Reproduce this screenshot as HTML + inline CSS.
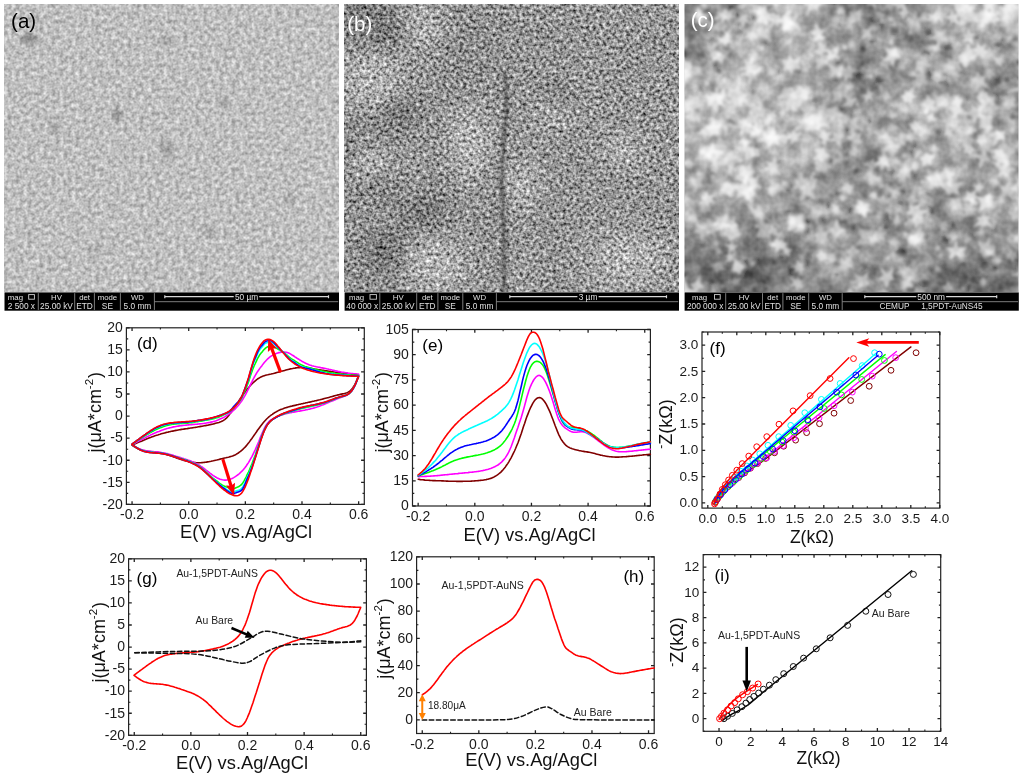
<!DOCTYPE html><html><head><meta charset="utf-8"><style>html,body{margin:0;padding:0;background:#fff;}svg{display:block;will-change:transform;font-family:"Liberation Sans", sans-serif;}</style></head><body>
<svg width="1024" height="776" viewBox="0 0 1024 776">
<rect width="1024" height="776" fill="#fff"/>
<defs>
<clipPath id="cpa"><rect x="4" y="4" width="335" height="288"/></clipPath>
<clipPath id="cpb"><rect x="344" y="4" width="335" height="288"/></clipPath>
<clipPath id="cpc"><rect x="684.5" y="4" width="334" height="288"/></clipPath>
<filter id="fa" x="-1" y="-1" width="345" height="298" filterUnits="userSpaceOnUse" color-interpolation-filters="sRGB"><feGaussianBlur in="SourceGraphic" stdDeviation="12" result="m"/><feTurbulence type="fractalNoise" baseFrequency="0.25" numOctaves="2" seed="4" result="n"/><feColorMatrix in="n" type="matrix" values="1 0 0 0 0 1 0 0 0 0 1 0 0 0 0 0 0 0 0 1" result="g"/><feComposite in="m" in2="g" operator="arithmetic" k1="0" k2="1" k3="0.5" k4="-0.25"/></filter>
<filter id="fb" x="339" y="-1" width="345" height="298" filterUnits="userSpaceOnUse" color-interpolation-filters="sRGB"><feGaussianBlur in="SourceGraphic" stdDeviation="10" result="m"/><feTurbulence type="fractalNoise" baseFrequency="0.3" numOctaves="2" seed="7" result="n"/><feColorMatrix in="n" type="matrix" values="1 0 0 0 0 1 0 0 0 0 1 0 0 0 0 0 0 0 0 1" result="g"/><feComponentTransfer in="g" result="g2"><feFuncR type="gamma" exponent="0.6"/><feFuncG type="gamma" exponent="0.6"/><feFuncB type="gamma" exponent="0.6"/></feComponentTransfer><feComposite in="m" in2="g2" operator="arithmetic" k1="0" k2="1" k3="1.4" k4="-0.8959999999999999"/></filter>
<filter id="fc" x="679.5" y="-1" width="344" height="298" filterUnits="userSpaceOnUse" color-interpolation-filters="sRGB"><feGaussianBlur in="SourceGraphic" stdDeviation="11" result="m"/><feTurbulence type="fractalNoise" baseFrequency="0.06" numOctaves="3" seed="23" result="n"/><feColorMatrix in="n" type="matrix" values="1 0 0 0 0 1 0 0 0 0 1 0 0 0 0 0 0 0 0 1" result="g"/><feComposite in="m" in2="g" operator="arithmetic" k1="0" k2="1" k3="0.5" k4="-0.25"/></filter>
<filter id="fcf" x="670" y="-10" width="360" height="310" filterUnits="userSpaceOnUse"><feGaussianBlur stdDeviation="1.7"/></filter>
<filter id="fas" x="0" y="0" width="345" height="300" filterUnits="userSpaceOnUse"><feGaussianBlur stdDeviation="2.5"/></filter>
<filter id="cb" x="480" y="50" width="50" height="260" filterUnits="userSpaceOnUse"><feGaussianBlur stdDeviation="1.5"/></filter>
</defs>
<g clip-path="url(#cpa)"><g filter="url(#fa)"><rect x="-36" y="-36" width="68.42" height="69.3" fill="#bfbfbf"/><rect x="31.92" y="-36" width="28.42" height="69.3" fill="#bfbfbf"/><rect x="59.83" y="-36" width="28.42" height="69.3" fill="#bfbfbf"/><rect x="87.75" y="-36" width="28.42" height="69.3" fill="#bfbfbf"/><rect x="115.67" y="-36" width="28.42" height="69.3" fill="#bfbfbf"/><rect x="143.58" y="-36" width="28.42" height="69.3" fill="#bfbfbf"/><rect x="171.5" y="-36" width="28.42" height="69.3" fill="#bfbfbf"/><rect x="199.42" y="-36" width="28.42" height="69.3" fill="#bfbfbf"/><rect x="227.33" y="-36" width="28.42" height="69.3" fill="#bfbfbf"/><rect x="255.25" y="-36" width="28.42" height="69.3" fill="#bfbfbf"/><rect x="283.17" y="-36" width="28.42" height="69.3" fill="#bfbfbf"/><rect x="311.08" y="-36" width="68.42" height="69.3" fill="#bfbfbf"/><rect x="-36" y="32.8" width="68.42" height="29.3" fill="#bfbfbf"/><rect x="31.92" y="32.8" width="28.42" height="29.3" fill="#bfbfbf"/><rect x="59.83" y="32.8" width="28.42" height="29.3" fill="#bfbfbf"/><rect x="87.75" y="32.8" width="28.42" height="29.3" fill="#bfbfbf"/><rect x="115.67" y="32.8" width="28.42" height="29.3" fill="#bfbfbf"/><rect x="143.58" y="32.8" width="28.42" height="29.3" fill="#bfbfbf"/><rect x="171.5" y="32.8" width="28.42" height="29.3" fill="#bfbfbf"/><rect x="199.42" y="32.8" width="28.42" height="29.3" fill="#bfbfbf"/><rect x="227.33" y="32.8" width="28.42" height="29.3" fill="#bfbfbf"/><rect x="255.25" y="32.8" width="28.42" height="29.3" fill="#bfbfbf"/><rect x="283.17" y="32.8" width="28.42" height="29.3" fill="#bfbfbf"/><rect x="311.08" y="32.8" width="68.42" height="29.3" fill="#bfbfbf"/><rect x="-36" y="61.6" width="68.42" height="29.3" fill="#bfbfbf"/><rect x="31.92" y="61.6" width="28.42" height="29.3" fill="#bfbfbf"/><rect x="59.83" y="61.6" width="28.42" height="29.3" fill="#bfbfbf"/><rect x="87.75" y="61.6" width="28.42" height="29.3" fill="#bfbfbf"/><rect x="115.67" y="61.6" width="28.42" height="29.3" fill="#bfbfbf"/><rect x="143.58" y="61.6" width="28.42" height="29.3" fill="#bfbfbf"/><rect x="171.5" y="61.6" width="28.42" height="29.3" fill="#bfbfbf"/><rect x="199.42" y="61.6" width="28.42" height="29.3" fill="#bfbfbf"/><rect x="227.33" y="61.6" width="28.42" height="29.3" fill="#bfbfbf"/><rect x="255.25" y="61.6" width="28.42" height="29.3" fill="#bfbfbf"/><rect x="283.17" y="61.6" width="28.42" height="29.3" fill="#bfbfbf"/><rect x="311.08" y="61.6" width="68.42" height="29.3" fill="#bfbfbf"/><rect x="-36" y="90.4" width="68.42" height="29.3" fill="#bfbfbf"/><rect x="31.92" y="90.4" width="28.42" height="29.3" fill="#bfbfbf"/><rect x="59.83" y="90.4" width="28.42" height="29.3" fill="#bfbfbf"/><rect x="87.75" y="90.4" width="28.42" height="29.3" fill="#bfbfbf"/><rect x="115.67" y="90.4" width="28.42" height="29.3" fill="#bfbfbf"/><rect x="143.58" y="90.4" width="28.42" height="29.3" fill="#bfbfbf"/><rect x="171.5" y="90.4" width="28.42" height="29.3" fill="#bfbfbf"/><rect x="199.42" y="90.4" width="28.42" height="29.3" fill="#bfbfbf"/><rect x="227.33" y="90.4" width="28.42" height="29.3" fill="#bfbfbf"/><rect x="255.25" y="90.4" width="28.42" height="29.3" fill="#bfbfbf"/><rect x="283.17" y="90.4" width="28.42" height="29.3" fill="#bfbfbf"/><rect x="311.08" y="90.4" width="68.42" height="29.3" fill="#bfbfbf"/><rect x="-36" y="119.2" width="68.42" height="29.3" fill="#bfbfbf"/><rect x="31.92" y="119.2" width="28.42" height="29.3" fill="#bfbfbf"/><rect x="59.83" y="119.2" width="28.42" height="29.3" fill="#bfbfbf"/><rect x="87.75" y="119.2" width="28.42" height="29.3" fill="#bfbfbf"/><rect x="115.67" y="119.2" width="28.42" height="29.3" fill="#bfbfbf"/><rect x="143.58" y="119.2" width="28.42" height="29.3" fill="#bfbfbf"/><rect x="171.5" y="119.2" width="28.42" height="29.3" fill="#bfbfbf"/><rect x="199.42" y="119.2" width="28.42" height="29.3" fill="#bfbfbf"/><rect x="227.33" y="119.2" width="28.42" height="29.3" fill="#bfbfbf"/><rect x="255.25" y="119.2" width="28.42" height="29.3" fill="#bfbfbf"/><rect x="283.17" y="119.2" width="28.42" height="29.3" fill="#bfbfbf"/><rect x="311.08" y="119.2" width="68.42" height="29.3" fill="#bfbfbf"/><rect x="-36" y="148" width="68.42" height="29.3" fill="#bfbfbf"/><rect x="31.92" y="148" width="28.42" height="29.3" fill="#bfbfbf"/><rect x="59.83" y="148" width="28.42" height="29.3" fill="#bfbfbf"/><rect x="87.75" y="148" width="28.42" height="29.3" fill="#bfbfbf"/><rect x="115.67" y="148" width="28.42" height="29.3" fill="#bfbfbf"/><rect x="143.58" y="148" width="28.42" height="29.3" fill="#bfbfbf"/><rect x="171.5" y="148" width="28.42" height="29.3" fill="#bfbfbf"/><rect x="199.42" y="148" width="28.42" height="29.3" fill="#bfbfbf"/><rect x="227.33" y="148" width="28.42" height="29.3" fill="#bfbfbf"/><rect x="255.25" y="148" width="28.42" height="29.3" fill="#bfbfbf"/><rect x="283.17" y="148" width="28.42" height="29.3" fill="#bfbfbf"/><rect x="311.08" y="148" width="68.42" height="29.3" fill="#bfbfbf"/><rect x="-36" y="176.8" width="68.42" height="29.3" fill="#bfbfbf"/><rect x="31.92" y="176.8" width="28.42" height="29.3" fill="#bfbfbf"/><rect x="59.83" y="176.8" width="28.42" height="29.3" fill="#bfbfbf"/><rect x="87.75" y="176.8" width="28.42" height="29.3" fill="#bfbfbf"/><rect x="115.67" y="176.8" width="28.42" height="29.3" fill="#bfbfbf"/><rect x="143.58" y="176.8" width="28.42" height="29.3" fill="#bfbfbf"/><rect x="171.5" y="176.8" width="28.42" height="29.3" fill="#bfbfbf"/><rect x="199.42" y="176.8" width="28.42" height="29.3" fill="#bfbfbf"/><rect x="227.33" y="176.8" width="28.42" height="29.3" fill="#bfbfbf"/><rect x="255.25" y="176.8" width="28.42" height="29.3" fill="#bfbfbf"/><rect x="283.17" y="176.8" width="28.42" height="29.3" fill="#bfbfbf"/><rect x="311.08" y="176.8" width="68.42" height="29.3" fill="#bfbfbf"/><rect x="-36" y="205.6" width="68.42" height="29.3" fill="#bfbfbf"/><rect x="31.92" y="205.6" width="28.42" height="29.3" fill="#bfbfbf"/><rect x="59.83" y="205.6" width="28.42" height="29.3" fill="#bfbfbf"/><rect x="87.75" y="205.6" width="28.42" height="29.3" fill="#bfbfbf"/><rect x="115.67" y="205.6" width="28.42" height="29.3" fill="#bfbfbf"/><rect x="143.58" y="205.6" width="28.42" height="29.3" fill="#bfbfbf"/><rect x="171.5" y="205.6" width="28.42" height="29.3" fill="#bfbfbf"/><rect x="199.42" y="205.6" width="28.42" height="29.3" fill="#bfbfbf"/><rect x="227.33" y="205.6" width="28.42" height="29.3" fill="#bfbfbf"/><rect x="255.25" y="205.6" width="28.42" height="29.3" fill="#bfbfbf"/><rect x="283.17" y="205.6" width="28.42" height="29.3" fill="#bfbfbf"/><rect x="311.08" y="205.6" width="68.42" height="29.3" fill="#bfbfbf"/><rect x="-36" y="234.4" width="68.42" height="29.3" fill="#bfbfbf"/><rect x="31.92" y="234.4" width="28.42" height="29.3" fill="#bfbfbf"/><rect x="59.83" y="234.4" width="28.42" height="29.3" fill="#bfbfbf"/><rect x="87.75" y="234.4" width="28.42" height="29.3" fill="#bfbfbf"/><rect x="115.67" y="234.4" width="28.42" height="29.3" fill="#bfbfbf"/><rect x="143.58" y="234.4" width="28.42" height="29.3" fill="#bfbfbf"/><rect x="171.5" y="234.4" width="28.42" height="29.3" fill="#bfbfbf"/><rect x="199.42" y="234.4" width="28.42" height="29.3" fill="#bfbfbf"/><rect x="227.33" y="234.4" width="28.42" height="29.3" fill="#bfbfbf"/><rect x="255.25" y="234.4" width="28.42" height="29.3" fill="#bfbfbf"/><rect x="283.17" y="234.4" width="28.42" height="29.3" fill="#bfbfbf"/><rect x="311.08" y="234.4" width="68.42" height="29.3" fill="#bfbfbf"/><rect x="-36" y="263.2" width="68.42" height="69.3" fill="#bfbfbf"/><rect x="31.92" y="263.2" width="28.42" height="69.3" fill="#bfbfbf"/><rect x="59.83" y="263.2" width="28.42" height="69.3" fill="#bfbfbf"/><rect x="87.75" y="263.2" width="28.42" height="69.3" fill="#bfbfbf"/><rect x="115.67" y="263.2" width="28.42" height="69.3" fill="#bfbfbf"/><rect x="143.58" y="263.2" width="28.42" height="69.3" fill="#bfbfbf"/><rect x="171.5" y="263.2" width="28.42" height="69.3" fill="#bfbfbf"/><rect x="199.42" y="263.2" width="28.42" height="69.3" fill="#bfbfbf"/><rect x="227.33" y="263.2" width="28.42" height="69.3" fill="#bfbfbf"/><rect x="255.25" y="263.2" width="28.42" height="69.3" fill="#bfbfbf"/><rect x="283.17" y="263.2" width="28.42" height="69.3" fill="#bfbfbf"/><rect x="311.08" y="263.2" width="68.42" height="69.3" fill="#bfbfbf"/></g><g filter="url(#fas)"><ellipse cx="30" cy="39" rx="8" ry="5" fill="#000" fill-opacity="0.3"/><ellipse cx="165" cy="42" rx="7" ry="3" fill="#000" fill-opacity="0.2"/><ellipse cx="224" cy="103" rx="6" ry="3" fill="#000" fill-opacity="0.2"/><ellipse cx="117" cy="115" rx="5" ry="7" fill="#000" fill-opacity="0.2"/><ellipse cx="167" cy="150" rx="6" ry="9" fill="#000" fill-opacity="0.18"/><ellipse cx="55" cy="128" rx="5" ry="6" fill="#000" fill-opacity="0.18"/><ellipse cx="210" cy="232" rx="6" ry="4" fill="#000" fill-opacity="0.18"/><ellipse cx="95" cy="250" rx="5" ry="4" fill="#000" fill-opacity="0.15"/><ellipse cx="290" cy="200" rx="4" ry="6" fill="#000" fill-opacity="0.15"/></g></g>
<g clip-path="url(#cpb)"><g filter="url(#fb)"><rect x="304" y="-36" width="68.42" height="69.3" fill="#787878"/><rect x="371.92" y="-36" width="28.42" height="69.3" fill="#818181"/><rect x="399.83" y="-36" width="28.42" height="69.3" fill="#9d9d9d"/><rect x="427.75" y="-36" width="28.42" height="69.3" fill="#919191"/><rect x="455.67" y="-36" width="28.42" height="69.3" fill="#8b8b8b"/><rect x="483.58" y="-36" width="28.42" height="69.3" fill="#8c8c8c"/><rect x="511.5" y="-36" width="28.42" height="69.3" fill="#8f8f8f"/><rect x="539.42" y="-36" width="28.42" height="69.3" fill="#8f8f8f"/><rect x="567.33" y="-36" width="28.42" height="69.3" fill="#909090"/><rect x="595.25" y="-36" width="28.42" height="69.3" fill="#939393"/><rect x="623.17" y="-36" width="28.42" height="69.3" fill="#909090"/><rect x="651.08" y="-36" width="68.42" height="69.3" fill="#909090"/><rect x="304" y="32.8" width="68.42" height="29.3" fill="#898989"/><rect x="371.92" y="32.8" width="28.42" height="29.3" fill="#929292"/><rect x="399.83" y="32.8" width="28.42" height="29.3" fill="#979797"/><rect x="427.75" y="32.8" width="28.42" height="29.3" fill="#8a8a8a"/><rect x="455.67" y="32.8" width="28.42" height="29.3" fill="#868686"/><rect x="483.58" y="32.8" width="28.42" height="29.3" fill="#8c8c8c"/><rect x="511.5" y="32.8" width="28.42" height="29.3" fill="#8f8f8f"/><rect x="539.42" y="32.8" width="28.42" height="29.3" fill="#8d8d8d"/><rect x="567.33" y="32.8" width="28.42" height="29.3" fill="#909090"/><rect x="595.25" y="32.8" width="28.42" height="29.3" fill="#909090"/><rect x="623.17" y="32.8" width="28.42" height="29.3" fill="#8d8d8d"/><rect x="651.08" y="32.8" width="68.42" height="29.3" fill="#8f8f8f"/><rect x="304" y="61.6" width="68.42" height="29.3" fill="#9d9d9d"/><rect x="371.92" y="61.6" width="28.42" height="29.3" fill="#9c9c9c"/><rect x="399.83" y="61.6" width="28.42" height="29.3" fill="#919191"/><rect x="427.75" y="61.6" width="28.42" height="29.3" fill="#8c8c8c"/><rect x="455.67" y="61.6" width="28.42" height="29.3" fill="#898989"/><rect x="483.58" y="61.6" width="28.42" height="29.3" fill="#8f8f8f"/><rect x="511.5" y="61.6" width="28.42" height="29.3" fill="#8d8d8d"/><rect x="539.42" y="61.6" width="28.42" height="29.3" fill="#8f8f8f"/><rect x="567.33" y="61.6" width="28.42" height="29.3" fill="#939393"/><rect x="595.25" y="61.6" width="28.42" height="29.3" fill="#909090"/><rect x="623.17" y="61.6" width="28.42" height="29.3" fill="#8f8f8f"/><rect x="651.08" y="61.6" width="68.42" height="29.3" fill="#909090"/><rect x="304" y="90.4" width="68.42" height="29.3" fill="#949494"/><rect x="371.92" y="90.4" width="28.42" height="29.3" fill="#888888"/><rect x="399.83" y="90.4" width="28.42" height="29.3" fill="#8c8c8c"/><rect x="427.75" y="90.4" width="28.42" height="29.3" fill="#8f8f8f"/><rect x="455.67" y="90.4" width="28.42" height="29.3" fill="#8f8f8f"/><rect x="483.58" y="90.4" width="28.42" height="29.3" fill="#909090"/><rect x="511.5" y="90.4" width="28.42" height="29.3" fill="#919191"/><rect x="539.42" y="90.4" width="28.42" height="29.3" fill="#888888"/><rect x="567.33" y="90.4" width="28.42" height="29.3" fill="#929292"/><rect x="595.25" y="90.4" width="28.42" height="29.3" fill="#909090"/><rect x="623.17" y="90.4" width="28.42" height="29.3" fill="#909090"/><rect x="651.08" y="90.4" width="68.42" height="29.3" fill="#909090"/><rect x="304" y="119.2" width="68.42" height="29.3" fill="#838383"/><rect x="371.92" y="119.2" width="28.42" height="29.3" fill="#858585"/><rect x="399.83" y="119.2" width="28.42" height="29.3" fill="#8f8f8f"/><rect x="427.75" y="119.2" width="28.42" height="29.3" fill="#909090"/><rect x="455.67" y="119.2" width="28.42" height="29.3" fill="#929292"/><rect x="483.58" y="119.2" width="28.42" height="29.3" fill="#8d8d8d"/><rect x="511.5" y="119.2" width="28.42" height="29.3" fill="#909090"/><rect x="539.42" y="119.2" width="28.42" height="29.3" fill="#8f8f8f"/><rect x="567.33" y="119.2" width="28.42" height="29.3" fill="#909090"/><rect x="595.25" y="119.2" width="28.42" height="29.3" fill="#909090"/><rect x="623.17" y="119.2" width="28.42" height="29.3" fill="#909090"/><rect x="651.08" y="119.2" width="68.42" height="29.3" fill="#909090"/><rect x="304" y="148" width="68.42" height="29.3" fill="#828282"/><rect x="371.92" y="148" width="28.42" height="29.3" fill="#8d8d8d"/><rect x="399.83" y="148" width="28.42" height="29.3" fill="#939393"/><rect x="427.75" y="148" width="28.42" height="29.3" fill="#8c8c8c"/><rect x="455.67" y="148" width="28.42" height="29.3" fill="#909090"/><rect x="483.58" y="148" width="28.42" height="29.3" fill="#8a8a8a"/><rect x="511.5" y="148" width="28.42" height="29.3" fill="#959595"/><rect x="539.42" y="148" width="28.42" height="29.3" fill="#909090"/><rect x="567.33" y="148" width="28.42" height="29.3" fill="#8d8d8d"/><rect x="595.25" y="148" width="28.42" height="29.3" fill="#909090"/><rect x="623.17" y="148" width="28.42" height="29.3" fill="#959595"/><rect x="651.08" y="148" width="68.42" height="29.3" fill="#919191"/><rect x="304" y="176.8" width="68.42" height="29.3" fill="#878787"/><rect x="371.92" y="176.8" width="28.42" height="29.3" fill="#858585"/><rect x="399.83" y="176.8" width="28.42" height="29.3" fill="#909090"/><rect x="427.75" y="176.8" width="28.42" height="29.3" fill="#878787"/><rect x="455.67" y="176.8" width="28.42" height="29.3" fill="#949494"/><rect x="483.58" y="176.8" width="28.42" height="29.3" fill="#8a8a8a"/><rect x="511.5" y="176.8" width="28.42" height="29.3" fill="#959595"/><rect x="539.42" y="176.8" width="28.42" height="29.3" fill="#8d8d8d"/><rect x="567.33" y="176.8" width="28.42" height="29.3" fill="#8f8f8f"/><rect x="595.25" y="176.8" width="28.42" height="29.3" fill="#8f8f8f"/><rect x="623.17" y="176.8" width="28.42" height="29.3" fill="#8d8d8d"/><rect x="651.08" y="176.8" width="68.42" height="29.3" fill="#8f8f8f"/><rect x="304" y="205.6" width="68.42" height="29.3" fill="#8f8f8f"/><rect x="371.92" y="205.6" width="28.42" height="29.3" fill="#929292"/><rect x="399.83" y="205.6" width="28.42" height="29.3" fill="#8e8e8e"/><rect x="427.75" y="205.6" width="28.42" height="29.3" fill="#898989"/><rect x="455.67" y="205.6" width="28.42" height="29.3" fill="#8f8f8f"/><rect x="483.58" y="205.6" width="28.42" height="29.3" fill="#898989"/><rect x="511.5" y="205.6" width="28.42" height="29.3" fill="#909090"/><rect x="539.42" y="205.6" width="28.42" height="29.3" fill="#8c8c8c"/><rect x="567.33" y="205.6" width="28.42" height="29.3" fill="#909090"/><rect x="595.25" y="205.6" width="28.42" height="29.3" fill="#919191"/><rect x="623.17" y="205.6" width="28.42" height="29.3" fill="#8e8e8e"/><rect x="651.08" y="205.6" width="68.42" height="29.3" fill="#8d8d8d"/><rect x="304" y="234.4" width="68.42" height="29.3" fill="#8b8b8b"/><rect x="371.92" y="234.4" width="28.42" height="29.3" fill="#818181"/><rect x="399.83" y="234.4" width="28.42" height="29.3" fill="#919191"/><rect x="427.75" y="234.4" width="28.42" height="29.3" fill="#8e8e8e"/><rect x="455.67" y="234.4" width="28.42" height="29.3" fill="#939393"/><rect x="483.58" y="234.4" width="28.42" height="29.3" fill="#8d8d8d"/><rect x="511.5" y="234.4" width="28.42" height="29.3" fill="#959595"/><rect x="539.42" y="234.4" width="28.42" height="29.3" fill="#8b8b8b"/><rect x="567.33" y="234.4" width="28.42" height="29.3" fill="#969696"/><rect x="595.25" y="234.4" width="28.42" height="29.3" fill="#9e9e9e"/><rect x="623.17" y="234.4" width="28.42" height="29.3" fill="#9d9d9d"/><rect x="651.08" y="234.4" width="68.42" height="29.3" fill="#949494"/><rect x="304" y="263.2" width="68.42" height="69.3" fill="#8d8d8d"/><rect x="371.92" y="263.2" width="28.42" height="69.3" fill="#868686"/><rect x="399.83" y="263.2" width="28.42" height="69.3" fill="#959595"/><rect x="427.75" y="263.2" width="28.42" height="69.3" fill="#979797"/><rect x="455.67" y="263.2" width="28.42" height="69.3" fill="#969696"/><rect x="483.58" y="263.2" width="28.42" height="69.3" fill="#8c8c8c"/><rect x="511.5" y="263.2" width="28.42" height="69.3" fill="#989898"/><rect x="539.42" y="263.2" width="28.42" height="69.3" fill="#8e8e8e"/><rect x="567.33" y="263.2" width="28.42" height="69.3" fill="#959595"/><rect x="595.25" y="263.2" width="28.42" height="69.3" fill="#9e9e9e"/><rect x="623.17" y="263.2" width="28.42" height="69.3" fill="#999999"/><rect x="651.08" y="263.2" width="68.42" height="69.3" fill="#929292"/><ellipse cx="425" cy="28" rx="18" ry="17" fill="#acacac"/><ellipse cx="374" cy="78" rx="26" ry="30" fill="#acacac"/><ellipse cx="470" cy="143" rx="22" ry="35" fill="#acacac"/><ellipse cx="522" cy="186" rx="15" ry="26" fill="#acacac"/><ellipse cx="632" cy="257" rx="32" ry="22" fill="#acacac"/><ellipse cx="622" cy="149" rx="18" ry="15" fill="#acacac"/><ellipse cx="371" cy="168" rx="18" ry="24" fill="#acacac"/><ellipse cx="435" cy="263" rx="28" ry="26" fill="#acacac"/><ellipse cx="555" cy="112" rx="18" ry="15" fill="#acacac"/><ellipse cx="384" cy="33" rx="20" ry="17" fill="#6c6c6c"/><ellipse cx="400" cy="113" rx="18" ry="13" fill="#6c6c6c"/><ellipse cx="377" cy="186" rx="12" ry="9" fill="#6c6c6c"/><ellipse cx="422" cy="212" rx="22" ry="14" fill="#6c6c6c"/><ellipse cx="385" cy="249" rx="18" ry="22" fill="#6c6c6c"/><ellipse cx="559" cy="97" rx="14" ry="8" fill="#6c6c6c"/></g><path d="M505,72 C510,110 500,150 502,190 C503,230 506,260 503,300" stroke="#202020" stroke-width="3" fill="none" opacity="0.6" filter="url(#cb)"/></g>
<g clip-path="url(#cpc)"><g filter="url(#fc)"><rect x="644.5" y="-36" width="68.33" height="69.3" fill="#868686"/><rect x="712.33" y="-36" width="28.33" height="69.3" fill="#8b8b8b"/><rect x="740.17" y="-36" width="28.33" height="69.3" fill="#afafaf"/><rect x="768" y="-36" width="28.33" height="69.3" fill="#b8b8b8"/><rect x="795.83" y="-36" width="28.33" height="69.3" fill="#a1a1a1"/><rect x="823.67" y="-36" width="28.33" height="69.3" fill="#919191"/><rect x="851.5" y="-36" width="28.33" height="69.3" fill="#838383"/><rect x="879.33" y="-36" width="28.33" height="69.3" fill="#8e8e8e"/><rect x="907.17" y="-36" width="28.33" height="69.3" fill="#949494"/><rect x="935" y="-36" width="28.33" height="69.3" fill="#a3a3a3"/><rect x="962.83" y="-36" width="28.33" height="69.3" fill="#bbbbbb"/><rect x="990.67" y="-36" width="68.33" height="69.3" fill="#b1b1b1"/><rect x="644.5" y="32.8" width="68.33" height="29.3" fill="#808080"/><rect x="712.33" y="32.8" width="28.33" height="29.3" fill="#aeaeae"/><rect x="740.17" y="32.8" width="28.33" height="29.3" fill="#b2b2b2"/><rect x="768" y="32.8" width="28.33" height="29.3" fill="#a3a3a3"/><rect x="795.83" y="32.8" width="28.33" height="29.3" fill="#b2b2b2"/><rect x="823.67" y="32.8" width="28.33" height="29.3" fill="#ababab"/><rect x="851.5" y="32.8" width="28.33" height="29.3" fill="#939393"/><rect x="879.33" y="32.8" width="28.33" height="29.3" fill="#9c9c9c"/><rect x="907.17" y="32.8" width="28.33" height="29.3" fill="#8d8d8d"/><rect x="935" y="32.8" width="28.33" height="29.3" fill="#979797"/><rect x="962.83" y="32.8" width="28.33" height="29.3" fill="#a9a9a9"/><rect x="990.67" y="32.8" width="68.33" height="29.3" fill="#9c9c9c"/><rect x="644.5" y="61.6" width="68.33" height="29.3" fill="#acacac"/><rect x="712.33" y="61.6" width="28.33" height="29.3" fill="#adadad"/><rect x="740.17" y="61.6" width="28.33" height="29.3" fill="#bbbbbb"/><rect x="768" y="61.6" width="28.33" height="29.3" fill="#a6a6a6"/><rect x="795.83" y="61.6" width="28.33" height="29.3" fill="#9a9a9a"/><rect x="823.67" y="61.6" width="28.33" height="29.3" fill="#898989"/><rect x="851.5" y="61.6" width="28.33" height="29.3" fill="#777777"/><rect x="879.33" y="61.6" width="28.33" height="29.3" fill="#8d8d8d"/><rect x="907.17" y="61.6" width="28.33" height="29.3" fill="#a9a9a9"/><rect x="935" y="61.6" width="28.33" height="29.3" fill="#9e9e9e"/><rect x="962.83" y="61.6" width="28.33" height="29.3" fill="#9b9b9b"/><rect x="990.67" y="61.6" width="68.33" height="29.3" fill="#828282"/><rect x="644.5" y="90.4" width="68.33" height="29.3" fill="#b5b5b5"/><rect x="712.33" y="90.4" width="28.33" height="29.3" fill="#a2a2a2"/><rect x="740.17" y="90.4" width="28.33" height="29.3" fill="#adadad"/><rect x="768" y="90.4" width="28.33" height="29.3" fill="#b7b7b7"/><rect x="795.83" y="90.4" width="28.33" height="29.3" fill="#afafaf"/><rect x="823.67" y="90.4" width="28.33" height="29.3" fill="#919191"/><rect x="851.5" y="90.4" width="28.33" height="29.3" fill="#909090"/><rect x="879.33" y="90.4" width="28.33" height="29.3" fill="#a9a9a9"/><rect x="907.17" y="90.4" width="28.33" height="29.3" fill="#a9a9a9"/><rect x="935" y="90.4" width="28.33" height="29.3" fill="#a9a9a9"/><rect x="962.83" y="90.4" width="28.33" height="29.3" fill="#a8a8a8"/><rect x="990.67" y="90.4" width="68.33" height="29.3" fill="#9a9a9a"/><rect x="644.5" y="119.2" width="68.33" height="29.3" fill="#ababab"/><rect x="712.33" y="119.2" width="28.33" height="29.3" fill="#aaaaaa"/><rect x="740.17" y="119.2" width="28.33" height="29.3" fill="#adadad"/><rect x="768" y="119.2" width="28.33" height="29.3" fill="#b9b9b9"/><rect x="795.83" y="119.2" width="28.33" height="29.3" fill="#b7b7b7"/><rect x="823.67" y="119.2" width="28.33" height="29.3" fill="#a6a6a6"/><rect x="851.5" y="119.2" width="28.33" height="29.3" fill="#a3a3a3"/><rect x="879.33" y="119.2" width="28.33" height="29.3" fill="#a2a2a2"/><rect x="907.17" y="119.2" width="28.33" height="29.3" fill="#b8b8b8"/><rect x="935" y="119.2" width="28.33" height="29.3" fill="#ababab"/><rect x="962.83" y="119.2" width="28.33" height="29.3" fill="#9e9e9e"/><rect x="990.67" y="119.2" width="68.33" height="29.3" fill="#9c9c9c"/><rect x="644.5" y="148" width="68.33" height="29.3" fill="#9f9f9f"/><rect x="712.33" y="148" width="28.33" height="29.3" fill="#acacac"/><rect x="740.17" y="148" width="28.33" height="29.3" fill="#b6b6b6"/><rect x="768" y="148" width="28.33" height="29.3" fill="#b7b7b7"/><rect x="795.83" y="148" width="28.33" height="29.3" fill="#a3a3a3"/><rect x="823.67" y="148" width="28.33" height="29.3" fill="#858585"/><rect x="851.5" y="148" width="28.33" height="29.3" fill="#7b7b7b"/><rect x="879.33" y="148" width="28.33" height="29.3" fill="#999999"/><rect x="907.17" y="148" width="28.33" height="29.3" fill="#a0a0a0"/><rect x="935" y="148" width="28.33" height="29.3" fill="#a1a1a1"/><rect x="962.83" y="148" width="28.33" height="29.3" fill="#979797"/><rect x="990.67" y="148" width="68.33" height="29.3" fill="#9d9d9d"/><rect x="644.5" y="176.8" width="68.33" height="29.3" fill="#9d9d9d"/><rect x="712.33" y="176.8" width="28.33" height="29.3" fill="#adadad"/><rect x="740.17" y="176.8" width="28.33" height="29.3" fill="#a5a5a5"/><rect x="768" y="176.8" width="28.33" height="29.3" fill="#a3a3a3"/><rect x="795.83" y="176.8" width="28.33" height="29.3" fill="#979797"/><rect x="823.67" y="176.8" width="28.33" height="29.3" fill="#999999"/><rect x="851.5" y="176.8" width="28.33" height="29.3" fill="#939393"/><rect x="879.33" y="176.8" width="28.33" height="29.3" fill="#9b9b9b"/><rect x="907.17" y="176.8" width="28.33" height="29.3" fill="#a0a0a0"/><rect x="935" y="176.8" width="28.33" height="29.3" fill="#989898"/><rect x="962.83" y="176.8" width="28.33" height="29.3" fill="#969696"/><rect x="990.67" y="176.8" width="68.33" height="29.3" fill="#ababab"/><rect x="644.5" y="205.6" width="68.33" height="29.3" fill="#8e8e8e"/><rect x="712.33" y="205.6" width="28.33" height="29.3" fill="#9a9a9a"/><rect x="740.17" y="205.6" width="28.33" height="29.3" fill="#939393"/><rect x="768" y="205.6" width="28.33" height="29.3" fill="#9a9a9a"/><rect x="795.83" y="205.6" width="28.33" height="29.3" fill="#959595"/><rect x="823.67" y="205.6" width="28.33" height="29.3" fill="#9b9b9b"/><rect x="851.5" y="205.6" width="28.33" height="29.3" fill="#9a9a9a"/><rect x="879.33" y="205.6" width="28.33" height="29.3" fill="#919191"/><rect x="907.17" y="205.6" width="28.33" height="29.3" fill="#969696"/><rect x="935" y="205.6" width="28.33" height="29.3" fill="#9e9e9e"/><rect x="962.83" y="205.6" width="28.33" height="29.3" fill="#919191"/><rect x="990.67" y="205.6" width="68.33" height="29.3" fill="#9c9c9c"/><rect x="644.5" y="234.4" width="68.33" height="29.3" fill="#808080"/><rect x="712.33" y="234.4" width="28.33" height="29.3" fill="#7d7d7d"/><rect x="740.17" y="234.4" width="28.33" height="29.3" fill="#6f6f6f"/><rect x="768" y="234.4" width="28.33" height="29.3" fill="#8a8a8a"/><rect x="795.83" y="234.4" width="28.33" height="29.3" fill="#8f8f8f"/><rect x="823.67" y="234.4" width="28.33" height="29.3" fill="#9a9a9a"/><rect x="851.5" y="234.4" width="28.33" height="29.3" fill="#969696"/><rect x="879.33" y="234.4" width="28.33" height="29.3" fill="#989898"/><rect x="907.17" y="234.4" width="28.33" height="29.3" fill="#8f8f8f"/><rect x="935" y="234.4" width="28.33" height="29.3" fill="#8d8d8d"/><rect x="962.83" y="234.4" width="28.33" height="29.3" fill="#8f8f8f"/><rect x="990.67" y="234.4" width="68.33" height="29.3" fill="#919191"/><rect x="644.5" y="263.2" width="68.33" height="69.3" fill="#818181"/><rect x="712.33" y="263.2" width="28.33" height="69.3" fill="#717171"/><rect x="740.17" y="263.2" width="28.33" height="69.3" fill="#646464"/><rect x="768" y="263.2" width="28.33" height="69.3" fill="#797979"/><rect x="795.83" y="263.2" width="28.33" height="69.3" fill="#919191"/><rect x="823.67" y="263.2" width="28.33" height="69.3" fill="#9a9a9a"/><rect x="851.5" y="263.2" width="28.33" height="69.3" fill="#8f8f8f"/><rect x="879.33" y="263.2" width="28.33" height="69.3" fill="#8e8e8e"/><rect x="907.17" y="263.2" width="28.33" height="69.3" fill="#8a8a8a"/><rect x="935" y="263.2" width="28.33" height="69.3" fill="#737373"/><rect x="962.83" y="263.2" width="28.33" height="69.3" fill="#676767"/><rect x="990.67" y="263.2" width="68.33" height="69.3" fill="#6d6d6d"/></g><g filter="url(#fcf)"><g fill="#000"><polygon points="832.8,110.8 836.6,108.9 833.9,104.5 838.0,107.1 840.4,103.5 839.9,108.2 845.2,107.9 841.2,110.3 842.2,113.4 839.0,111.3 837.3,113.6 837.2,110.7" fill-opacity="0.42"/><polygon points="819.8,101.5 816.4,101.6 815.2,103.8 814.1,101.4 809.4,101.6 813.7,99.3 812.3,95.4 815.3,98.2 818.6,95.7 817.7,99.2" fill-opacity="0.25"/><polygon points="676.9,20.8 678.7,20.6 679.2,18.8 680.1,20.2 682.5,20.1 680.4,21.6 681.8,24.2 679.5,22.8 678.2,23.4 678.3,21.8" fill-opacity="0.37"/><polygon points="812.7,270.8 815.2,269.8 815.3,266.5 817.6,269.5 820.6,267.2 819.5,270.6 821.2,272.0 819.0,272.8 819.4,276.6 816.9,274.2 814.7,274.8 814.9,272.4" fill-opacity="0.20"/><polygon points="720.6,67.1 716.2,65.2 713.6,69.3 713.2,65.1 710.2,63.3 713.4,61.7 714.2,58.8 716.5,60.7 719.9,60.4 717.8,63.4" fill-opacity="0.44"/><polygon points="811.7,196.6 807.8,199.8 807.5,203.2 805.0,200.8 801.5,200.6 804.0,198.2 803.8,193.9 806.9,196.3" fill-opacity="0.27"/><polygon points="681.6,234.8 682.8,237.6 685.9,238.7 682.9,240.0 681.7,243.4 680.1,240.5 677.0,238.9 680.0,237.2" fill-opacity="0.37"/><polygon points="800.6,280.0 798.1,278.8 796.1,278.2 796.8,276.2 796.7,273.6 799.1,274.8 800.9,275.2 800.5,277.1" fill-opacity="0.35"/><polygon points="882.4,172.3 882.0,173.8 883.4,175.8 880.8,175.4 880.1,178.3 878.8,175.9 877.2,175.6 877.7,174.0 876.5,172.2 878.8,172.3 879.7,169.7 880.6,172.6" fill-opacity="0.35"/><polygon points="802.3,263.3 804.3,261.6 804.8,259.4 807.0,260.8 809.6,258.5 809.8,261.5 811.4,263.0 809.1,264.2 810.3,268.4 807.2,265.5 805.1,266.8 804.4,264.8" fill-opacity="0.34"/><polygon points="845.9,208.9 844.4,210.5 844.9,213.2 842.6,211.6 841.0,212.0 841.3,210.3 840.0,208.9 841.6,208.5 842.7,207.1 843.4,208.8" fill-opacity="0.23"/><polygon points="809.8,223.0 808.1,223.4 806.9,226.3 806.0,222.7 803.4,223.3 804.6,221.3 801.9,218.5 805.7,219.4 806.8,216.9 808.1,219.0 810.7,219.0 808.8,221.3" fill-opacity="0.42"/><polygon points="901.0,199.4 901.4,202.0 903.8,202.8 901.5,203.9 901.6,206.6 899.9,204.1 898.0,204.9 898.9,203.2 897.3,201.4 899.6,201.8" fill-opacity="0.29"/><polygon points="972.8,115.6 971.3,117.4 972.4,119.2 970.2,118.6 969.3,120.4 968.6,118.8 966.9,118.7 967.9,117.2 966.5,115.4 968.5,115.3 969.7,112.7 970.3,116.1" fill-opacity="0.44"/><polygon points="944.9,242.6 943.4,241.1 941.1,241.8 942.5,239.3 940.0,238.0 942.5,237.6 942.7,234.7 944.4,237.0 946.8,235.9 945.9,238.4 947.9,239.9 945.2,240.2" fill-opacity="0.42"/><polygon points="743.5,272.4 746.1,271.1 749.0,270.5 750.0,273.2 753.0,276.9 748.3,277.2 744.4,280.0 744.0,275.3" fill-opacity="0.27"/><polygon points="996.9,5.4 998.8,2.5 1000.3,-0.2 1002.9,1.6 1006.8,2.4 1004.5,5.5 1003.2,9.3 1000.6,5.9" fill-opacity="0.34"/><polygon points="696.8,228.6 695.9,231.0 696.8,233.0 694.4,232.6 693.0,234.5 692.2,232.5 688.9,231.6 692.3,230.3 692.4,227.8 694.2,229.3" fill-opacity="0.33"/><polygon points="704.9,249.1 702.9,248.3 700.6,248.5 700.7,246.3 699.3,243.9 702.1,243.7 704.0,240.8 705.1,243.9 708.5,245.0 705.0,246.7" fill-opacity="0.29"/><polygon points="1010.3,114.0 1012.2,114.3 1014.1,112.4 1013.9,115.5 1017.2,115.7 1014.9,117.4 1015.3,119.7 1012.9,118.1 1011.4,120.2 1011.5,117.6 1008.2,117.5 1011.0,116.1" fill-opacity="0.41"/><polygon points="717.1,93.1 718.0,90.7 715.8,88.6 718.8,88.7 720.0,87.7 721.1,88.8 722.6,89.8 721.0,91.0 721.0,92.7 719.4,92.5" fill-opacity="0.38"/><polygon points="853.5,248.3 855.6,250.8 858.0,251.3 857.3,253.7 857.5,256.3 854.8,255.8 852.2,257.6 851.2,254.9 849.6,252.5 852.0,250.9" fill-opacity="0.21"/><polygon points="1025.9,235.9 1026.1,240.3 1028.0,242.4 1025.2,243.1 1022.8,245.9 1021.9,242.5 1018.1,239.3 1023.1,238.9" fill-opacity="0.45"/><polygon points="738.5,5.1 736.5,5.6 737.0,7.7 735.6,6.4 733.7,8.1 734.2,5.8 733.2,4.9 734.5,4.3 734.3,2.6 735.7,3.5 737.2,2.6 736.6,4.5" fill-opacity="0.28"/><polygon points="858.2,260.2 854.5,260.5 851.6,261.3 851.0,258.4 850.4,255.8 852.9,254.7 856.1,253.4 856.7,256.8" fill-opacity="0.32"/><polygon points="820.0,143.7 822.0,144.2 825.1,144.2 823.8,147.1 824.1,149.3 821.6,148.8 819.3,152.2 819.0,148.5 816.6,147.0 819.1,145.6" fill-opacity="0.39"/><polygon points="804.6,235.0 803.6,232.5 799.8,229.5 804.9,228.8 806.3,226.2 808.5,228.0 811.7,228.7 809.3,231.4 810.7,235.0 807.3,234.1" fill-opacity="0.28"/><polygon points="860.2,298.9 855.9,298.5 853.0,300.1 853.2,296.7 851.2,293.9 854.7,294.5 857.9,291.1 856.9,295.6" fill-opacity="0.22"/><polygon points="961.6,68.6 962.7,70.4 964.7,70.4 964.0,72.2 964.6,73.8 962.7,73.7 961.9,76.3 961.0,73.8 957.9,74.7 959.6,72.3 959.0,70.8 961.0,71.0" fill-opacity="0.35"/><polygon points="965.3,39.1 962.8,39.0 961.6,42.3 960.4,39.0 957.5,39.3 959.1,36.9 956.0,33.7 960.0,34.2 961.6,31.2 962.7,35.0 966.5,34.1 963.7,36.9" fill-opacity="0.22"/><polygon points="949.0,74.6 954.1,75.5 957.1,71.7 957.0,76.3 960.1,79.5 955.5,79.2 952.6,82.0 952.3,78.1" fill-opacity="0.27"/><polygon points="902.2,19.0 903.9,17.6 904.5,14.6 906.1,17.2 908.6,18.0 906.5,19.6 905.5,21.0 904.0,20.1" fill-opacity="0.42"/><polygon points="1008.9,77.4 1008.8,79.8 1010.5,82.7 1007.2,81.9 1005.2,82.6 1005.1,80.5 1003.4,77.6 1006.7,78.3" fill-opacity="0.41"/><polygon points="779.9,253.8 781.8,255.4 783.7,255.5 782.9,257.1 782.9,259.4 780.9,258.4 778.3,258.3 779.8,256.1" fill-opacity="0.35"/><polygon points="945.6,69.7 946.8,72.9 950.1,74.7 946.3,75.6 944.9,77.6 943.8,75.3 941.3,73.8 944.0,72.8" fill-opacity="0.29"/><polygon points="695.6,56.3 699.1,54.0 698.2,50.9 701.3,52.5 703.4,49.9 703.7,53.1 705.9,53.9 704.7,55.6 704.8,57.9 702.5,57.1 700.7,58.8 700.0,56.6" fill-opacity="0.25"/><polygon points="836.4,24.7 838.1,23.9 838.5,21.9 839.7,23.7 842.3,23.0 840.6,25.0 841.4,26.8 839.5,26.3 837.7,28.6 837.6,25.8" fill-opacity="0.29"/><polygon points="747.1,259.1 748.4,261.5 750.2,263.9 747.4,265.1 745.1,266.9 744.6,263.8 742.6,262.0 744.8,260.6" fill-opacity="0.43"/><polygon points="769.7,289.8 766.7,289.8 765.7,293.2 764.9,289.6 761.4,289.9 763.7,287.8 763.5,285.3 765.7,286.9 768.6,284.6 767.7,287.9" fill-opacity="0.30"/><polygon points="775.7,169.3 776.9,164.9 774.9,162.9 777.5,162.2 778.8,159.2 780.6,161.7 783.6,162.3 782.2,164.9 782.1,167.7 779.2,167.0" fill-opacity="0.37"/><polygon points="1003.1,284.7 1002.9,286.7 1004.2,288.9 1001.7,289.0 1000.0,291.0 998.5,289.1 996.8,287.6 998.5,285.8 999.0,283.6 1001.1,284.4" fill-opacity="0.34"/><polygon points="969.2,101.2 967.5,100.3 966.0,102.4 965.6,100.2 964.2,99.4 965.9,98.4 965.3,96.6 966.9,97.2 968.5,95.1 968.2,98.0 971.2,98.1 968.6,99.4" fill-opacity="0.26"/><polygon points="811.5,219.4 810.2,217.5 807.0,218.0 809.6,215.8 808.6,213.6 810.7,214.0 812.8,212.5 812.2,215.4 813.9,216.5 812.0,217.1" fill-opacity="0.25"/><polygon points="839.6,199.8 838.1,196.2 833.8,196.2 837.2,193.6 835.8,189.4 839.4,192.5 842.7,189.6 841.7,193.5 845.1,196.0 840.6,195.8" fill-opacity="0.38"/><polygon points="699.7,8.5 703.1,8.0 703.7,4.1 705.8,8.0 710.5,5.2 708.1,9.5 712.1,12.4 707.0,12.3 706.2,15.2 704.4,12.2 701.4,13.6 703.1,10.6" fill-opacity="0.34"/><polygon points="998.7,267.6 996.6,268.7 994.8,270.9 993.9,268.2 991.7,266.4 994.3,265.4 996.3,262.0 996.5,266.3" fill-opacity="0.35"/><polygon points="998.5,231.7 995.6,232.9 991.8,235.8 992.3,230.7 990.0,228.0 993.5,227.6 996.9,224.0 997.6,228.6" fill-opacity="0.25"/><polygon points="820.5,224.1 820.9,220.5 817.7,217.1 822.2,217.6 825.3,215.7 825.1,219.3 827.3,222.5 823.5,222.4" fill-opacity="0.24"/><polygon points="928.9,70.1 930.0,73.8 933.3,74.7 930.2,76.6 931.8,81.8 928.0,78.5 923.8,80.7 925.9,76.2 924.2,73.9 926.9,73.3" fill-opacity="0.44"/><polygon points="781.4,186.4 785.4,184.0 787.5,180.2 789.7,184.0 794.8,185.9 790.3,188.6 787.9,192.1 785.7,188.3" fill-opacity="0.28"/><polygon points="934.6,214.1 931.4,213.5 929.0,212.5 928.8,210.0 928.5,206.0 932.1,208.3 936.0,207.2 933.7,210.7" fill-opacity="0.42"/><polygon points="842.9,63.7 840.3,65.4 842.4,69.8 838.5,67.1 835.9,70.3 835.5,66.6 833.0,65.4 835.8,63.7 833.9,59.5 837.4,61.0 840.4,58.1 839.9,63.0" fill-opacity="0.28"/><polygon points="962.3,293.5 963.6,290.9 961.7,288.5 964.7,288.3 965.8,284.6 967.6,288.0 970.2,287.9 969.4,290.3 970.6,292.6 967.7,292.5 967.0,296.9 965.3,292.9" fill-opacity="0.31"/><polygon points="754.6,287.0 755.6,288.2 757.0,288.5 756.5,289.9 757.1,291.3 755.7,291.6 754.7,294.0 753.9,291.2 751.6,291.7 753.0,289.9 751.4,288.1 753.9,288.6" fill-opacity="0.25"/><polygon points="854.5,116.5 853.8,118.1 855.0,120.7 852.1,119.6 850.9,121.0 850.1,119.4 848.1,119.1 849.6,117.5 848.0,115.2 850.6,115.7 852.1,112.7 852.7,116.1" fill-opacity="0.39"/><polygon points="867.7,1.0 868.9,2.1 871.1,2.8 869.5,4.5 869.1,6.0 867.5,5.8 865.2,6.7 865.6,4.3 864.6,2.6 866.7,2.3" fill-opacity="0.34"/><polygon points="900.2,193.0 900.4,191.0 899.3,188.1 902.1,189.1 904.7,188.4 904.5,190.9 904.7,193.5 902.2,193.2" fill-opacity="0.37"/><polygon points="727.0,115.6 728.6,118.3 731.6,118.5 730.3,121.0 729.8,123.2 727.5,122.9 724.4,124.9 724.9,121.2 722.6,119.0 726.0,118.6" fill-opacity="0.36"/><polygon points="853.7,215.0 851.5,213.2 848.7,214.5 848.6,211.8 847.7,209.9 849.2,208.4 850.1,206.1 852.2,207.9 855.2,206.3 854.5,209.4 857.4,211.3 853.6,211.8" fill-opacity="0.35"/><polygon points="686.2,47.6 689.0,44.5 689.3,41.0 692.0,43.6 694.5,44.0 693.8,46.4 692.8,49.1 690.4,47.5" fill-opacity="0.21"/><polygon points="680.9,84.4 681.2,87.3 685.8,87.6 681.3,89.6 683.9,93.9 680.1,92.0 677.5,94.9 677.9,90.4 673.6,90.3 677.4,88.3 674.8,83.9 678.9,86.8" fill-opacity="0.21"/><polygon points="734.9,35.4 737.2,32.5 735.1,30.6 737.4,30.2 738.4,27.3 739.9,30.2 741.8,30.3 741.7,32.0 742.7,33.9 740.4,34.2 739.4,35.8 738.3,34.0" fill-opacity="0.30"/><polygon points="956.3,228.6 953.5,227.5 951.5,229.1 951.4,226.6 949.7,225.2 951.5,224.1 952.4,221.5 954.1,223.7 957.2,223.4 955.3,225.9" fill-opacity="0.34"/><polygon points="763.0,224.8 761.9,222.6 759.3,222.8 761.5,221.1 760.7,219.1 762.6,220.4 764.5,218.2 763.9,220.8 765.1,221.9 763.4,222.2" fill-opacity="0.30"/><polygon points="839.0,90.8 840.5,88.4 839.9,86.0 842.3,85.9 845.2,83.6 845.2,87.4 847.1,89.3 844.9,90.7 843.6,92.9 841.6,91.2" fill-opacity="0.20"/><polygon points="839.7,79.4 836.4,80.3 834.0,82.0 832.9,79.3 829.8,76.3 833.9,75.4 836.8,73.1 838.4,76.4" fill-opacity="0.26"/><polygon points="998.8,48.5 996.7,46.4 993.2,44.8 996.8,43.0 998.1,40.8 999.9,42.6 1003.2,44.0 1000.5,46.2" fill-opacity="0.34"/><polygon points="834.2,165.6 830.1,163.5 827.1,163.4 828.0,160.6 826.4,156.0 830.6,158.7 833.8,158.0 833.1,161.1" fill-opacity="0.26"/><polygon points="868.0,21.9 868.7,19.2 868.4,16.0 871.3,18.0 874.9,16.5 873.2,19.7 873.5,22.5 870.9,21.5" fill-opacity="0.28"/><polygon points="1007.8,279.1 1009.9,281.8 1013.9,283.6 1010.1,285.7 1008.4,288.9 1006.7,285.5 1002.9,284.2 1006.5,282.6" fill-opacity="0.28"/><polygon points="931.0,195.2 927.9,194.7 926.0,196.5 926.1,194.0 924.3,192.0 927.1,192.5 928.9,190.5 928.9,193.0" fill-opacity="0.27"/><polygon points="846.6,126.1 848.2,127.0 849.9,127.9 848.5,129.5 849.5,132.2 847.1,131.3 844.5,133.0 845.3,129.8 843.9,128.4 845.5,127.5" fill-opacity="0.31"/><polygon points="972.5,40.2 972.7,37.4 970.7,35.6 973.2,34.7 974.5,33.0 976.0,34.7 978.8,35.0 977.5,37.3 977.6,40.0 974.9,38.8" fill-opacity="0.45"/><polygon points="966.7,263.2 965.1,264.7 965.7,266.3 964.2,266.5 962.8,268.6 962.5,265.6 960.0,265.8 961.3,264.1 960.8,262.3 962.9,263.0 963.9,261.1 964.7,262.9" fill-opacity="0.32"/><polygon points="897.8,-7.6 898.4,-4.8 900.1,-3.4 898.9,-1.7 897.8,0.6 895.7,-0.9 893.4,-1.2 893.9,-3.4 892.3,-6.5 895.6,-6.1" fill-opacity="0.38"/><polygon points="965.5,42.4 964.3,37.7 962.9,34.0 966.7,33.1 969.9,31.3 970.6,35.0 972.5,37.9 969.2,38.9" fill-opacity="0.25"/><polygon points="890.0,224.7 887.9,227.3 889.6,230.1 886.6,229.0 884.7,230.6 884.8,228.0 882.1,226.8 884.9,226.0 885.1,222.6 886.8,225.7" fill-opacity="0.32"/><polygon points="993.6,80.1 995.2,78.7 995.7,75.2 998.3,77.9 1001.1,76.9 999.9,80.1 1001.6,81.5 999.8,82.6 999.3,85.2 997.2,83.9 993.9,85.5 995.2,81.8" fill-opacity="0.38"/><polygon points="1020.8,65.1 1019.1,64.4 1017.4,66.1 1017.5,63.6 1015.7,63.1 1017.0,61.9 1016.3,59.4 1018.6,60.9 1020.2,59.2 1020.1,61.7 1021.9,62.2 1020.4,63.3" fill-opacity="0.29"/><polygon points="679.0,55.9 680.6,52.1 681.2,48.0 684.9,50.0 687.9,51.0 686.6,53.8 686.8,58.1 683.0,56.6" fill-opacity="0.36"/><polygon points="973.0,287.5 970.8,287.8 970.1,289.3 968.8,288.3 966.5,289.1 967.3,286.9 966.4,285.4 967.9,284.7 968.5,282.3 970.0,284.6 971.7,284.3 971.7,285.9" fill-opacity="0.36"/><polygon points="1020.3,294.9 1022.8,292.2 1020.4,288.4 1024.4,290.6 1026.8,288.1 1027.2,291.1 1028.9,293.0 1026.3,294.0 1025.7,297.6 1023.9,294.2" fill-opacity="0.33"/><polygon points="993.3,300.8 993.8,298.7 993.0,296.6 995.1,296.2 997.3,294.1 997.6,297.4 1000.7,298.4 998.3,300.1 997.6,302.7 995.5,300.6" fill-opacity="0.37"/><polygon points="847.1,139.0 851.5,139.9 855.2,138.1 854.4,142.2 855.1,145.0 852.1,145.0 849.1,146.2 849.9,142.8" fill-opacity="0.30"/><polygon points="783.7,210.5 786.4,210.7 787.6,209.2 788.9,210.5 791.5,210.5 789.4,212.8 791.0,214.8 788.6,214.7 787.5,218.0 786.1,215.2 784.2,214.7 785.3,212.7" fill-opacity="0.29"/><polygon points="720.7,69.0 720.4,71.0 720.6,74.1 717.9,72.5 716.0,71.9 716.5,70.0 716.2,67.0 718.8,68.4" fill-opacity="0.38"/><polygon points="908.9,155.8 909.2,153.6 905.8,151.0 910.5,151.4 911.1,148.8 913.0,150.1 916.5,149.0 915.2,152.4 917.2,154.7 914.3,155.6 913.3,159.4 911.2,155.4" fill-opacity="0.29"/><polygon points="989.8,81.3 990.6,83.9 993.1,84.1 991.6,85.9 992.0,88.5 989.6,87.5 987.6,87.8 988.0,85.6 987.2,84.3 988.6,83.6" fill-opacity="0.21"/><polygon points="881.6,172.9 880.9,170.3 878.4,168.9 881.1,167.6 881.2,163.7 884.0,165.7 887.1,165.9 886.1,168.9 887.9,172.6 884.0,172.2" fill-opacity="0.33"/><polygon points="960.8,247.6 959.1,249.2 960.4,253.8 956.6,251.1 953.9,252.9 954.5,249.1 950.0,248.2 953.9,246.6 953.6,243.5 956.2,244.4 959.0,242.6 958.6,246.4" fill-opacity="0.31"/><polygon points="992.9,25.6 989.7,27.1 989.5,31.0 986.9,28.2 983.2,29.0 985.8,25.7 982.3,21.9 986.9,23.5 989.2,20.6 989.5,24.3" fill-opacity="0.41"/><polygon points="686.4,246.0 685.6,248.0 685.4,249.8 683.6,249.3 681.3,249.6 682.2,247.4 682.3,245.4 684.2,246.4" fill-opacity="0.32"/><polygon points="793.8,180.0 794.3,177.3 792.6,174.8 795.6,175.5 798.8,172.9 797.4,176.8 799.7,179.7 796.3,179.1" fill-opacity="0.41"/><polygon points="898.6,29.5 895.9,32.9 896.2,37.6 892.2,35.7 889.4,34.1 890.5,31.1 890.5,26.2 894.3,29.4" fill-opacity="0.27"/><polygon points="772.0,258.3 774.2,260.8 776.1,260.0 775.9,261.8 777.8,264.1 774.7,263.8 773.4,265.4 772.8,263.2 770.2,262.7 772.4,261.4" fill-opacity="0.42"/><polygon points="896.2,123.5 893.8,125.3 894.7,127.5 892.5,127.1 890.8,129.5 890.7,126.1 887.4,126.3 890.1,124.5 888.4,121.8 891.3,123.3 892.7,120.8 893.5,123.1" fill-opacity="0.24"/><polygon points="864.8,44.5 864.1,47.3 865.3,49.2 863.2,49.2 861.1,50.1 861.4,47.8 859.7,45.5 862.5,46.0" fill-opacity="0.28"/><polygon points="838.6,76.8 835.7,76.7 835.9,79.4 834.4,77.5 832.5,78.3 833.5,76.3 831.8,75.2 833.7,74.8 834.0,73.1 835.2,74.2 836.7,73.9 836.1,75.5" fill-opacity="0.36"/><polygon points="716.0,281.5 714.2,282.7 714.2,284.2 712.7,284.2 710.9,285.6 710.6,283.3 709.2,282.3 711.1,281.4 710.2,279.0 712.2,280.1 713.7,279.0 713.7,281.0" fill-opacity="0.34"/><polygon points="844.6,151.3 845.5,153.8 848.7,152.9 846.1,155.2 847.8,157.1 845.5,156.7 844.7,159.3 844.0,156.4 841.5,157.1 843.1,155.2 840.5,152.9 843.6,153.5" fill-opacity="0.41"/><polygon points="972.3,274.0 974.4,277.3 976.7,277.1 975.1,279.2 976.7,281.6 974.1,280.8 972.3,282.8 971.7,280.4 970.1,278.9 971.9,277.7" fill-opacity="0.28"/><polygon points="924.6,232.7 926.8,235.2 928.8,236.4 927.0,238.0 926.2,240.1 924.2,239.2 921.5,238.0 923.5,235.8" fill-opacity="0.21"/><polygon points="885.9,26.0 883.8,26.9 884.6,31.0 881.8,28.7 879.4,29.7 880.3,26.6 876.6,25.3 879.6,24.0 879.5,20.5 882.3,22.7 884.6,22.1 883.9,24.9" fill-opacity="0.26"/><polygon points="950.8,179.7 947.2,181.8 947.9,185.4 945.0,183.3 942.6,183.8 942.7,181.4 940.7,178.9 944.4,179.5 945.8,176.1 946.5,179.5" fill-opacity="0.36"/><polygon points="740.8,142.2 742.0,143.4 744.3,142.3 743.1,144.6 745.8,146.1 743.1,146.5 742.5,148.3 741.2,146.8 738.6,148.2 739.7,145.6 737.6,144.0 740.5,144.0" fill-opacity="0.45"/><polygon points="775.5,6.2 772.6,7.4 771.9,9.7 770.9,7.4 768.9,6.7 770.6,5.6 771.5,4.2 772.7,5.3" fill-opacity="0.23"/><polygon points="864.7,53.1 862.8,51.0 859.8,50.8 861.6,48.7 862.2,45.7 864.4,47.8 866.6,48.5 865.3,50.5" fill-opacity="0.41"/><polygon points="734.0,14.4 736.5,14.0 737.5,12.2 738.7,13.7 741.0,14.0 740.1,15.9 739.9,17.9 737.9,17.4 736.2,17.8 735.4,16.3" fill-opacity="0.34"/><polygon points="926.8,48.1 928.6,50.4 930.8,51.4 929.6,53.5 928.3,56.6 926.3,53.7 922.4,52.8 925.8,50.8" fill-opacity="0.44"/><polygon points="932.7,31.9 930.9,33.5 931.5,37.0 928.5,34.2 926.2,36.6 926.3,33.6 923.9,32.6 926.5,31.4 924.8,27.0 928.2,30.3 931.0,26.7 930.7,30.7" fill-opacity="0.43"/><polygon points="830.6,2.9 832.3,1.6 831.9,-0.8 834.1,0.7 836.0,-1.2 835.8,1.4 837.6,2.2 836.2,3.3 836.3,5.3 834.6,4.7 833.0,5.4 832.9,3.6" fill-opacity="0.38"/><polygon points="873.1,76.1 877.8,77.6 880.2,75.6 881.2,78.5 884.6,80.4 880.7,81.8 880.4,86.2 877.8,82.7 874.3,83.3 875.8,80.2" fill-opacity="0.42"/><polygon points="680.0,24.2 678.9,25.8 680.3,27.5 678.5,27.7 677.4,29.0 676.6,27.2 674.7,27.5 676.0,25.9 674.6,24.4 676.5,24.5 677.2,21.8 678.3,24.1" fill-opacity="0.22"/><polygon points="857.9,233.6 859.6,235.7 862.1,235.1 861.0,237.3 862.3,239.7 859.7,239.2 858.1,240.3 858.0,238.1 856.4,237.3 857.5,236.1" fill-opacity="0.28"/><polygon points="764.2,37.2 766.2,39.9 770.1,38.4 768.0,41.6 770.7,45.4 766.4,44.0 764.2,45.8 764.1,42.7 760.2,41.6 763.5,40.0" fill-opacity="0.31"/><polygon points="938.1,136.4 936.8,134.5 935.1,133.8 936.0,132.0 935.2,129.9 937.2,129.4 939.0,127.4 940.0,130.1 942.3,130.5 941.2,132.5 941.7,134.6 939.8,135.2" fill-opacity="0.31"/><polygon points="698.2,84.5 700.9,86.3 704.3,85.0 702.5,88.0 703.7,91.7 700.4,90.0 698.1,89.7 699.2,87.6" fill-opacity="0.32"/><polygon points="725.1,297.5 723.2,294.2 720.4,294.2 721.0,291.8 719.7,288.0 723.5,288.9 726.5,287.3 726.6,290.9 730.7,293.1 725.9,293.9" fill-opacity="0.45"/><polygon points="680.2,279.5 681.6,275.4 680.9,272.1 684.3,272.1 687.0,272.8 686.4,275.4 687.0,278.1 684.3,277.5" fill-opacity="0.42"/><polygon points="926.7,285.0 923.8,285.0 923.5,289.9 921.5,285.8 917.1,287.7 919.6,283.8 916.9,281.2 921.0,281.5 921.5,277.5 923.5,280.7 926.5,280.1 925.0,283.0" fill-opacity="0.30"/><polygon points="833.3,158.7 834.7,156.5 833.3,153.9 835.9,153.8 838.6,151.7 838.9,155.2 840.0,156.9 838.7,158.4 837.4,160.0 835.7,158.9" fill-opacity="0.37"/><polygon points="892.1,198.5 889.2,197.4 886.9,196.4 887.7,194.1 887.9,191.0 890.8,191.7 893.7,192.6 892.4,195.4" fill-opacity="0.41"/><polygon points="726.8,173.9 726.4,175.9 727.0,178.2 724.8,178.1 722.6,178.0 722.8,175.9 722.1,173.3 724.8,174.1" fill-opacity="0.35"/><polygon points="942.8,265.3 941.9,267.3 942.3,270.1 939.9,268.5 937.9,268.5 938.7,266.7 938.0,263.6 940.7,265.2" fill-opacity="0.30"/><polygon points="818.3,204.8 817.7,202.6 815.1,201.3 817.7,199.7 817.9,197.6 820.0,198.7 822.1,197.1 822.8,199.2 825.7,200.5 823.1,202.3 823.1,205.2 820.4,203.3" fill-opacity="0.21"/><polygon points="851.7,149.8 847.6,152.7 846.8,155.6 844.1,154.3 839.5,153.4 842.8,150.1 843.9,146.0 846.7,149.5" fill-opacity="0.26"/><polygon points="695.0,111.8 694.7,110.1 694.7,108.1 696.7,107.9 699.4,107.5 698.2,110.1 699.3,112.8 696.7,112.2" fill-opacity="0.35"/><polygon points="1024.2,256.3 1022.2,257.9 1023.2,260.5 1020.8,259.6 1018.6,262.7 1018.8,258.6 1016.0,258.3 1018.6,256.8 1017.5,254.4 1019.7,255.2 1021.9,251.4 1021.5,256.1" fill-opacity="0.33"/><polygon points="677.0,236.5 677.7,233.9 673.9,233.0 677.9,232.4 676.7,228.6 679.2,231.6 681.3,229.5 680.3,232.5 682.5,233.2 680.4,233.9 681.0,236.6 679.0,235.3" fill-opacity="0.26"/><polygon points="890.9,31.2 893.5,28.6 893.2,26.1 895.6,27.0 898.3,25.0 898.0,28.2 899.3,30.0 897.6,31.2 896.3,34.4 894.3,31.6" fill-opacity="0.24"/><polygon points="826.8,153.9 828.9,157.6 831.8,157.2 830.1,159.6 832.6,163.3 828.9,162.7 826.4,163.5 825.7,160.9 821.8,158.9 825.8,157.5" fill-opacity="0.35"/><polygon points="812.1,258.3 808.6,257.6 805.9,261.7 806.4,256.4 803.2,255.4 806.2,254.2 806.2,250.4 808.5,253.2 812.4,251.9 810.4,255.3" fill-opacity="0.31"/><polygon points="898.2,246.8 901.0,249.0 906.1,248.9 902.2,252.3 902.3,257.4 898.9,253.6 895.2,253.1 897.3,250.1" fill-opacity="0.40"/><polygon points="976.9,238.8 971.5,238.1 969.9,241.8 968.3,238.5 964.3,237.7 968.0,235.2 967.8,232.2 970.4,233.7 973.3,232.6 973.0,235.4" fill-opacity="0.25"/><polygon points="718.5,287.0 720.2,282.1 716.0,279.4 721.3,279.9 722.4,276.1 723.7,279.5 728.9,279.1 724.4,282.0 725.5,285.4 722.5,283.5" fill-opacity="0.43"/><polygon points="990.4,287.7 987.4,287.2 986.4,290.4 985.6,286.7 982.8,287.6 985.0,285.5 982.2,283.2 985.4,283.9 986.2,281.4 987.2,284.0 989.9,283.4 987.7,285.5" fill-opacity="0.27"/><polygon points="945.2,79.3 946.5,82.6 949.2,85.6 945.2,86.6 942.1,89.6 940.9,85.6 938.2,82.3 942.5,81.5" fill-opacity="0.38"/><polygon points="894.4,107.3 895.8,108.4 898.3,108.9 897.0,111.1 896.8,112.9 895.0,113.2 893.5,114.0 892.0,113.1 889.6,112.4 892.0,110.4 890.1,107.6 892.8,107.9" fill-opacity="0.44"/><polygon points="859.1,79.9 857.9,76.4 852.7,77.2 856.3,74.2 854.5,69.5 858.7,72.7 861.6,70.5 861.5,73.8 864.1,76.3 860.3,76.7" fill-opacity="0.42"/><polygon points="729.2,5.5 730.7,5.3 732.2,5.2 732.5,6.7 733.6,7.8 732.4,8.7 731.6,10.1 730.2,9.4 728.6,8.7 729.7,7.2" fill-opacity="0.43"/><polygon points="868.2,297.8 864.7,296.3 863.1,298.3 862.2,296.0 860.4,295.2 862.2,293.6 861.1,291.5 863.3,292.0 864.8,290.0 865.2,292.6 867.7,292.8 865.8,294.4" fill-opacity="0.42"/><polygon points="711.6,46.2 710.3,42.4 705.1,40.6 710.5,39.4 712.2,35.2 714.0,39.0 719.2,41.4 714.0,43.4" fill-opacity="0.26"/><polygon points="900.2,251.0 902.3,250.0 901.9,247.2 904.0,249.2 906.4,247.0 905.7,250.1 908.4,251.0 906.1,252.2 905.9,254.3 904.0,253.5 901.5,255.3 902.3,252.0" fill-opacity="0.36"/><polygon points="754.5,257.7 757.2,259.3 759.5,257.2 758.8,260.2 761.0,261.7 758.4,262.1 757.8,266.0 756.4,262.4 754.4,262.1 755.6,260.5" fill-opacity="0.34"/><polygon points="835.1,51.3 834.6,53.7 836.8,56.6 832.5,55.9 831.7,59.3 829.8,57.1 826.9,57.0 829.0,54.2 826.4,51.7 829.3,51.2 830.9,49.6 832.6,51.0" fill-opacity="0.27"/><polygon points="923.5,288.7 923.6,284.3 921.5,280.1 926.3,281.1 929.3,280.0 929.3,283.2 931.1,286.6 927.4,286.4" fill-opacity="0.36"/><polygon points="853.5,175.2 854.6,171.6 851.0,170.7 854.9,170.1 854.3,167.5 856.1,169.3 858.1,167.5 857.4,170.1 861.3,171.0 857.8,171.9 857.7,173.7 856.0,173.0" fill-opacity="0.45"/><polygon points="1019.3,258.1 1016.2,258.8 1015.4,262.6 1013.5,259.4 1011.2,258.8 1012.5,256.8 1011.2,253.5 1014.4,254.8 1016.7,253.6 1016.9,256.2" fill-opacity="0.23"/><polygon points="775.5,73.1 777.1,71.3 776.3,68.9 778.6,70.0 780.2,69.1 780.6,70.8 781.6,72.2 779.9,72.8 779.3,75.4 777.8,73.5" fill-opacity="0.21"/><polygon points="832.2,208.2 829.7,207.5 826.5,209.6 826.9,205.9 825.2,203.6 828.2,203.0 829.6,201.1 831.5,202.2 833.6,203.5 831.9,205.6" fill-opacity="0.35"/><polygon points="838.1,276.1 836.9,275.6 835.5,276.6 836.1,274.6 834.2,274.1 835.7,273.4 835.6,271.8 836.9,272.8 838.0,272.1 838.1,273.4 839.8,274.1 837.9,274.6" fill-opacity="0.36"/><polygon points="869.9,271.6 865.1,269.7 861.2,271.5 862.5,267.4 860.9,263.6 864.8,264.5 868.4,263.3 867.3,267.1" fill-opacity="0.27"/><polygon points="826.0,297.2 822.4,296.8 819.9,297.2 819.6,294.7 818.9,292.2 821.7,292.7 824.7,290.5 824.0,294.0" fill-opacity="0.44"/><polygon points="909.4,221.3 910.7,224.9 914.2,225.2 911.6,227.4 912.1,230.2 909.5,228.6 906.1,231.5 907.7,227.4 905.5,225.5 907.8,224.5" fill-opacity="0.22"/><polygon points="883.4,223.2 882.4,219.7 880.2,218.1 882.2,215.9 880.9,211.8 885.0,214.5 887.0,212.7 888.1,214.8 889.8,216.1 888.1,217.9 890.0,222.1 886.0,219.5" fill-opacity="0.38"/><polygon points="886.3,155.1 888.3,158.1 891.4,157.8 889.9,160.4 890.1,162.5 888.0,162.4 885.4,165.1 885.9,161.1 883.6,159.8 886.0,158.9" fill-opacity="0.38"/><polygon points="914.6,148.3 913.4,147.6 911.5,148.6 912.1,146.5 910.7,145.4 912.4,144.8 912.3,142.4 913.9,143.9 915.5,143.5 915.1,145.3 916.2,146.2 914.8,146.7" fill-opacity="0.37"/><polygon points="873.5,120.1 871.2,121.6 871.3,123.3 869.7,123.0 868.5,123.6 868.2,122.0 865.6,121.7 867.7,120.4 866.9,118.3 869.0,119.6 870.6,117.1 870.4,120.0" fill-opacity="0.40"/><polygon points="856.7,287.0 855.5,285.6 853.6,286.7 853.9,284.9 852.5,283.6 854.5,283.2 855.0,281.7 856.1,282.7 858.5,281.4 857.8,283.7 859.5,285.1 857.1,285.5" fill-opacity="0.32"/><polygon points="789.0,296.2 787.9,294.0 783.9,294.0 787.6,291.9 786.9,289.4 789.1,290.8 791.3,289.3 791.3,291.7 794.4,294.1 790.2,294.0" fill-opacity="0.27"/><polygon points="850.3,224.9 853.0,225.1 853.9,222.5 855.2,224.7 857.9,224.4 856.7,226.7 857.5,228.5 855.6,228.9 854.5,231.7 853.0,229.2 850.3,229.5 852.3,227.0" fill-opacity="0.30"/><polygon points="880.4,177.5 877.6,177.2 874.7,179.4 875.5,175.8 874.0,173.3 876.9,173.8 879.7,171.5 878.8,175.0" fill-opacity="0.32"/><polygon points="711.9,137.5 711.3,133.9 707.7,134.1 710.0,131.7 710.0,129.9 712.0,130.1 713.4,128.6 714.2,130.5 718.2,130.1 714.9,132.5 715.6,134.5 714.0,135.4" fill-opacity="0.21"/><polygon points="804.7,247.1 803.7,250.8 805.1,253.1 802.1,253.3 800.4,257.0 799.6,252.9 796.8,252.3 798.5,250.4 797.4,245.4 801.1,249.2" fill-opacity="0.23"/><polygon points="737.8,27.5 737.6,24.7 734.8,23.5 737.4,22.2 738.1,19.8 739.9,21.7 741.9,21.8 741.5,23.7 742.7,26.4 739.6,25.2" fill-opacity="0.29"/><polygon points="1021.3,39.9 1022.6,36.9 1021.8,35.0 1023.8,34.5 1025.8,31.9 1026.3,35.3 1029.5,36.1 1026.4,37.6 1026.8,41.1 1024.4,38.5" fill-opacity="0.20"/><polygon points="766.2,285.6 764.6,283.3 762.3,284.2 763.8,282.2 761.5,280.0 764.3,280.6 765.8,278.8 765.8,281.4 768.6,282.0 765.8,282.8" fill-opacity="0.40"/><polygon points="912.2,178.8 912.6,176.8 910.6,175.0 913.3,175.1 914.2,173.3 915.4,174.7 917.7,175.3 915.9,176.9 916.4,179.6 914.1,177.7" fill-opacity="0.23"/><polygon points="752.1,88.3 753.3,91.1 755.9,90.5 754.3,92.4 755.0,94.3 753.1,93.9 751.1,95.8 751.7,92.8 749.6,91.7 751.9,91.3" fill-opacity="0.33"/><polygon points="959.9,266.1 959.0,268.0 961.9,268.8 959.1,269.1 959.3,271.1 958.0,269.6 956.0,271.3 957.1,268.8 955.7,268.1 957.3,267.8 957.2,266.1 958.3,267.4" fill-opacity="0.35"/><polygon points="868.4,41.4 870.6,40.0 871.3,36.3 873.4,38.9 876.6,40.3 873.6,42.2 872.4,44.7 870.4,42.9" fill-opacity="0.30"/><polygon points="717.2,28.0 718.2,24.4 714.2,23.2 718.1,22.3 718.0,19.8 720.0,21.3 723.3,17.9 721.6,22.5 724.9,23.5 721.8,24.5 722.4,27.9 719.9,25.7" fill-opacity="0.24"/><polygon points="1005.7,41.8 1003.2,41.9 1001.1,44.0 1001.1,41.1 999.2,38.9 1002.1,39.0 1004.1,37.4 1003.8,40.1" fill-opacity="0.28"/><polygon points="998.5,93.5 1000.4,91.3 1000.6,88.2 1003.4,89.6 1006.9,88.3 1005.3,92.1 1009.5,95.4 1004.4,94.9 1002.5,97.6 1001.0,94.8" fill-opacity="0.23"/><polygon points="907.4,255.2 905.7,256.3 904.2,258.0 903.3,255.9 901.4,254.6 903.4,253.5 904.8,251.8 905.6,254.0" fill-opacity="0.27"/><polygon points="758.7,16.3 756.8,18.3 757.5,20.2 755.3,19.6 754.1,21.7 753.5,19.4 749.7,19.9 753.3,17.8 750.8,15.0 753.9,16.3 755.3,13.2 755.5,16.8" fill-opacity="0.39"/><polygon points="695.1,22.2 698.7,18.6 697.7,13.4 701.6,16.5 706.7,16.1 702.8,19.9 703.2,23.9 700.0,21.4" fill-opacity="0.21"/><polygon points="911.5,124.3 909.2,124.5 909.2,126.6 907.9,124.9 905.4,126.6 907.1,123.9 905.6,122.9 907.3,122.6 907.4,120.5 908.6,122.0 910.4,121.3 909.4,123.2" fill-opacity="0.35"/><polygon points="825.9,-4.6 822.2,-2.1 822.5,1.9 819.3,-1.4 815.7,0.9 816.5,-2.7 815.4,-5.2 818.3,-5.6 820.1,-8.2 821.4,-5.3" fill-opacity="0.36"/><polygon points="741.6,197.7 742.1,196.1 741.0,193.8 743.5,194.3 745.1,193.1 745.9,194.9 747.0,196.3 745.3,197.2 744.8,199.2 743.3,198.0" fill-opacity="0.27"/><polygon points="795.8,274.3 792.7,275.5 787.9,276.8 789.3,271.7 788.5,268.2 792.0,267.2 795.7,267.3 796.3,271.0" fill-opacity="0.36"/><polygon points="1001.5,92.6 999.2,96.7 1000.6,100.1 997.2,99.7 993.6,100.3 995.0,96.7 992.6,91.9 997.3,93.8" fill-opacity="0.29"/><polygon points="873.4,16.5 875.6,15.4 877.1,13.6 879.3,14.5 881.2,15.5 880.8,17.7 881.9,19.7 879.7,20.3 878.7,23.2 876.9,21.0 872.8,22.4 874.9,18.7" fill-opacity="0.29"/><polygon points="886.7,174.1 888.7,172.2 888.4,170.0 890.8,171.1 892.8,167.1 893.1,171.1 895.6,171.7 894.1,173.6 894.1,175.7 891.9,175.2 890.3,176.6 889.9,174.3" fill-opacity="0.23"/><polygon points="693.7,40.4 691.5,39.5 688.5,42.4 689.7,38.0 686.9,37.1 689.7,36.0 689.1,33.3 691.3,35.2 693.6,32.6 693.6,35.5 697.6,36.6 693.1,37.8" fill-opacity="0.29"/><polygon points="739.4,160.6 738.3,162.5 740.0,165.5 736.8,164.2 735.1,165.6 734.5,163.5 732.1,162.1 734.4,160.7 735.5,158.6 737.4,159.9" fill-opacity="0.32"/><polygon points="949.9,238.8 948.5,241.0 948.1,244.3 945.7,241.9 943.2,241.4 945.1,239.5 945.0,236.3 947.2,238.5" fill-opacity="0.33"/><polygon points="1015.6,273.7 1014.7,270.3 1010.7,268.4 1015.0,267.4 1017.1,263.7 1017.7,268.1 1021.1,269.9 1017.7,271.1" fill-opacity="0.24"/><polygon points="708.4,126.5 705.9,125.0 703.6,123.0 706.3,121.2 707.5,118.3 709.9,120.1 712.5,122.0 709.8,124.0" fill-opacity="0.27"/><polygon points="988.0,275.8 986.6,278.6 987.6,281.0 985.2,280.2 982.4,281.5 983.6,278.7 983.0,276.5 985.2,276.9" fill-opacity="0.30"/><polygon points="935.3,272.5 933.0,271.9 930.8,272.2 931.5,270.0 931.1,267.9 933.2,267.9 936.1,267.4 935.7,270.2" fill-opacity="0.26"/><polygon points="952.4,292.4 948.4,292.7 945.6,293.9 944.7,290.9 943.7,288.0 946.7,287.3 949.2,286.8 950.3,289.0" fill-opacity="0.26"/><polygon points="979.1,265.9 982.3,263.7 982.7,260.5 985.5,262.2 988.5,261.8 987.1,264.9 988.3,267.0 986.3,268.1 983.7,271.4 982.7,267.2" fill-opacity="0.27"/><polygon points="991.5,151.1 990.7,149.3 988.2,149.4 990.4,147.6 989.6,146.1 991.2,146.0 992.3,144.5 992.9,146.4 995.7,146.1 993.5,148.0 995.1,150.2 992.4,148.9" fill-opacity="0.44"/><polygon points="682.5,48.3 680.4,48.1 678.7,49.2 678.2,47.3 676.4,46.0 678.5,45.0 679.0,42.6 680.7,44.1 682.9,44.3 681.5,46.3" fill-opacity="0.41"/><polygon points="809.7,197.2 807.0,197.3 806.3,198.6 805.3,197.6 803.7,197.2 804.3,195.7 804.4,193.9 806.1,194.6 807.6,194.1 807.4,195.8" fill-opacity="0.32"/><polygon points="948.6,52.4 946.6,50.0 942.9,49.9 946.0,47.1 944.7,43.9 947.7,44.9 950.5,43.1 950.3,46.4 954.1,48.7 949.6,49.2" fill-opacity="0.38"/><polygon points="720.1,225.6 719.3,224.4 717.1,224.8 718.5,223.1 717.8,221.8 718.8,221.1 720.0,219.7 721.1,221.1 722.6,221.5 721.7,223.0 722.4,224.3 720.9,224.4" fill-opacity="0.36"/><polygon points="776.4,264.4 779.6,265.6 781.7,263.2 781.2,266.6 783.3,267.6 781.4,268.6 781.0,271.2 779.3,269.2 775.9,269.9 778.4,267.3" fill-opacity="0.20"/><polygon points="873.4,-0.5 875.2,1.2 876.6,0.6 876.7,2.2 879.0,3.3 876.9,4.2 876.9,7.0 874.8,5.7 872.4,6.8 872.7,4.0 872.2,2.7 873.5,1.9" fill-opacity="0.35"/></g><g fill="#fff"><polygon points="909.8,274.5 905.4,273.9 902.7,278.2 901.6,272.5 894.1,274.0 899.9,269.4 895.6,263.9 902.4,267.0 904.7,260.6 905.9,266.8 910.2,267.0 908.5,270.4" fill-opacity="0.30"/><polygon points="939.9,286.0 945.8,285.5 949.3,279.6 950.3,286.1 955.6,290.0 949.2,291.2 945.7,294.0 944.7,289.4" fill-opacity="0.37"/><polygon points="725.5,8.5 728.4,12.3 733.6,9.6 731.6,14.7 735.3,17.9 730.2,18.5 729.6,23.6 726.6,19.1 719.2,24.1 722.9,17.0 718.9,13.5 724.9,13.2" fill-opacity="0.52"/><polygon points="830.2,108.4 828.3,111.7 830.7,117.8 824.7,116.0 821.2,118.2 820.1,113.6 814.6,112.9 817.9,109.1 818.0,105.6 821.6,105.3 825.5,100.7 826.9,106.4" fill-opacity="0.31"/><polygon points="1005.8,34.2 1004.3,26.9 997.1,25.3 1003.0,21.4 1002.5,13.8 1008.5,17.8 1015.2,16.2 1012.6,22.9 1016.1,28.1 1010.3,29.3" fill-opacity="0.33"/><polygon points="877.1,279.5 883.1,275.5 879.7,266.3 886.9,273.0 893.1,268.6 892.2,275.2 894.7,279.7 889.8,281.3 886.3,289.6 883.5,280.9" fill-opacity="0.62"/><polygon points="724.2,122.6 718.0,128.7 721.9,135.9 714.9,134.3 708.5,139.0 709.7,130.3 704.1,126.8 710.2,124.6 711.5,115.0 715.6,124.4" fill-opacity="0.63"/><polygon points="973.5,58.7 975.3,52.6 970.4,49.0 976.4,47.5 976.7,41.1 981.0,46.5 986.7,43.1 984.1,49.4 989.1,52.3 984.3,54.1 983.6,60.1 979.5,54.8" fill-opacity="0.68"/><polygon points="902.7,180.7 901.3,175.8 894.5,176.2 900.1,171.9 897.5,167.4 902.5,168.9 905.6,161.3 906.4,169.4 914.4,168.4 907.3,173.0 912.5,179.4 905.4,176.3" fill-opacity="0.45"/><polygon points="765.2,18.9 772.3,17.6 771.9,12.0 776.0,14.7 779.9,13.9 780.6,17.7 782.7,20.7 779.3,22.7 779.2,28.2 775.1,23.7 769.9,27.7 772.1,21.5" fill-opacity="0.59"/><polygon points="1010.2,295.1 1018.2,291.0 1020.6,283.4 1025.0,289.8 1030.6,292.9 1024.9,296.4 1023.1,306.4 1019.0,297.3" fill-opacity="0.44"/><polygon points="859.3,277.1 858.7,283.5 862.6,285.7 858.7,287.5 857.9,293.3 854.3,289.1 847.4,290.3 852.3,284.8 850.2,280.2 855.0,281.1" fill-opacity="0.30"/><polygon points="709.6,172.7 711.3,168.8 708.4,166.4 711.1,164.8 712.6,161.8 715.4,163.7 720.1,162.2 717.9,167.1 720.1,169.6 717.4,171.2 716.0,174.6 713.4,171.3" fill-opacity="0.43"/><polygon points="1028.5,143.6 1023.8,146.3 1026.0,150.7 1021.9,148.9 1018.6,153.9 1018.2,148.2 1013.5,147.4 1017.4,144.5 1016.3,140.6 1020.1,141.9 1023.8,135.5 1024.0,142.6" fill-opacity="0.41"/><polygon points="857.8,298.6 852.4,302.2 847.5,310.0 843.5,302.0 836.4,296.4 845.7,293.9 849.8,287.4 854.2,293.3" fill-opacity="0.63"/><polygon points="736.7,117.5 742.7,120.6 747.2,118.0 747.9,123.3 754.0,125.4 749.1,129.1 749.0,134.2 744.1,132.4 740.0,134.5 740.3,128.9 732.6,127.8 738.5,124.5" fill-opacity="0.56"/><polygon points="832.3,88.2 838.0,86.0 841.3,82.7 845.3,84.9 850.2,87.1 846.4,91.6 847.0,96.6 842.4,97.7 837.0,98.5 836.6,92.7" fill-opacity="0.33"/><polygon points="817.1,138.6 820.0,141.3 826.3,142.1 820.8,145.5 820.0,150.9 816.6,146.8 812.9,145.3 815.2,142.0" fill-opacity="0.32"/><polygon points="709.0,115.3 711.9,111.6 709.7,109.3 712.2,108.4 713.7,105.0 715.6,108.5 719.9,107.2 718.3,110.8 719.1,113.3 716.1,113.6 715.1,117.8 713.0,114.5" fill-opacity="0.42"/><polygon points="1001.0,162.6 1004.4,161.5 1005.0,157.3 1007.5,160.3 1010.8,160.5 1009.3,163.5 1011.3,167.8 1006.7,165.4 1003.4,169.5 1004.2,164.3" fill-opacity="0.35"/><polygon points="689.0,208.9 689.1,214.2 694.9,214.4 690.7,217.5 690.9,220.7 687.9,220.8 685.0,222.6 683.4,219.7 680.8,217.9 682.0,215.0 681.5,210.9 685.7,211.9" fill-opacity="0.45"/><polygon points="919.3,103.8 925.0,100.9 927.2,94.2 931.7,99.9 936.2,101.1 933.9,105.4 935.6,110.5 930.4,109.3 924.6,115.6 924.5,107.8" fill-opacity="0.60"/><polygon points="900.4,129.7 894.4,129.5 890.5,132.2 890.6,127.3 888.5,124.0 892.2,123.2 896.5,119.6 896.2,125.3" fill-opacity="0.31"/><polygon points="986.6,93.8 991.4,96.9 995.9,97.7 993.6,101.7 993.5,106.9 989.2,104.0 982.4,104.7 987.6,99.9" fill-opacity="0.38"/><polygon points="682.2,59.6 686.1,61.5 690.0,61.6 691.4,65.3 692.5,70.1 687.6,71.2 683.9,73.0 682.1,69.0 678.8,66.9 680.6,63.5" fill-opacity="0.59"/><polygon points="759.3,132.7 769.2,132.5 774.0,127.5 774.3,134.8 778.8,138.8 773.7,141.1 768.2,146.0 766.5,138.9" fill-opacity="0.32"/><polygon points="755.3,13.6 758.4,10.4 757.0,5.2 761.6,8.9 765.7,5.6 764.6,10.3 766.9,12.9 763.2,13.3 761.9,19.1 759.9,14.0" fill-opacity="0.33"/><polygon points="1011.3,42.7 1017.7,40.9 1020.7,35.5 1024.4,40.3 1032.0,41.0 1027.7,46.8 1027.3,52.4 1021.7,50.5 1014.9,55.4 1016.9,47.0" fill-opacity="0.35"/><polygon points="775.1,20.2 782.7,17.9 788.5,10.4 790.9,19.4 797.1,25.3 788.0,26.5 783.1,33.2 781.8,25.0" fill-opacity="0.58"/><polygon points="694.9,220.0 701.8,225.5 707.9,221.7 706.4,228.5 712.4,233.7 704.6,234.2 701.4,241.7 698.8,233.6 692.7,232.6 697.0,228.3" fill-opacity="0.45"/><polygon points="729.6,17.7 725.1,19.4 722.7,21.8 720.4,18.9 713.5,19.8 717.5,15.0 717.2,10.6 721.7,12.5 726.8,8.0 724.9,14.8" fill-opacity="0.51"/><polygon points="719.6,51.7 722.6,54.2 726.1,56.3 723.6,59.6 721.3,63.9 717.7,60.7 712.4,58.3 718.0,55.4" fill-opacity="0.43"/><polygon points="986.3,134.0 994.0,131.9 998.2,129.4 1001.4,133.1 1004.9,137.8 998.8,139.2 994.6,146.6 993.7,138.2" fill-opacity="0.53"/><polygon points="842.8,271.0 841.8,265.7 837.3,261.3 843.8,261.3 848.0,256.1 848.7,262.4 852.6,266.7 846.9,267.7" fill-opacity="0.32"/><polygon points="852.4,107.3 848.4,105.9 841.7,106.5 846.6,101.3 845.4,94.7 850.4,99.0 856.6,98.2 853.6,103.3" fill-opacity="0.55"/><polygon points="959.3,104.1 961.4,108.5 965.5,114.1 958.4,114.8 953.1,118.8 952.2,112.3 947.5,106.6 954.9,106.2" fill-opacity="0.62"/><polygon points="1017.6,5.6 1012.7,5.5 1007.6,9.1 1008.3,3.0 1006.3,-1.3 1011.0,-1.8 1015.3,-3.4 1015.5,1.3" fill-opacity="0.33"/><polygon points="929.3,190.4 930.1,182.8 925.6,175.6 933.8,176.1 939.7,174.6 940.8,180.5 942.7,186.8 935.9,186.1" fill-opacity="0.57"/><polygon points="789.0,103.6 785.8,99.0 776.6,98.7 782.3,92.4 783.7,87.4 788.9,87.1 794.2,87.3 794.5,92.7 798.1,97.5 792.9,99.9" fill-opacity="0.53"/><polygon points="885.8,188.7 893.4,188.1 894.8,183.1 897.6,187.0 905.2,186.0 898.9,191.1 900.2,195.2 896.2,193.6 891.6,198.2 892.2,192.3" fill-opacity="0.37"/><polygon points="751.0,174.3 748.0,179.3 745.5,184.4 740.9,180.9 733.6,179.7 738.5,174.3 739.5,165.1 746.2,170.9" fill-opacity="0.55"/><polygon points="961.9,260.0 955.7,254.7 949.0,260.4 951.2,252.7 944.7,247.6 952.9,247.3 955.9,240.2 958.8,247.2 967.5,247.7 960.0,252.8" fill-opacity="0.69"/><polygon points="719.6,21.6 716.6,27.1 718.0,30.7 714.2,31.2 710.9,34.2 710.7,28.9 703.7,27.8 709.1,25.0 710.5,21.8 713.3,24.8" fill-opacity="0.45"/><polygon points="804.9,229.4 796.7,227.5 787.7,231.4 788.8,222.1 788.3,214.4 796.1,216.1 804.2,213.1 803.3,221.3" fill-opacity="0.62"/><polygon points="972.0,147.0 974.9,149.4 979.9,148.1 976.9,153.2 980.1,156.2 976.2,157.2 975.2,163.7 972.2,157.0 967.0,159.3 970.3,154.4 966.9,151.6 970.4,150.5" fill-opacity="0.36"/><polygon points="969.8,5.8 963.9,10.0 956.5,13.2 954.2,5.4 951.4,-0.6 957.6,-2.9 964.9,-11.1 966.8,-0.7" fill-opacity="0.50"/><polygon points="689.4,108.1 694.6,112.0 697.5,109.3 699.1,112.3 703.2,114.3 700.0,117.4 701.2,123.3 695.8,120.7 692.0,122.9 690.6,118.8 685.4,116.7 690.1,113.4" fill-opacity="0.36"/><polygon points="771.7,131.0 774.8,135.7 779.0,139.2 774.0,141.8 770.9,147.1 767.9,141.9 760.1,138.3 768.5,135.7" fill-opacity="0.43"/><polygon points="840.0,145.6 835.4,141.8 828.4,142.0 833.1,136.8 833.1,129.8 838.1,135.0 844.4,135.0 841.8,140.3" fill-opacity="0.58"/><polygon points="815.3,106.4 811.4,110.4 809.3,115.1 804.9,112.6 799.7,109.9 802.6,104.8 806.1,100.9 810.0,104.5" fill-opacity="0.38"/><polygon points="765.0,215.5 760.0,217.2 756.4,219.5 754.5,215.8 750.4,211.9 755.4,209.7 760.1,204.5 761.4,211.6" fill-opacity="0.51"/><polygon points="1031.6,91.1 1025.2,92.0 1022.0,97.0 1019.3,91.6 1009.4,91.5 1018.1,86.2 1016.1,78.6 1022.5,83.0 1027.9,80.6 1025.8,86.7" fill-opacity="0.53"/><polygon points="723.1,29.9 726.9,31.4 732.1,28.8 729.5,33.9 731.9,39.1 726.8,36.1 723.2,37.3 724.7,33.8" fill-opacity="0.60"/><polygon points="884.0,1.8 876.1,2.0 876.2,10.6 871.5,4.5 864.9,7.2 868.4,0.2 859.9,-4.4 869.8,-4.1 870.6,-9.3 874.4,-6.8 879.0,-7.3 877.0,-2.2" fill-opacity="0.48"/><polygon points="709.4,224.4 716.4,223.3 717.3,219.1 719.8,222.9 724.6,221.9 722.5,225.7 723.6,229.8 719.2,227.8 715.8,232.0 716.6,226.6" fill-opacity="0.47"/><polygon points="885.7,193.7 891.4,192.2 891.5,189.3 894.1,190.5 897.7,187.7 897.0,192.1 902.4,193.9 896.6,195.3 897.0,199.0 894.0,196.6 890.5,199.8 891.5,195.2" fill-opacity="0.43"/><polygon points="884.3,47.0 891.5,48.8 896.7,47.7 898.1,52.9 902.4,57.5 895.5,58.9 894.0,67.3 889.3,61.3 882.0,60.6 888.2,54.8" fill-opacity="0.69"/><polygon points="763.5,127.2 765.5,121.4 762.6,120.0 765.9,119.0 765.3,115.7 767.8,118.0 771.6,113.9 770.7,118.5 774.0,120.3 770.0,121.5 770.2,124.7 767.7,122.7" fill-opacity="0.68"/><polygon points="796.0,111.7 789.8,108.9 782.9,113.8 786.0,106.3 783.6,100.8 789.4,102.9 795.3,99.7 794.1,105.8" fill-opacity="0.47"/><polygon points="745.4,161.0 745.5,153.8 743.7,149.3 748.7,149.2 754.4,143.5 753.8,151.1 756.9,156.1 751.3,157.5" fill-opacity="0.53"/><polygon points="754.8,142.2 762.1,136.7 763.7,130.0 767.9,135.9 774.3,136.8 770.0,141.2 769.0,149.3 764.4,142.2" fill-opacity="0.49"/><polygon points="909.6,244.5 908.7,241.6 907.1,238.9 909.4,236.6 910.7,233.1 914.1,235.1 918.5,233.2 917.5,238.1 922.5,241.1 917.7,243.1 916.0,246.2 912.8,243.9" fill-opacity="0.65"/><polygon points="727.9,137.4 722.3,127.5 715.4,132.7 719.1,125.1 708.6,121.1 719.3,120.6 719.4,113.8 724.0,117.9 731.0,114.2 727.6,122.0 737.1,126.2 726.9,127.0" fill-opacity="0.43"/><polygon points="920.4,225.5 921.8,231.7 924.8,234.0 922.7,237.2 924.4,242.5 918.8,239.8 915.7,243.7 913.3,240.3 907.0,238.8 913.5,234.8 909.9,228.1 916.3,230.7" fill-opacity="0.45"/><polygon points="908.9,68.6 903.9,68.1 902.8,71.9 901.0,68.2 898.2,68.5 898.9,66.0 896.5,63.1 900.0,62.6 901.4,58.7 903.6,62.3 908.0,61.4 905.4,65.3" fill-opacity="0.30"/><polygon points="831.2,132.7 828.3,136.9 830.1,140.2 826.6,140.3 823.1,144.4 822.9,138.9 818.5,137.0 822.8,135.0 823.1,129.8 826.6,133.4" fill-opacity="0.64"/><polygon points="744.2,200.1 743.6,196.3 740.9,193.7 744.1,191.6 744.9,188.0 748.2,188.9 752.4,187.2 753.3,191.3 756.5,194.4 751.8,196.4 753.2,203.8 747.8,200.4" fill-opacity="0.58"/><polygon points="745.4,117.3 749.8,115.8 750.9,108.6 753.8,115.7 758.5,115.3 755.4,118.9 758.2,124.1 753.1,122.3 748.0,127.2 748.8,120.3" fill-opacity="0.52"/><polygon points="756.6,171.2 752.0,174.5 755.5,182.3 748.2,177.3 743.2,185.2 743.7,176.1 738.2,174.7 743.0,171.4 739.3,163.6 746.4,167.4 751.5,161.1 751.2,169.6" fill-opacity="0.49"/><polygon points="986.9,132.5 991.1,138.4 997.6,141.2 993.8,147.0 993.4,154.8 986.1,150.9 980.2,152.1 980.4,146.0 975.6,140.2 982.3,138.0" fill-opacity="0.39"/><polygon points="774.9,237.3 779.4,241.0 783.3,236.7 782.5,242.3 788.1,243.6 783.8,246.3 783.6,250.1 780.0,248.6 775.1,253.7 775.5,247.0 768.6,245.1 775.5,242.2" fill-opacity="0.65"/><polygon points="920.9,30.0 915.0,26.7 909.8,29.0 909.9,23.5 905.7,18.8 912.4,18.2 915.1,12.9 917.7,18.2 928.1,17.7 919.3,23.3" fill-opacity="0.34"/><polygon points="803.4,287.8 799.1,287.1 796.5,291.3 795.9,285.5 788.4,287.1 793.6,282.8 789.7,277.3 796.1,279.9 798.8,273.8 799.5,280.7 804.8,280.3 801.7,283.8" fill-opacity="0.51"/><polygon points="992.3,128.9 985.1,128.8 978.6,127.9 979.8,121.3 978.1,113.5 985.7,115.2 991.8,115.7 991.4,121.8" fill-opacity="0.59"/><polygon points="994.4,25.9 991.7,20.2 984.7,22.9 988.8,17.0 982.2,11.7 990.6,12.8 992.3,7.3 995.1,12.5 1001.0,10.8 996.7,16.1 1001.7,20.1 996.6,21.0" fill-opacity="0.64"/><polygon points="717.6,125.1 713.8,130.0 718.7,138.0 709.1,133.1 705.6,141.9 703.7,133.8 697.0,133.2 702.7,128.3 699.9,123.1 705.6,124.3 709.5,115.2 710.7,125.0" fill-opacity="0.40"/><polygon points="895.8,135.9 891.7,132.4 884.3,132.2 889.0,127.0 890.0,120.1 894.6,126.2 899.9,126.5 897.0,130.7" fill-opacity="0.34"/><polygon points="793.5,107.8 792.7,102.9 789.2,100.9 792.4,99.0 795.4,94.8 796.2,100.3 800.3,102.5 795.6,103.3" fill-opacity="0.35"/><polygon points="765.3,5.6 767.3,12.2 773.7,14.7 767.7,18.4 767.3,25.0 761.7,23.0 754.4,23.9 758.3,16.4 753.8,10.5 760.0,8.8" fill-opacity="0.64"/><polygon points="782.4,3.4 778.4,8.1 779.6,15.3 774.5,9.7 766.8,11.5 772.7,6.2 770.5,-2.4 776.5,3.5" fill-opacity="0.44"/><polygon points="873.9,130.7 879.5,130.3 884.4,125.4 885.1,132.0 888.4,136.9 882.7,138.3 877.8,140.9 876.5,135.5" fill-opacity="0.37"/><polygon points="888.2,70.5 884.7,67.0 881.4,68.4 881.5,65.0 878.0,62.5 882.4,61.3 882.1,56.1 885.7,59.3 889.4,57.8 888.5,62.0 893.4,64.5 888.2,65.7" fill-opacity="0.42"/><polygon points="764.1,135.9 771.4,135.2 774.1,128.6 777.0,135.0 785.5,135.2 777.6,140.1 780.2,147.1 774.2,142.6 767.9,147.9 770.6,140.2" fill-opacity="0.63"/><polygon points="772.0,196.4 769.8,193.8 766.0,194.5 768.6,190.8 765.1,188.0 769.4,188.1 770.5,185.0 772.4,187.5 777.1,186.0 774.1,190.1 777.5,193.1 773.3,193.2" fill-opacity="0.68"/><polygon points="905.3,90.5 908.5,92.6 913.6,88.6 912.8,94.3 918.2,97.2 912.0,99.1 912.5,105.0 908.0,101.2 904.2,102.7 903.5,99.0 900.4,96.1 904.8,94.2" fill-opacity="0.64"/><polygon points="853.9,186.3 852.2,190.1 850.4,195.6 846.2,191.5 840.0,190.2 844.1,185.6 846.6,182.0 850.2,184.4" fill-opacity="0.55"/><polygon points="959.9,26.9 959.8,17.4 955.7,9.4 964.6,8.6 973.3,3.9 973.7,13.7 978.7,22.7 968.2,22.1" fill-opacity="0.50"/><polygon points="916.6,166.1 911.3,169.7 910.5,176.3 905.0,173.3 898.8,173.3 900.7,167.2 896.9,160.7 905.0,162.8 909.5,155.4 911.7,162.5" fill-opacity="0.39"/><polygon points="818.0,69.9 816.5,63.7 814.8,58.8 820.1,58.1 824.3,55.2 825.9,60.0 828.7,64.8 822.8,65.0" fill-opacity="0.51"/><polygon points="709.7,136.5 708.7,131.9 703.5,127.9 709.8,126.0 712.2,122.2 716.2,124.0 721.7,125.3 718.3,130.4 718.5,134.8 714.0,133.8" fill-opacity="0.43"/><polygon points="974.2,93.9 975.6,83.0 969.0,79.8 975.4,77.1 977.0,70.6 981.3,76.3 987.6,75.5 983.7,80.8 990.9,89.9 980.8,85.4" fill-opacity="0.51"/><polygon points="920.7,201.6 914.2,203.1 910.6,210.3 909.4,202.4 903.8,199.1 909.6,196.9 913.6,190.6 914.6,198.5" fill-opacity="0.39"/><polygon points="844.5,83.3 844.2,76.1 836.1,76.0 840.5,71.2 839.9,65.6 846.1,68.6 849.7,63.9 852.0,68.2 857.1,70.3 852.0,74.2 853.2,78.9 848.5,77.3" fill-opacity="0.51"/><polygon points="853.0,253.0 851.1,263.0 854.5,267.5 848.7,269.1 846.5,278.1 842.0,271.0 833.5,270.3 841.3,264.4 838.3,257.0 845.0,260.3" fill-opacity="0.37"/><polygon points="748.2,148.0 754.5,148.5 758.6,148.1 759.6,152.1 760.2,156.4 755.8,156.0 750.4,159.9 751.2,153.6" fill-opacity="0.55"/><polygon points="836.9,212.9 842.0,212.9 845.5,209.8 845.6,214.5 849.2,218.1 844.5,219.0 840.6,221.5 840.4,216.6" fill-opacity="0.39"/><polygon points="782.1,15.1 790.8,17.6 799.4,12.4 796.2,21.9 802.6,31.5 791.9,27.2 782.9,33.0 785.4,23.1" fill-opacity="0.55"/><polygon points="742.0,116.1 745.4,119.0 750.1,118.4 747.6,122.7 750.3,127.1 745.3,126.1 742.0,129.7 742.1,124.3 738.0,122.7 741.3,120.6" fill-opacity="0.60"/><polygon points="916.2,286.8 920.2,290.0 926.0,290.0 923.1,295.1 927.1,302.1 919.3,298.8 915.0,303.2 914.8,297.0 905.7,294.0 914.6,291.8" fill-opacity="0.49"/><polygon points="878.1,199.1 874.3,198.0 872.5,200.5 871.6,197.3 868.3,197.4 870.0,194.9 869.2,192.3 872.1,192.7 873.9,189.5 875.0,193.0 878.4,193.2 876.3,195.8" fill-opacity="0.70"/><polygon points="961.2,196.9 953.0,193.1 947.7,195.6 945.7,190.4 939.5,184.8 947.5,182.1 951.0,176.4 954.9,182.8 964.3,181.8 957.7,188.4" fill-opacity="0.57"/><polygon points="912.1,72.8 918.2,74.0 921.8,67.8 923.5,74.9 929.1,75.5 924.5,79.7 926.4,83.9 922.3,84.0 919.1,87.9 916.7,83.6 909.9,83.3 916.3,78.5" fill-opacity="0.36"/><polygon points="981.4,192.7 978.1,191.4 974.0,192.6 975.3,188.3 972.1,184.6 977.1,185.0 979.3,182.0 981.2,184.9 985.2,186.4 981.6,189.1" fill-opacity="0.66"/><polygon points="858.1,288.3 858.9,281.3 853.8,274.5 862.2,276.3 869.3,270.4 867.3,279.3 870.2,284.8 864.5,286.6" fill-opacity="0.50"/><polygon points="948.3,105.5 942.2,106.9 936.9,107.5 937.0,102.0 933.9,97.1 939.2,95.6 944.6,94.4 946.3,99.6" fill-opacity="0.43"/><polygon points="716.5,170.3 722.1,175.6 728.6,175.3 724.4,180.4 723.9,185.3 719.5,183.4 714.4,182.4 716.8,177.8" fill-opacity="0.32"/><polygon points="976.7,16.7 981.6,11.9 984.8,7.1 988.5,11.8 993.8,13.9 989.1,17.2 987.3,22.0 983.6,18.7" fill-opacity="0.32"/><polygon points="709.4,56.9 710.3,53.9 709.3,48.8 714.7,51.9 717.3,49.5 719.0,52.1 722.2,53.8 719.6,56.7 721.0,61.3 716.4,59.2 713.3,62.8 712.8,58.0" fill-opacity="0.39"/><polygon points="809.4,26.4 800.9,30.1 803.7,37.3 797.2,33.0 792.7,38.0 792.5,31.5 786.7,29.8 790.8,26.1 789.0,18.9 795.8,23.4 800.3,18.6 800.1,25.5" fill-opacity="0.35"/><polygon points="758.7,219.7 767.4,223.4 774.0,225.5 771.2,231.9 770.9,238.5 764.2,238.2 755.7,237.3 759.0,229.3" fill-opacity="0.38"/><polygon points="901.6,280.3 905.9,279.9 911.6,275.0 911.0,282.2 914.4,287.7 907.8,287.1 902.6,290.7 902.5,284.5" fill-opacity="0.62"/><polygon points="882.1,177.9 873.9,182.2 869.6,185.6 866.9,180.7 860.4,177.9 865.5,173.8 869.6,167.6 872.7,174.8" fill-opacity="0.34"/><polygon points="758.3,40.6 758.5,34.8 756.2,27.3 763.9,29.9 770.4,28.0 768.8,34.6 772.8,43.1 764.1,39.6" fill-opacity="0.35"/><polygon points="964.0,145.2 968.0,146.2 971.3,142.6 971.1,147.7 975.4,149.5 970.8,150.8 970.8,156.4 967.4,152.8 961.8,153.7 965.4,149.0" fill-opacity="0.45"/><polygon points="881.7,165.9 874.7,167.7 871.6,173.3 869.5,167.3 861.4,163.7 869.7,161.4 873.2,158.0 875.5,162.5" fill-opacity="0.34"/><polygon points="946.5,113.8 944.9,105.2 935.0,108.0 941.8,101.5 939.2,96.6 945.0,97.6 947.8,89.7 950.1,97.3 959.7,95.4 951.8,102.1 956.8,108.1 949.8,106.9" fill-opacity="0.37"/><polygon points="960.4,173.8 957.7,177.3 957.9,181.6 953.4,180.6 950.5,181.1 948.7,178.8 945.7,176.9 947.3,173.9 946.1,168.6 951.3,170.6 954.7,168.3 955.5,172.7" fill-opacity="0.36"/><polygon points="856.6,227.1 865.9,230.6 872.1,231.1 871.0,237.3 874.8,247.1 865.3,244.2 855.7,246.1 860.3,236.8" fill-opacity="0.34"/><polygon points="914.5,119.1 917.1,122.4 921.1,121.8 919.6,125.6 921.9,128.6 918.1,129.3 917.0,135.2 913.9,130.6 910.9,130.0 911.2,126.9 907.6,123.1 913.2,123.3" fill-opacity="0.66"/><polygon points="997.4,14.5 1002.6,13.8 1004.2,9.3 1006.9,13.9 1011.8,12.3 1009.1,16.9 1012.8,20.1 1008.0,20.3 1007.3,27.1 1004.0,22.1 1000.2,22.0 1001.5,18.2" fill-opacity="0.33"/><polygon points="1019.8,187.9 1011.8,192.1 1014.0,200.9 1007.5,195.4 1001.1,198.2 1002.9,191.6 998.5,186.3 1005.2,185.8 1009.0,180.1 1011.6,186.4" fill-opacity="0.42"/><polygon points="738.3,85.9 741.2,91.6 746.3,94.6 742.8,99.3 742.8,108.4 735.3,104.4 728.5,104.2 729.4,97.2 725.7,90.5 733.1,89.2" fill-opacity="0.58"/><polygon points="850.3,132.7 852.0,127.6 847.4,126.2 851.7,124.9 851.0,120.4 854.3,123.5 857.3,121.5 856.1,125.4 860.0,126.6 856.9,128.1 856.5,130.6 854.1,128.7" fill-opacity="0.42"/><polygon points="825.3,257.0 829.7,258.1 832.3,255.0 832.8,259.0 836.9,260.6 833.2,262.5 833.1,267.9 829.9,263.0 824.3,265.4 828.4,260.7" fill-opacity="0.45"/><polygon points="959.6,107.3 955.9,105.4 949.8,104.2 954.8,100.1 955.7,95.1 959.7,98.0 964.0,99.7 961.0,103.3" fill-opacity="0.70"/><polygon points="1016.3,66.2 1023.3,67.5 1024.7,62.0 1027.4,66.4 1031.1,66.6 1028.6,70.3 1034.5,74.9 1027.6,73.8 1026.1,80.4 1023.4,74.8 1017.3,76.1 1021.4,70.9" fill-opacity="0.60"/><polygon points="996.5,166.8 996.7,159.1 991.6,157.8 995.2,154.4 994.3,149.4 998.9,149.9 1002.6,148.8 1003.5,153.1 1007.8,154.5 1005.0,157.7 1005.6,162.3 1001.5,163.0" fill-opacity="0.64"/><polygon points="738.0,225.2 734.1,226.8 732.8,232.9 729.9,227.1 723.9,228.0 728.5,223.7 725.3,218.1 730.8,220.2 735.5,216.0 734.6,222.5" fill-opacity="0.53"/><polygon points="674.5,70.9 677.5,74.1 681.7,70.8 679.8,75.8 683.4,77.6 679.3,78.5 680.4,84.3 676.9,80.2 674.1,81.3 674.4,78.2 670.4,76.3 675.2,75.5" fill-opacity="0.58"/><polygon points="773.2,214.2 775.0,219.1 779.5,219.3 776.6,222.9 779.9,227.6 774.3,226.1 772.0,231.2 770.9,225.2 764.3,226.7 769.2,222.4 766.0,218.2 771.0,219.4" fill-opacity="0.35"/><polygon points="696.3,292.2 687.8,295.7 684.1,304.1 680.0,296.1 675.6,291.9 680.7,288.3 684.4,278.8 688.6,287.8" fill-opacity="0.67"/><polygon points="805.5,189.1 800.3,186.0 793.7,190.2 795.5,183.0 792.9,178.8 797.7,177.4 800.9,171.8 803.6,177.7 808.3,179.4 804.8,183.2" fill-opacity="0.41"/><polygon points="736.4,198.5 737.6,191.6 733.5,185.6 741.2,185.4 745.3,178.5 747.5,186.4 756.2,187.8 749.1,192.7 750.1,201.3 743.3,195.7" fill-opacity="0.56"/><polygon points="740.2,137.8 745.0,141.0 747.7,139.3 747.7,142.4 750.5,144.7 746.5,145.1 745.8,150.4 743.9,145.6 739.2,146.0 742.9,143.0" fill-opacity="0.59"/><polygon points="808.1,116.1 814.6,116.9 822.5,115.9 820.3,123.6 820.9,130.9 813.8,128.2 806.2,130.0 808.3,122.7" fill-opacity="0.39"/><polygon points="977.1,135.4 980.3,134.7 985.1,132.7 984.9,138.0 987.7,141.5 983.1,142.6 981.2,148.0 978.9,142.5 975.0,142.0 977.4,138.9" fill-opacity="0.61"/><polygon points="825.7,29.9 822.2,34.5 825.8,41.3 819.0,38.9 813.9,42.7 814.8,35.7 808.7,32.6 814.8,30.7 815.9,21.6 820.2,29.6" fill-opacity="0.64"/><polygon points="977.9,131.7 971.0,132.0 966.3,136.7 963.9,130.4 958.4,127.5 962.5,123.0 963.3,115.4 969.5,120.2 977.3,118.0 975.1,125.5" fill-opacity="0.33"/><polygon points="722.6,162.9 717.8,163.7 717.9,168.9 714.5,165.6 711.9,165.5 712.3,162.7 709.4,160.6 712.9,159.6 713.5,156.8 715.7,158.6 719.2,156.9 718.4,160.4" fill-opacity="0.51"/><polygon points="1009.0,31.8 1017.4,27.7 1014.8,22.1 1020.0,23.9 1025.2,15.6 1024.4,25.9 1031.1,26.5 1025.6,30.2 1030.1,38.4 1022.6,34.6 1017.9,40.1 1016.6,33.2" fill-opacity="0.37"/><polygon points="702.7,104.6 703.5,99.7 701.1,96.8 705.1,96.1 706.7,92.9 708.9,95.4 713.9,95.9 710.6,99.5 711.6,104.5 706.9,101.9" fill-opacity="0.33"/><polygon points="799.3,111.2 796.4,112.0 793.2,112.1 792.8,108.8 790.4,106.2 793.7,105.0 795.3,102.4 797.7,104.2 802.6,104.4 798.8,108.0" fill-opacity="0.50"/><polygon points="978.9,169.9 979.3,160.0 971.7,154.7 980.8,154.4 985.5,149.7 986.5,156.3 992.2,161.3 984.3,161.4" fill-opacity="0.52"/><polygon points="874.0,211.6 866.1,212.1 865.5,218.3 861.7,213.0 857.6,214.1 859.3,209.8 852.9,206.3 859.6,205.7 860.3,200.0 863.6,205.6 868.2,203.2 865.9,207.9" fill-opacity="0.68"/><polygon points="995.0,22.3 985.9,24.1 978.1,30.9 976.8,20.5 971.4,13.2 980.3,11.4 986.9,8.0 988.7,15.2" fill-opacity="0.37"/><polygon points="1015.9,151.2 1009.9,156.9 1004.7,162.8 1000.1,156.3 991.1,152.4 998.5,146.5 1003.6,139.6 1008.2,147.3" fill-opacity="0.40"/><polygon points="957.0,70.6 957.7,74.1 962.5,75.9 957.5,77.5 957.2,81.9 954.2,79.0 951.4,78.6 951.9,75.8 949.6,71.7 954.0,72.1" fill-opacity="0.47"/><polygon points="921.7,251.7 914.1,247.0 905.9,249.0 908.4,241.5 908.3,233.7 915.5,237.1 923.7,235.8 918.9,243.0" fill-opacity="0.34"/><polygon points="981.0,198.4 974.2,199.1 972.9,205.0 969.2,201.5 963.8,200.5 966.9,195.7 965.8,190.3 971.4,193.2 975.5,189.9 975.1,195.1" fill-opacity="0.68"/><polygon points="845.0,63.5 841.3,72.0 841.8,77.5 836.3,76.5 830.5,77.6 831.4,71.8 828.0,63.3 836.5,67.0" fill-opacity="0.58"/><polygon points="729.2,91.8 730.3,85.6 727.2,79.1 735.1,80.5 739.5,74.4 741.9,80.9 748.0,84.2 740.7,87.4 741.5,96.0 735.6,90.9" fill-opacity="0.32"/><polygon points="711.4,11.2 707.3,19.3 713.6,24.8 705.6,24.2 701.9,32.1 700.8,22.7 691.9,22.4 698.6,17.9 697.4,9.7 703.7,15.8" fill-opacity="0.46"/><polygon points="732.2,94.0 728.4,98.8 729.1,103.9 724.1,102.1 719.2,105.5 718.4,100.1 716.1,96.2 720.6,94.4 722.6,87.8 726.1,93.6" fill-opacity="0.58"/><polygon points="807.7,217.5 810.4,212.8 811.2,204.9 817.3,209.6 823.6,211.6 818.5,216.5 818.9,225.8 813.1,218.7" fill-opacity="0.41"/><polygon points="884.7,239.4 880.5,238.9 877.9,241.8 875.8,238.7 871.6,237.6 874.9,234.2 872.6,229.7 877.4,230.9 880.4,225.1 881.1,232.0 887.7,231.3 884.0,235.5" fill-opacity="0.36"/><polygon points="759.8,57.1 754.9,58.6 751.7,60.4 749.3,57.6 748.2,54.2 751.0,52.1 754.6,49.0 756.4,53.3" fill-opacity="0.39"/><polygon points="720.0,190.4 723.4,184.8 726.7,180.4 730.8,184.2 739.7,184.7 733.9,190.6 731.8,198.1 725.7,193.4" fill-opacity="0.65"/><polygon points="715.9,92.6 719.5,94.8 726.9,94.4 721.1,100.8 725.3,106.0 718.4,104.7 716.3,113.2 712.6,107.1 706.4,106.7 709.0,101.0 706.8,95.7 712.6,95.0" fill-opacity="0.64"/><polygon points="996.2,140.2 997.2,135.8 994.9,130.4 1000.4,131.4 1005.3,130.7 1004.9,135.6 1005.0,140.0 1000.6,139.9" fill-opacity="0.66"/><polygon points="678.7,85.4 679.5,78.7 672.9,76.0 679.4,73.3 677.7,64.6 684.2,70.5 688.8,68.3 688.3,73.8 694.7,76.2 689.0,79.0 689.1,84.9 684.1,80.0" fill-opacity="0.42"/><polygon points="703.0,113.4 699.3,108.0 695.7,109.2 696.8,105.4 692.1,102.6 697.2,101.7 697.2,95.0 701.0,100.5 704.3,99.9 703.2,103.4 706.5,105.8 702.9,106.9" fill-opacity="0.33"/><polygon points="900.7,164.7 897.6,164.5 896.3,167.6 895.3,164.0 890.1,165.8 893.3,162.2 890.5,158.9 894.6,159.4 896.2,156.0 897.8,159.5 900.3,159.8 899.0,162.2" fill-opacity="0.47"/><polygon points="688.7,284.1 694.9,282.7 699.7,274.7 701.3,283.4 704.5,287.9 698.8,289.0 694.3,297.1 693.4,288.3" fill-opacity="0.56"/><polygon points="723.5,255.0 728.3,255.2 729.2,250.7 731.2,255.3 736.1,253.0 732.9,257.2 736.1,259.9 731.8,259.5 731.2,263.8 729.0,260.9 724.7,262.1 727.6,258.0" fill-opacity="0.61"/><polygon points="879.6,222.5 877.7,218.3 872.5,217.5 877.2,214.4 876.1,209.5 880.1,212.2 883.2,211.4 882.9,214.6 885.0,217.3 881.6,217.9" fill-opacity="0.32"/><polygon points="826.8,137.8 827.3,148.5 838.6,149.5 829.1,154.0 829.4,162.3 823.3,156.6 816.0,159.1 818.0,152.2 811.6,144.4 821.5,145.6" fill-opacity="0.36"/><polygon points="852.9,212.7 855.5,206.2 857.9,199.0 864.9,201.8 870.6,205.3 867.2,211.1 866.1,218.8 859.9,214.0" fill-opacity="0.60"/><polygon points="818.5,11.8 812.7,9.1 805.3,16.4 807.9,6.6 800.9,2.0 808.9,0.8 811.1,-8.9 815.4,-0.4 824.7,-0.6 818.2,6.0" fill-opacity="0.60"/><polygon points="987.8,92.5 988.0,96.3 991.3,101.3 985.3,101.4 981.9,103.8 978.9,101.0 975.7,98.0 978.7,94.6 979.9,90.2 984.1,91.5" fill-opacity="0.58"/><polygon points="892.0,156.7 888.6,161.6 889.3,165.9 884.9,166.3 881.3,171.7 879.5,165.0 873.3,164.9 878.4,160.4 876.6,156.5 881.0,157.4 883.8,149.4 885.3,157.1" fill-opacity="0.54"/><polygon points="798.1,188.0 803.4,185.4 806.6,180.3 810.3,185.4 816.9,186.1 811.5,191.1 816.2,200.2 808.0,196.1 800.3,202.1 802.4,192.3" fill-opacity="0.56"/><polygon points="898.3,-2.9 902.0,-1.3 906.2,-0.2 904.3,4.1 908.0,10.4 900.9,7.4 896.8,11.6 896.3,6.1 891.3,3.2 895.6,0.2" fill-opacity="0.59"/><polygon points="909.6,229.8 906.1,226.9 903.6,223.4 907.2,221.1 909.4,217.0 911.6,221.2 915.4,223.2 912.6,226.3" fill-opacity="0.42"/><polygon points="705.3,293.8 710.3,292.2 713.3,285.5 715.7,292.0 720.7,295.6 714.5,297.5 711.2,303.8 709.2,297.1" fill-opacity="0.39"/><polygon points="716.5,38.3 723.7,37.4 727.3,32.7 729.2,38.0 731.8,41.7 727.4,43.3 724.1,46.6 722.2,42.4" fill-opacity="0.69"/><polygon points="966.5,151.9 962.5,143.0 957.1,142.1 959.3,137.2 956.0,128.0 964.6,131.9 970.5,129.7 970.9,136.1 975.7,140.9 969.7,143.6" fill-opacity="0.42"/><polygon points="734.6,292.9 736.9,296.8 741.6,297.0 738.4,300.4 739.7,304.9 735.5,303.2 731.6,305.7 732.6,300.8 729.7,298.4 733.4,297.7" fill-opacity="0.53"/><polygon points="888.4,-3.8 891.2,-0.5 897.9,-3.4 892.9,3.0 897.4,6.2 892.2,6.3 891.6,12.8 888.2,8.2 881.4,10.9 886.0,4.3 882.9,1.2 887.1,0.4" fill-opacity="0.38"/><polygon points="714.4,27.7 717.1,25.4 716.8,21.7 720.1,21.7 723.5,20.7 724.7,24.0 728.3,26.2 725.0,28.9 724.3,32.0 721.0,30.5 718.1,32.8 716.7,29.9" fill-opacity="0.47"/><polygon points="734.3,91.3 726.1,89.2 724.2,96.8 721.4,90.3 714.8,91.2 719.4,85.8 716.7,81.6 721.8,82.1 723.8,78.1 725.9,82.2 730.7,81.6 729.7,85.6" fill-opacity="0.52"/><polygon points="735.1,258.7 741.0,263.2 746.0,266.0 742.2,270.5 740.5,275.1 736.3,272.5 731.3,270.8 732.7,265.7" fill-opacity="0.64"/><polygon points="961.0,25.5 953.8,22.1 949.5,25.6 950.3,19.6 942.1,16.8 950.2,15.5 951.1,8.6 954.4,15.0 961.8,13.1 956.4,18.5" fill-opacity="0.56"/><polygon points="840.3,60.5 832.8,57.3 825.3,62.5 828.1,54.3 825.5,48.1 832.1,49.4 839.3,45.8 837.2,53.5" fill-opacity="0.62"/><polygon points="963.9,209.4 957.0,209.1 950.2,212.0 951.6,204.5 949.3,198.9 955.2,198.3 960.6,197.6 960.4,203.1" fill-opacity="0.47"/><polygon points="990.9,193.1 990.4,201.0 993.3,207.0 986.8,208.0 979.6,211.8 980.7,203.4 976.8,197.1 984.0,196.6" fill-opacity="0.68"/><polygon points="830.9,156.1 825.7,159.5 822.3,162.6 818.4,160.2 812.4,159.7 816.5,154.5 814.0,148.8 819.4,148.6 824.4,147.0 825.4,152.4" fill-opacity="0.65"/><polygon points="932.0,172.7 942.1,172.8 945.2,164.9 948.9,172.0 955.8,173.7 949.6,178.6 953.4,188.7 945.1,183.5 939.6,184.6 939.4,178.9" fill-opacity="0.60"/><polygon points="753.9,53.8 752.7,64.4 762.4,64.0 753.5,68.0 756.2,73.4 751.3,72.2 747.5,75.7 746.3,70.5 736.7,70.2 745.7,65.7 742.7,59.3 748.8,61.6" fill-opacity="0.55"/><polygon points="1025.8,204.2 1024.5,207.6 1023.3,211.9 1019.4,209.9 1014.5,208.7 1017.9,204.8 1019.2,201.5 1022.7,202.3" fill-opacity="0.41"/><polygon points="933.5,66.0 925.6,68.0 924.7,75.8 919.7,71.0 914.5,69.6 916.8,64.5 916.7,60.1 921.3,60.9 926.6,54.9 927.2,62.1" fill-opacity="0.40"/><polygon points="748.4,14.2 746.4,18.7 751.0,22.8 745.2,22.1 742.4,28.2 741.4,21.6 734.6,20.9 740.8,17.9 740.9,14.2 744.1,15.7" fill-opacity="0.58"/><polygon points="797.1,84.3 802.9,87.9 811.3,86.5 807.2,94.4 808.7,99.8 803.6,101.8 797.0,108.9 795.6,99.0 786.6,95.3 795.1,90.8" fill-opacity="0.57"/><polygon points="912.7,222.6 912.7,215.6 906.2,214.2 909.7,209.9 909.1,203.4 915.6,207.0 920.1,203.1 920.1,209.5 929.3,210.4 922.4,214.7 924.2,221.9 917.3,217.1" fill-opacity="0.61"/><polygon points="711.3,163.6 703.5,159.7 692.8,161.1 700.1,152.4 698.6,143.4 706.0,149.0 716.6,146.1 709.2,154.4" fill-opacity="0.42"/><polygon points="717.4,220.2 715.2,226.8 723.3,229.9 714.5,230.9 715.9,239.4 710.7,233.1 703.8,238.5 707.4,230.2 698.7,227.1 707.5,225.8 706.5,217.6 711.8,222.8" fill-opacity="0.37"/><polygon points="995.3,1.0 992.2,5.3 995.5,11.2 989.3,8.5 984.7,13.6 985.5,6.7 982.2,4.2 985.7,2.3 986.5,-4.8 990.2,1.2" fill-opacity="0.68"/><polygon points="989.8,236.8 990.4,245.6 996.1,246.5 994.3,251.0 994.4,256.2 988.8,255.3 984.6,259.6 982.4,254.2 979.0,251.7 980.2,247.7 977.2,240.2 985.0,243.0" fill-opacity="0.44"/><polygon points="752.9,108.7 749.6,104.8 742.7,104.4 746.5,99.0 745.6,92.6 751.8,94.7 757.9,91.3 757.8,98.1 762.7,103.0 755.6,104.3" fill-opacity="0.31"/><polygon points="819.4,130.0 810.0,130.5 804.4,131.9 803.3,126.1 797.1,119.4 805.8,118.6 812.4,114.9 813.6,122.5" fill-opacity="0.47"/><polygon points="934.1,24.9 934.6,18.7 929.6,16.0 934.0,13.6 936.3,10.1 939.4,13.1 942.4,14.3 941.0,17.3 943.8,22.5 938.3,20.0" fill-opacity="0.62"/><polygon points="962.1,34.4 966.4,34.0 968.4,26.8 970.6,33.4 976.5,34.2 972.2,38.1 973.8,44.9 968.0,40.5 962.3,44.2 964.8,37.6" fill-opacity="0.66"/><polygon points="990.5,216.7 987.7,220.9 993.2,226.8 985.4,224.9 983.1,228.3 980.5,225.4 973.1,226.7 978.6,220.9 976.0,216.8 980.9,217.2 983.1,213.3 985.8,216.2" fill-opacity="0.62"/><polygon points="880.0,150.0 887.4,144.9 890.1,137.7 894.8,143.9 900.1,146.7 895.9,151.1 893.6,158.9 888.8,152.2" fill-opacity="0.48"/><polygon points="770.3,109.4 763.4,113.1 765.9,120.0 759.6,116.5 754.9,121.9 754.7,114.8 746.5,113.6 753.3,109.5 752.5,104.0 757.8,106.2 762.5,101.0 762.9,107.9" fill-opacity="0.42"/><polygon points="886.6,132.0 888.7,136.0 893.2,136.5 889.8,139.7 890.0,143.0 886.9,143.0 883.2,143.9 883.9,139.8 880.1,136.8 884.2,135.4" fill-opacity="0.55"/><polygon points="742.9,152.1 740.7,149.1 736.2,148.9 739.9,145.1 737.7,141.9 740.8,141.0 743.2,137.7 745.0,141.9 750.5,141.1 747.1,145.2 750.2,149.5 744.8,148.2" fill-opacity="0.55"/><polygon points="811.9,-9.1 813.1,-5.1 818.1,-1.7 812.5,0.5 810.5,5.2 807.3,0.6 802.2,0.8 805.0,-3.4 804.0,-7.7 808.1,-7.5" fill-opacity="0.61"/><polygon points="812.5,90.6 808.2,95.8 807.8,101.2 803.5,97.4 798.1,97.7 801.5,93.5 800.9,87.3 805.7,90.9" fill-opacity="0.48"/><polygon points="722.1,160.6 726.1,155.9 730.9,149.9 736.3,155.4 742.3,160.9 734.4,164.5 730.6,173.7 726.5,164.9" fill-opacity="0.52"/><polygon points="938.1,120.9 931.9,120.4 928.7,123.3 927.7,119.3 926.2,116.1 929.4,114.7 933.2,112.0 933.7,116.7" fill-opacity="0.69"/><polygon points="828.1,212.2 833.4,208.9 831.2,203.3 835.8,206.1 838.9,205.4 838.1,208.9 842.9,212.0 837.7,212.2 835.8,215.3 834.5,211.5" fill-opacity="0.67"/><polygon points="1010.6,275.0 1018.9,271.1 1018.9,265.5 1023.5,268.6 1029.0,267.0 1028.7,272.2 1032.1,277.9 1024.6,276.7 1020.7,285.8 1018.9,276.9" fill-opacity="0.46"/><polygon points="969.5,12.2 967.4,9.2 963.4,5.7 969.1,3.9 969.9,-2.2 973.8,1.9 977.9,2.8 975.8,6.7 976.9,10.6 972.7,9.6" fill-opacity="0.40"/><polygon points="1026.1,6.3 1023.6,13.1 1023.0,20.1 1016.3,17.9 1005.9,19.4 1012.4,10.7 1012.2,3.5 1018.6,7.4" fill-opacity="0.32"/><polygon points="707.2,201.1 708.6,204.4 715.0,204.2 710.1,208.2 712.6,212.9 707.5,211.2 704.5,216.8 702.9,211.3 700.0,209.7 701.8,206.8 699.2,201.8 704.6,203.6" fill-opacity="0.35"/><polygon points="820.3,-1.4 818.8,2.1 822.6,5.4 817.7,5.5 816.2,8.3 814.1,5.7 809.1,7.5 811.9,3.0 810.6,0.6 813.1,-0.3 814.3,-5.0 816.6,-0.4" fill-opacity="0.32"/><polygon points="812.1,40.1 817.3,36.9 817.4,30.0 821.2,35.4 827.1,36.3 822.2,39.8 821.8,47.1 818.1,40.6" fill-opacity="0.58"/><polygon points="818.5,179.2 815.9,182.6 815.3,187.7 811.2,184.9 806.4,183.6 809.6,179.7 810.3,173.8 814.2,178.6" fill-opacity="0.48"/><polygon points="833.2,100.9 834.0,96.5 832.0,90.3 838.1,91.8 841.9,93.1 842.8,97.0 842.0,101.5 837.5,101.6" fill-opacity="0.40"/><polygon points="706.3,188.8 708.6,196.0 716.2,192.9 711.7,198.8 716.6,203.7 709.7,202.9 707.8,207.2 704.9,203.8 698.5,205.1 702.1,199.6 699.6,195.6 705.0,196.1" fill-opacity="0.65"/><polygon points="1030.6,212.9 1025.9,211.8 1020.8,213.5 1022.6,208.4 1020.0,202.8 1025.7,204.4 1031.3,202.5 1029.5,208.2" fill-opacity="0.63"/><polygon points="828.8,127.1 822.0,126.2 818.0,131.1 816.5,123.8 806.4,125.4 812.7,119.1 810.2,112.9 817.0,114.1 820.7,109.8 822.0,116.5 828.7,116.0 825.2,120.7" fill-opacity="0.61"/><polygon points="719.7,42.5 722.9,38.6 720.6,34.4 726.0,36.5 727.8,31.2 729.7,35.3 732.7,36.3 729.9,39.1 734.9,44.3 728.3,41.3 726.5,47.3 725.1,41.9" fill-opacity="0.42"/><polygon points="834.1,230.2 830.8,229.1 828.5,231.0 827.6,228.3 823.7,227.5 826.7,225.0 826.4,222.2 829.4,223.7 832.1,218.8 832.2,223.9 836.9,224.3 833.1,226.9" fill-opacity="0.34"/><polygon points="835.0,241.9 831.6,233.6 827.0,229.4 833.5,227.3 836.6,217.4 840.0,226.3 845.8,230.6 839.4,234.1" fill-opacity="0.54"/><polygon points="988.3,18.3 986.9,11.2 983.7,5.6 990.3,4.7 996.8,-2.5 997.6,6.6 1000.8,12.5 994.7,15.1" fill-opacity="0.36"/><polygon points="996.3,177.1 1000.9,170.2 992.3,162.0 1002.8,164.8 1008.5,155.7 1008.1,167.2 1017.8,169.1 1009.4,172.8 1008.7,179.6 1003.6,174.9" fill-opacity="0.59"/><polygon points="879.5,156.8 883.2,157.8 886.5,154.2 886.5,159.5 891.7,160.2 887.9,163.1 890.1,168.6 884.6,164.7 881.4,169.7 881.8,163.8 875.4,163.6 880.3,160.6" fill-opacity="0.65"/><polygon points="680.3,95.0 684.3,102.0 690.5,104.1 685.4,108.0 683.2,115.2 679.5,108.3 671.2,106.9 679.0,103.3" fill-opacity="0.44"/><polygon points="890.5,296.5 886.3,296.4 885.6,302.2 883.2,297.1 878.7,298.6 881.6,294.5 876.8,291.0 882.2,291.3 883.4,287.3 885.8,290.7 891.7,288.3 887.3,293.6" fill-opacity="0.49"/><polygon points="854.0,261.0 850.7,254.5 844.0,252.5 850.0,249.0 852.4,243.7 855.3,249.0 861.2,250.8 855.9,254.0" fill-opacity="0.43"/><polygon points="780.8,30.1 783.1,24.9 782.2,18.9 787.9,20.3 793.8,20.7 791.4,26.3 791.4,31.6 786.2,30.9" fill-opacity="0.63"/><polygon points="722.2,154.7 717.9,151.9 710.3,156.0 713.0,148.6 710.4,143.7 716.1,143.3 720.2,135.2 722.1,143.8 729.6,145.6 722.7,149.7" fill-opacity="0.39"/><polygon points="775.7,155.6 776.7,163.4 783.8,164.2 777.1,168.4 781.5,175.6 774.5,172.6 770.4,178.2 770.3,170.3 760.7,171.1 769.4,166.6 764.5,159.5 771.5,162.7" fill-opacity="0.59"/><polygon points="833.7,167.9 826.9,169.3 824.2,172.3 820.5,170.7 814.9,171.3 816.0,165.8 812.9,161.4 818.9,160.5 820.0,153.2 823.9,159.7 829.3,158.2 828.2,163.1" fill-opacity="0.44"/><polygon points="1018.4,203.9 1016.2,199.0 1011.6,200.3 1014.3,196.4 1007.9,191.8 1015.6,193.4 1016.6,188.4 1019.0,192.7 1024.6,190.8 1021.4,195.5 1025.2,199.3 1019.2,198.3" fill-opacity="0.40"/><polygon points="941.8,120.6 947.0,117.9 946.1,109.9 952.1,115.3 959.4,109.2 956.7,118.5 965.9,121.6 957.2,124.4 956.2,129.2 951.7,126.6 947.3,128.3 946.4,123.9" fill-opacity="0.35"/><polygon points="746.3,132.3 750.4,128.5 747.0,121.2 753.4,125.6 758.1,122.4 756.9,128.1 763.4,131.9 756.5,132.8 754.2,139.3 752.0,132.0" fill-opacity="0.48"/><polygon points="816.2,41.1 822.0,44.2 825.8,44.5 825.4,48.6 830.6,52.8 824.0,52.8 821.4,57.6 818.1,54.2 814.7,51.5 818.2,48.2" fill-opacity="0.61"/><polygon points="962.1,60.0 958.7,64.3 963.5,71.0 955.6,68.3 952.5,73.2 950.2,68.2 944.1,67.8 948.6,63.1 944.0,56.6 952.2,60.4 954.5,55.7 955.8,60.8" fill-opacity="0.41"/><polygon points="1012.6,221.5 1011.4,216.4 1007.6,212.4 1013.6,210.9 1014.9,204.1 1018.5,209.9 1023.7,210.1 1020.4,214.4 1024.4,221.6 1017.2,218.2" fill-opacity="0.42"/><polygon points="957.1,56.3 963.2,52.7 968.3,44.7 973.3,52.2 976.2,58.3 970.2,61.3 965.7,68.6 960.6,62.4" fill-opacity="0.65"/><polygon points="747.9,190.1 749.9,182.9 747.1,177.0 753.5,178.3 759.7,175.1 757.4,182.0 762.4,189.0 754.6,187.6" fill-opacity="0.60"/><polygon points="861.1,39.4 862.8,33.3 861.1,28.4 866.3,29.6 872.6,25.9 870.5,32.7 873.3,38.8 866.8,36.1" fill-opacity="0.50"/><polygon points="758.1,41.6 754.0,40.7 749.8,43.6 749.9,38.5 745.4,35.2 751.0,34.0 752.5,28.3 755.6,33.0 760.5,33.6 756.6,37.4" fill-opacity="0.43"/><polygon points="923.4,197.8 923.7,201.7 929.4,202.4 924.1,204.1 924.5,208.4 921.5,205.8 916.8,207.6 919.7,203.2 917.7,200.2 921.3,200.7" fill-opacity="0.38"/><polygon points="790.7,265.3 796.8,265.1 797.3,259.4 800.5,264.1 805.0,262.4 802.0,267.2 806.4,269.9 801.9,270.4 801.6,276.7 798.5,271.0 793.3,273.6 795.4,268.8" fill-opacity="0.55"/><polygon points="848.0,112.9 847.7,117.1 851.6,119.3 847.3,121.1 848.4,127.6 843.8,122.6 838.9,126.6 838.7,121.6 835.8,118.4 840.1,116.2 839.6,110.0 844.3,114.2" fill-opacity="0.46"/><polygon points="691.0,17.2 696.0,13.9 697.3,6.3 701.6,12.3 707.8,14.6 702.6,18.6 700.3,24.8 696.9,18.7" fill-opacity="0.62"/><polygon points="849.5,11.4 855.2,12.0 862.4,7.4 861.2,15.4 862.0,20.8 856.6,21.9 849.8,24.1 850.1,16.9" fill-opacity="0.46"/><polygon points="942.2,178.8 937.3,181.3 938.8,190.2 932.4,184.2 925.4,189.8 927.7,181.0 924.2,178.0 928.0,175.4 926.9,167.3 932.9,173.1 939.5,167.7 936.7,176.3" fill-opacity="0.38"/><polygon points="687.1,192.6 687.5,197.0 691.9,198.9 687.1,200.3 687.2,206.0 684.0,201.7 679.9,202.3 682.0,198.7 680.8,195.6 683.9,195.2" fill-opacity="0.57"/><polygon points="785.1,145.5 781.8,141.6 776.5,140.9 779.5,136.9 781.7,133.4 785.4,135.1 790.0,137.1 787.2,141.2" fill-opacity="0.51"/><polygon points="747.1,93.5 746.5,98.6 748.1,102.8 743.4,102.1 739.1,104.5 739.5,99.7 738.7,96.0 742.6,96.4" fill-opacity="0.63"/><polygon points="748.4,26.5 758.0,28.5 763.7,24.3 764.2,31.0 770.7,38.8 760.3,36.4 754.9,40.3 754.9,33.7" fill-opacity="0.36"/><polygon points="940.2,234.2 941.0,227.9 937.5,227.2 939.4,224.9 939.3,221.9 942.5,223.5 945.0,220.1 945.4,224.0 950.0,224.7 946.3,227.2 948.3,232.1 943.8,230.1" fill-opacity="0.40"/><polygon points="827.8,109.8 832.7,107.5 838.1,105.4 839.4,111.1 842.9,116.6 836.3,117.1 830.0,123.3 829.0,115.0" fill-opacity="0.54"/><polygon points="867.1,86.4 870.4,92.5 875.9,92.3 871.2,96.5 874.7,102.2 869.0,98.8 864.3,104.5 864.9,97.9 859.4,94.6 866.7,94.1" fill-opacity="0.54"/><polygon points="730.4,50.7 727.4,56.1 733.6,63.1 723.9,60.6 721.5,67.6 718.5,61.2 709.2,63.5 714.2,56.4 712.4,51.3 718.8,52.1 721.0,44.3 724.1,51.1" fill-opacity="0.32"/><polygon points="814.1,242.2 816.2,237.6 813.8,233.8 817.9,232.5 820.2,228.5 823.7,231.2 828.9,231.3 826.6,236.4 828.2,240.0 825.0,242.2 822.0,244.3 818.7,242.7" fill-opacity="0.49"/><polygon points="940.7,16.9 936.7,19.7 938.1,23.1 934.5,21.6 931.8,26.7 931.5,21.3 926.2,21.2 929.5,18.0 928.1,13.6 932.9,16.2 935.6,11.0 936.1,16.5" fill-opacity="0.60"/><polygon points="917.7,214.3 919.8,219.1 925.2,223.0 918.6,224.5 914.9,230.2 914.1,223.1 908.3,220.0 914.1,218.0" fill-opacity="0.58"/><polygon points="706.1,154.5 709.4,150.2 712.3,142.5 716.9,149.4 725.5,151.9 718.5,157.1 715.1,163.3 709.8,158.7" fill-opacity="0.60"/><polygon points="978.5,114.7 981.6,107.3 978.7,99.1 987.4,100.3 993.5,97.2 995.3,104.0 1002.4,108.6 993.4,111.2 993.0,122.1 987.1,113.3" fill-opacity="0.37"/><polygon points="782.8,70.4 785.5,64.9 779.8,59.4 787.4,59.3 789.9,54.3 792.8,60.2 801.2,56.9 797.8,63.6 801.7,69.0 794.7,69.3 792.3,75.6 788.3,70.4" fill-opacity="0.60"/><polygon points="700.0,176.8 699.7,182.1 705.3,187.0 698.2,188.1 694.9,194.0 692.8,186.6 686.3,186.3 691.1,182.3 688.4,174.4 695.0,179.0" fill-opacity="0.38"/><polygon points="909.1,260.6 912.4,261.2 913.3,256.8 914.6,260.8 920.0,258.9 915.5,262.9 918.9,265.9 915.0,265.5 913.6,268.6 912.1,265.5 908.5,266.0 911.2,263.0" fill-opacity="0.33"/><polygon points="891.7,202.5 883.7,202.4 880.8,206.2 878.9,202.2 873.0,197.8 880.8,197.7 884.0,193.0 884.9,198.5" fill-opacity="0.42"/><polygon points="787.1,132.0 791.5,133.5 793.9,128.2 795.1,133.3 801.2,133.2 797.7,137.3 798.9,141.6 794.3,140.8 791.2,144.9 790.5,139.0 785.1,139.3 787.9,135.7" fill-opacity="0.61"/><polygon points="989.4,30.1 984.6,27.7 980.0,28.4 982.5,24.2 980.7,19.0 985.3,21.7 990.5,20.2 988.8,24.9" fill-opacity="0.48"/><polygon points="1023.0,108.7 1023.3,105.1 1018.3,103.7 1023.7,102.4 1022.5,98.0 1025.8,99.9 1029.5,97.0 1029.1,101.6 1031.6,103.5 1028.6,105.1 1029.0,108.9 1025.9,106.9" fill-opacity="0.69"/><polygon points="903.0,279.0 902.3,272.9 904.5,267.1 910.5,267.7 918.4,267.3 915.2,274.7 915.8,282.1 908.9,279.8" fill-opacity="0.40"/><polygon points="736.0,157.5 728.0,160.0 722.4,168.5 719.3,159.2 713.3,153.3 721.8,151.0 726.6,146.0 729.5,152.2" fill-opacity="0.36"/><polygon points="709.7,101.8 712.5,96.3 708.9,92.3 714.9,92.5 715.7,85.0 719.0,91.4 725.6,88.9 722.7,94.8 724.9,98.5 720.0,99.0 718.9,105.7 715.7,99.8" fill-opacity="0.51"/><polygon points="686.1,109.5 685.5,105.3 680.7,100.5 687.3,98.8 689.1,93.1 693.6,97.3 700.7,94.6 698.6,101.6 702.8,106.1 697.3,108.5 694.1,110.8 690.6,108.9" fill-opacity="0.51"/><polygon points="927.8,39.1 935.2,35.2 933.6,27.4 939.5,31.9 946.0,29.2 944.6,35.7 948.7,41.4 941.7,41.9 937.9,45.6 936.1,39.9" fill-opacity="0.47"/><polygon points="998.0,15.5 1001.1,9.9 997.3,5.0 1003.7,7.0 1006.6,2.4 1007.6,7.3 1012.1,9.0 1008.2,11.7 1007.8,16.7 1004.1,12.7" fill-opacity="0.47"/><polygon points="667.0,82.5 672.8,73.8 675.5,64.3 683.8,69.9 694.1,72.0 685.8,79.6 685.5,90.3 678.1,82.6" fill-opacity="0.56"/><polygon points="767.9,120.1 767.7,117.1 765.5,114.8 769.2,114.0 769.4,110.8 771.9,111.9 776.5,109.1 774.8,114.3 778.3,116.6 774.3,118.0 774.2,122.7 770.8,119.8" fill-opacity="0.55"/><polygon points="822.6,114.8 819.6,121.8 824.4,126.1 819.1,128.4 816.9,134.1 812.0,130.7 806.8,130.4 809.4,124.5 802.4,120.1 808.8,118.0 810.8,110.8 816.0,116.1" fill-opacity="0.34"/><polygon points="718.0,102.6 725.3,103.2 728.9,100.1 730.9,105.6 738.4,104.2 734.8,109.7 738.2,115.6 730.9,114.0 728.0,119.2 724.9,115.0 718.8,114.3 723.4,109.1" fill-opacity="0.35"/><polygon points="973.2,125.6 972.4,129.4 976.3,130.6 972.9,132.1 973.8,136.7 970.3,133.8 967.8,135.0 967.4,132.3 963.6,130.6 967.8,129.2 966.9,124.7 970.3,127.0" fill-opacity="0.60"/><polygon points="851.7,147.8 851.6,140.4 845.2,137.8 851.2,135.1 852.0,128.3 856.5,133.7 862.9,132.4 860.0,138.0 863.4,144.3 856.6,143.1" fill-opacity="0.56"/><polygon points="909.9,135.6 904.7,140.6 906.1,145.1 901.8,145.2 897.1,147.7 896.9,142.1 891.7,138.5 898.1,137.1 899.9,132.5 903.7,134.9" fill-opacity="0.34"/><polygon points="736.2,113.0 739.6,114.6 742.8,117.3 740.2,120.6 738.0,125.0 734.3,121.8 730.5,119.1 733.2,115.4" fill-opacity="0.42"/><polygon points="1007.1,97.4 1010.1,98.6 1014.5,98.0 1013.5,102.4 1016.5,106.0 1011.3,106.5 1010.1,110.3 1007.2,107.9 1003.6,108.2 1003.0,104.9 1002.1,101.6 1005.9,100.8" fill-opacity="0.39"/><polygon points="963.6,114.5 971.3,110.3 971.2,103.4 976.5,108.4 984.8,103.7 980.8,111.9 985.1,117.4 978.0,116.9 973.9,124.9 972.2,116.2" fill-opacity="0.56"/><polygon points="964.7,216.7 965.5,211.5 962.4,209.3 964.9,206.9 965.1,201.9 969.3,205.2 973.4,202.8 973.5,207.3 978.6,209.9 972.7,211.8 972.7,216.2 969.0,214.9" fill-opacity="0.32"/><polygon points="1000.4,8.7 1005.1,5.7 1006.0,1.9 1009.9,4.2 1014.2,0.4 1014.5,5.5 1021.8,7.9 1014.6,10.8 1014.3,15.1 1010.2,14.0 1004.4,19.0 1005.3,11.3" fill-opacity="0.42"/><polygon points="921.5,168.7 922.3,161.7 919.5,158.3 923.7,156.7 925.5,152.1 929.1,154.9 936.1,155.1 931.8,160.6 932.4,165.9 927.1,164.1" fill-opacity="0.67"/><polygon points="712.0,159.6 707.7,157.9 703.4,159.2 704.0,154.1 696.3,151.8 702.6,148.9 703.4,144.2 707.8,146.5 712.9,143.3 712.7,149.2 718.0,152.1 711.2,154.0" fill-opacity="0.58"/><polygon points="728.1,252.5 729.4,248.0 724.9,244.6 730.5,244.5 732.5,240.7 733.9,245.0 738.3,245.4 735.1,248.2 735.5,251.9 732.2,250.2" fill-opacity="0.63"/><polygon points="761.3,67.8 755.9,74.7 758.1,79.6 752.9,79.3 747.6,86.0 748.2,76.9 740.1,74.4 746.8,71.1 748.0,63.0 752.9,70.6" fill-opacity="0.46"/><polygon points="868.2,173.5 875.0,173.4 882.9,171.6 880.6,179.7 884.5,188.4 875.5,185.3 869.1,186.6 869.1,180.2" fill-opacity="0.35"/><polygon points="836.9,149.4 840.5,152.7 848.0,148.1 844.8,155.8 851.9,160.2 842.9,160.7 842.4,166.7 838.2,163.1 830.5,167.4 833.9,159.3 828.5,155.1 835.1,153.6" fill-opacity="0.31"/><polygon points="983.2,52.7 987.4,51.3 988.1,43.7 991.5,50.2 998.0,49.5 994.0,54.4 997.3,61.2 990.4,57.4 985.2,62.9 984.7,56.3" fill-opacity="0.35"/><polygon points="711.9,225.7 717.0,221.3 716.2,215.6 721.4,217.7 728.7,212.8 726.3,221.2 732.5,226.5 724.0,226.5 721.2,236.9 719.1,225.7" fill-opacity="0.55"/><polygon points="730.5,241.2 726.9,237.0 721.4,235.2 724.2,230.2 722.5,221.7 730.2,225.3 737.1,222.4 738.3,229.3 741.6,235.4 735.3,238.6" fill-opacity="0.58"/><polygon points="826.7,260.2 822.9,260.8 819.3,262.3 818.5,258.2 814.5,255.8 818.1,253.3 820.1,250.6 823.2,252.2 827.7,252.2 826.3,256.4" fill-opacity="0.64"/><polygon points="776.9,7.0 772.6,3.9 766.1,6.1 767.4,0.1 765.5,-5.2 771.8,-4.6 775.6,-10.3 777.5,-4.1 785.0,-1.8 779.4,2.8" fill-opacity="0.51"/></g><g fill="#fff"><polygon points="786.4,39.9 789.3,40.6 790.4,39.3 791.0,40.8 792.7,41.5 791.3,42.7 790.9,44.2 789.5,43.5 786.9,44.6 788.1,42.0" fill-opacity="0.47"/><polygon points="697.4,177.1 696.8,174.8 694.7,173.1 697.0,172.0 699.0,170.8 699.9,172.9 702.2,175.0 699.1,175.6" fill-opacity="0.46"/><polygon points="691.7,15.6 696.1,13.1 695.9,9.8 698.7,11.8 702.8,9.2 700.6,13.6 703.2,16.2 699.9,16.5 698.0,19.4 696.7,16.1" fill-opacity="0.48"/><polygon points="706.7,152.8 704.0,153.9 702.4,156.1 700.5,154.2 698.4,153.1 699.4,150.9 699.2,148.1 701.9,149.0 704.4,148.0 704.9,150.5" fill-opacity="0.58"/><polygon points="844.7,193.2 844.8,196.3 848.7,197.5 844.5,198.9 845.6,202.6 842.6,200.5 840.4,202.1 840.5,199.2 835.9,198.4 840.2,196.8 839.6,193.7 842.2,195.0" fill-opacity="0.56"/><polygon points="703.6,138.7 702.5,135.2 697.4,135.2 700.2,131.7 700.6,129.1 703.7,129.6 705.7,127.0 706.8,130.1 710.8,130.4 708.5,133.2 709.1,136.3 705.6,135.2" fill-opacity="0.43"/><polygon points="919.8,147.6 919.8,151.2 922.6,151.7 920.6,153.5 921.2,156.0 918.6,154.5 916.7,157.4 916.7,154.0 913.1,153.9 916.4,152.2 915.3,149.6 917.7,150.8" fill-opacity="0.33"/><polygon points="894.7,44.1 891.6,43.7 888.5,44.4 889.5,41.3 888.7,38.8 891.3,38.8 894.7,37.5 893.5,41.0" fill-opacity="0.51"/><polygon points="940.0,88.7 939.8,87.3 938.5,85.9 940.2,85.2 940.9,83.7 942.2,85.0 944.5,83.7 944.1,85.9 945.7,87.4 943.5,88.1 943.1,90.3 941.4,88.7" fill-opacity="0.37"/><polygon points="858.8,107.2 857.3,105.4 854.9,106.3 856.1,104.2 855.3,102.5 857.1,102.4 858.3,101.7 858.6,103.4 860.7,104.0 858.8,104.8" fill-opacity="0.44"/><polygon points="1027.5,185.2 1023.2,184.8 1021.3,189.1 1019.6,184.5 1015.6,184.7 1018.7,181.5 1014.8,177.7 1019.9,179.0 1021.4,173.9 1023.3,178.2 1026.8,178.4 1024.3,181.5" fill-opacity="0.58"/><polygon points="932.7,51.0 930.5,50.3 928.7,51.3 928.6,48.9 926.5,48.2 928.6,47.0 928.5,45.5 929.8,45.1 931.7,44.1 931.9,46.4 934.5,47.1 932.0,48.5" fill-opacity="0.56"/><polygon points="963.7,63.9 963.8,61.3 962.4,60.3 963.8,59.2 963.0,55.9 965.6,58.1 967.9,55.9 967.2,59.1 970.5,59.9 967.6,61.2 967.5,63.0 965.7,61.7" fill-opacity="0.45"/><polygon points="975.3,233.2 979.8,230.5 981.1,226.6 983.5,229.9 988.2,231.0 984.4,233.8 982.8,236.9 980.4,234.3" fill-opacity="0.37"/><polygon points="768.2,232.7 770.8,229.6 771.6,225.8 774.7,227.9 778.2,229.0 776.1,232.0 775.2,235.6 772.0,234.0" fill-opacity="0.51"/><polygon points="986.1,285.6 983.5,285.4 981.1,285.9 980.8,283.5 979.3,281.5 981.1,279.9 982.8,276.5 985.2,279.3 987.3,280.8 986.6,283.2" fill-opacity="0.50"/><polygon points="736.4,129.4 733.6,128.8 731.9,131.3 731.4,128.5 728.9,127.4 731.4,126.1 731.6,123.5 733.6,124.9 735.8,125.0 735.3,127.1" fill-opacity="0.37"/><polygon points="986.5,14.5 986.2,20.5 990.6,25.0 984.2,24.1 980.4,27.7 980.5,22.5 977.3,18.8 982.3,19.1" fill-opacity="0.38"/><polygon points="775.0,3.1 771.4,3.0 769.1,4.5 768.6,1.9 766.1,-0.9 770.0,-0.6 772.0,-1.9 772.6,0.4" fill-opacity="0.37"/><polygon points="711.6,44.5 713.6,43.8 714.3,41.0 715.6,43.7 718.8,43.2 717.0,45.5 716.8,47.2 715.0,46.4 712.9,48.4 712.8,46.0" fill-opacity="0.45"/><polygon points="765.2,127.3 765.1,130.4 768.6,132.0 765.7,133.8 765.0,136.4 762.5,135.4 759.4,137.2 759.7,133.5 757.2,131.9 760.1,130.5 760.3,128.1 762.5,129.5" fill-opacity="0.32"/><polygon points="934.4,71.1 935.9,72.0 937.4,71.1 937.4,72.8 938.6,73.8 937.4,74.7 937.2,76.3 935.8,76.0 933.7,77.2 934.1,74.6 932.9,73.6 933.8,72.5" fill-opacity="0.39"/><polygon points="801.4,1.9 799.9,-2.3 795.6,-3.6 799.9,-5.1 801.2,-8.8 802.9,-5.3 805.7,-3.7 803.2,-1.9" fill-opacity="0.33"/><polygon points="1007.1,259.2 1007.2,256.2 1006.6,253.5 1009.1,252.3 1010.5,248.4 1012.6,252.7 1017.6,250.5 1016.0,254.6 1018.2,257.8 1014.3,258.5 1013.0,262.9 1010.6,258.2" fill-opacity="0.46"/><polygon points="918.4,206.0 916.7,207.2 916.8,208.8 915.5,207.8 913.5,209.2 914.4,207.1 912.9,205.8 914.8,205.7 915.7,204.3 916.5,205.5" fill-opacity="0.57"/><polygon points="709.2,161.4 707.5,158.0 703.9,158.0 706.0,155.3 704.9,151.6 708.5,153.7 711.7,150.8 710.9,154.9 712.4,156.7 710.6,158.1" fill-opacity="0.36"/><polygon points="890.9,97.2 888.1,98.9 885.9,103.1 883.9,99.0 880.1,96.4 884.6,94.8 886.9,91.1 888.7,94.9" fill-opacity="0.44"/><polygon points="716.6,273.0 714.5,269.8 709.6,265.6 715.4,263.3 719.6,261.4 722.2,265.2 726.1,269.7 719.6,270.4" fill-opacity="0.33"/><polygon points="942.6,71.7 940.6,75.4 943.7,79.0 939.2,78.2 937.2,79.6 936.5,77.0 932.7,76.0 935.7,74.1 936.2,71.1 938.7,73.3" fill-opacity="0.40"/><polygon points="791.9,249.6 789.5,252.5 789.6,257.7 785.9,254.2 782.8,253.2 784.2,250.2 784.5,244.8 788.2,249.0" fill-opacity="0.58"/><polygon points="943.6,254.6 942.5,255.9 943.6,257.6 941.5,257.0 940.6,258.7 939.7,257.4 937.5,257.2 939.0,255.5 938.2,253.6 940.2,253.8 941.4,251.8 942.0,254.3" fill-opacity="0.52"/><polygon points="686.6,219.3 691.0,217.0 691.8,214.0 694.5,215.7 697.8,215.1 696.6,218.4 699.6,222.1 695.2,221.8 692.5,224.2 691.7,220.5" fill-opacity="0.44"/><polygon points="907.5,31.4 909.7,31.2 910.6,28.7 911.5,31.1 913.8,31.4 912.0,32.8 912.2,34.6 910.6,34.1 908.8,34.8 909.1,32.9" fill-opacity="0.54"/><polygon points="744.3,5.0 745.3,2.1 744.4,-0.8 747.3,-1.0 749.9,-0.5 749.7,2.1 750.6,5.6 747.2,5.0" fill-opacity="0.36"/><polygon points="774.6,74.8 771.3,74.7 767.4,75.4 767.9,71.5 768.0,68.1 771.4,69.3 775.5,67.5 774.8,71.6" fill-opacity="0.46"/><polygon points="843.9,135.3 841.0,134.2 839.6,137.0 839.1,134.0 837.5,133.6 838.5,132.2 838.1,130.6 839.9,131.2 841.0,128.5 841.2,131.5 844.4,130.9 842.4,132.8" fill-opacity="0.49"/><polygon points="862.5,131.8 861.1,130.7 859.8,131.0 859.9,129.5 857.2,128.3 860.3,128.1 860.3,126.1 861.7,127.2 863.3,126.7 862.9,128.4 864.8,129.5 862.3,129.7" fill-opacity="0.42"/><polygon points="903.6,19.9 900.8,15.6 898.2,12.6 902.1,10.9 904.2,6.8 906.3,10.6 911.0,13.1 905.9,15.0" fill-opacity="0.54"/><polygon points="935.9,155.4 933.0,152.3 929.1,150.2 932.1,147.1 934.4,142.7 936.9,147.4 941.1,148.8 937.6,151.4" fill-opacity="0.50"/><polygon points="1004.9,42.7 1006.7,40.0 1006.7,37.3 1009.2,38.0 1011.6,38.7 1010.4,41.0 1010.1,43.1 1008.1,42.3" fill-opacity="0.36"/><polygon points="909.0,155.1 906.5,156.5 906.2,158.6 904.5,157.3 901.8,158.2 902.1,155.8 901.1,153.3 903.8,153.1 905.7,151.6 906.8,153.8" fill-opacity="0.39"/><polygon points="959.1,26.0 957.3,24.9 955.6,24.5 956.0,22.8 954.2,20.3 957.1,20.6 958.7,19.9 959.0,21.8 960.8,22.5 959.8,24.0" fill-opacity="0.38"/><polygon points="942.5,270.4 939.9,271.1 939.3,274.0 937.5,271.3 934.8,272.3 935.6,269.8 933.5,267.9 936.0,267.0 937.3,266.1 938.8,266.5 940.4,266.9 940.6,268.5" fill-opacity="0.44"/><polygon points="963.2,33.2 963.3,35.5 964.4,36.7 962.8,37.5 962.2,39.1 960.8,38.2 959.6,37.5 960.2,36.1 959.2,34.0 961.4,34.8" fill-opacity="0.32"/><polygon points="687.8,169.4 685.9,166.0 681.5,163.3 685.5,160.6 689.0,157.3 691.0,161.8 695.0,164.6 691.1,167.2" fill-opacity="0.50"/><polygon points="718.6,256.7 717.7,253.4 714.8,253.6 716.7,251.5 713.6,248.1 718.0,249.7 719.2,247.5 720.1,249.8 723.0,249.6 721.4,251.8 723.6,254.8 719.8,253.4" fill-opacity="0.44"/><polygon points="760.4,139.8 756.2,135.1 750.0,135.2 754.9,131.2 754.5,125.1 758.5,129.7 762.7,130.2 760.4,133.6" fill-opacity="0.58"/><polygon points="718.2,178.6 714.2,178.5 712.3,181.4 711.6,178.3 709.2,176.0 712.5,175.4 714.5,173.7 715.0,176.4" fill-opacity="0.49"/><polygon points="701.7,2.1 704.0,3.2 707.3,1.6 706.0,5.1 707.8,7.3 705.3,8.1 703.3,10.9 702.3,7.3 700.0,6.4 701.3,4.5" fill-opacity="0.57"/><polygon points="820.7,-3.7 822.6,-0.6 828.1,-1.7 824.5,2.1 826.4,6.7 821.9,4.6 817.9,8.1 818.5,2.9 816.3,0.6 819.7,-0.3" fill-opacity="0.47"/><polygon points="903.1,277.0 900.7,274.7 898.3,276.5 898.9,273.5 895.6,272.4 898.2,271.0 897.8,267.0 900.8,269.6 903.3,268.4 903.4,271.1 905.0,272.7 903.4,274.2" fill-opacity="0.39"/><polygon points="884.8,184.1 889.5,186.1 893.9,185.5 891.8,189.7 892.8,193.9 888.9,192.7 885.7,192.3 885.4,189.1" fill-opacity="0.35"/><polygon points="967.0,199.0 970.3,198.9 971.4,196.2 972.6,198.6 975.3,199.1 973.5,201.1 973.8,203.7 971.4,202.4 969.4,203.0 969.3,201.0" fill-opacity="0.45"/><polygon points="834.3,53.5 835.5,50.9 833.5,49.1 836.3,49.6 837.2,47.8 838.1,49.3 839.9,49.9 838.4,51.2 838.3,52.9 836.7,52.2" fill-opacity="0.57"/><polygon points="906.1,231.9 906.7,233.1 908.2,234.0 906.9,235.2 907.3,237.6 905.1,235.8 903.5,237.8 903.3,235.6 902.4,234.7 903.5,233.8 902.8,231.5 904.8,233.0" fill-opacity="0.57"/><polygon points="768.3,241.1 772.2,241.5 775.3,240.0 775.2,243.4 776.7,246.6 773.4,247.0 770.3,247.7 770.1,244.5" fill-opacity="0.41"/><polygon points="989.4,80.6 987.7,75.4 984.3,73.9 986.5,71.0 987.0,67.3 990.4,69.7 994.9,67.2 992.8,72.0 997.0,75.6 991.7,75.3" fill-opacity="0.49"/><polygon points="1021.6,177.9 1019.9,175.6 1016.9,174.8 1019.6,173.2 1020.3,170.9 1021.9,172.7 1025.3,173.3 1022.0,174.9" fill-opacity="0.32"/><polygon points="864.9,123.9 863.3,123.5 861.0,124.7 861.9,122.0 860.9,120.6 862.7,120.5 863.6,117.8 864.4,120.5 867.4,120.6 865.4,122.4" fill-opacity="0.32"/><polygon points="883.8,180.4 880.0,180.8 877.8,183.1 877.5,179.8 873.5,177.4 878.2,177.6 880.4,174.1 881.3,177.7" fill-opacity="0.34"/><polygon points="742.0,180.6 744.1,178.4 746.7,173.9 748.9,178.5 751.8,181.2 748.5,183.2 746.1,186.1 744.1,182.9" fill-opacity="0.57"/><polygon points="710.9,196.8 707.2,197.7 706.8,202.7 703.8,198.9 699.3,200.8 702.0,196.1 697.7,193.5 702.5,193.2 702.5,187.6 705.4,192.2 708.9,190.8 707.9,194.3" fill-opacity="0.59"/><polygon points="753.4,266.7 752.0,265.7 750.1,266.0 750.8,264.0 748.3,262.6 751.2,262.4 751.1,259.0 752.9,261.4 755.9,259.9 754.5,262.9 756.5,264.5 753.8,264.7" fill-opacity="0.46"/><polygon points="817.1,176.7 813.7,175.3 811.7,176.3 812.4,174.1 811.3,172.2 813.4,172.3 816.0,170.9 815.2,173.8" fill-opacity="0.52"/><polygon points="706.3,178.5 702.0,178.9 700.4,183.1 698.4,178.1 695.2,178.7 696.7,175.8 695.1,173.6 697.1,172.2 698.7,168.3 701.0,172.0 705.4,171.2 703.3,175.1" fill-opacity="0.39"/><polygon points="751.6,94.1 749.2,94.4 748.3,96.5 747.4,94.2 745.4,94.0 747.1,92.6 746.2,90.2 748.2,91.4 749.6,91.1 749.6,92.6" fill-opacity="0.33"/><polygon points="842.7,6.2 842.7,9.2 845.6,10.2 844.0,12.2 844.8,16.6 840.8,13.1 838.2,15.9 837.9,12.5 833.9,11.2 838.1,9.4 837.3,5.8 840.4,7.6" fill-opacity="0.55"/><polygon points="747.4,208.9 750.3,207.4 751.5,205.9 752.7,207.4 754.4,208.5 753.3,210.1 751.9,212.7 750.3,210.2" fill-opacity="0.43"/><polygon points="898.5,112.9 900.5,109.0 899.4,105.7 902.6,106.6 906.4,105.4 905.3,109.1 906.0,112.7 902.5,111.3" fill-opacity="0.40"/><polygon points="932.9,53.2 932.9,48.4 930.9,44.5 935.5,44.9 939.7,41.6 939.7,46.6 941.8,50.8 937.1,50.9" fill-opacity="0.59"/><polygon points="933.9,178.6 931.3,180.1 931.8,183.6 929.3,181.1 927.0,181.9 926.7,179.7 925.6,177.2 928.4,177.0 930.2,175.5 931.0,177.9" fill-opacity="0.49"/><polygon points="712.8,55.8 714.3,57.2 716.3,56.8 715.1,58.7 716.7,60.6 714.4,60.1 713.0,62.1 712.5,59.9 710.9,58.9 712.6,57.9" fill-opacity="0.52"/><polygon points="973.1,197.1 975.3,200.7 977.9,199.2 977.2,201.8 978.8,203.4 976.8,204.4 976.3,207.1 974.5,204.3 971.0,206.8 972.7,203.3 969.8,201.5 972.9,200.8" fill-opacity="0.57"/><polygon points="786.0,-2.2 789.3,-3.3 791.0,-8.9 792.9,-3.1 796.3,-2.6 794.1,0.0 795.5,4.5 791.4,2.3 787.6,4.8 788.5,0.3" fill-opacity="0.55"/><polygon points="747.1,207.8 747.9,204.9 744.3,203.2 748.5,202.8 747.9,198.7 750.4,201.6 754.1,198.8 752.2,203.2 755.3,204.8 751.8,205.4 752.6,210.3 749.6,207.1" fill-opacity="0.46"/><polygon points="746.4,29.9 750.5,31.5 753.5,31.0 754.0,34.0 757.7,37.2 753.1,38.2 751.0,41.3 748.5,38.7 744.1,37.8 747.3,34.4" fill-opacity="0.53"/><polygon points="838.3,229.0 841.4,230.7 845.6,229.6 843.7,233.8 846.3,237.2 842.0,236.8 839.8,239.9 838.4,236.5 836.2,234.8 837.5,232.4" fill-opacity="0.35"/><polygon points="777.8,112.1 781.2,111.0 783.7,107.5 784.3,111.9 786.7,113.9 783.8,114.9 781.5,118.5 780.5,114.5" fill-opacity="0.56"/><polygon points="743.7,137.4 741.5,135.3 739.3,137.2 739.7,134.4 736.9,133.4 739.7,132.3 739.3,129.5 741.5,131.8 743.6,129.8 743.1,132.5 745.8,133.4 743.0,134.3" fill-opacity="0.56"/><polygon points="866.5,76.8 869.3,75.2 870.5,73.3 871.7,75.3 874.5,76.0 872.3,77.7 871.1,79.3 869.7,77.7" fill-opacity="0.51"/><polygon points="855.1,88.5 852.3,88.8 850.8,89.8 849.3,88.9 846.4,89.0 847.2,86.4 846.8,84.3 848.8,83.3 850.4,81.5 851.9,83.7 855.4,83.2 852.8,86.1" fill-opacity="0.52"/><polygon points="801.7,144.7 802.7,141.0 799.4,138.8 803.1,138.3 804.3,134.2 806.0,138.2 811.7,137.6 807.7,141.1 808.2,144.6 804.8,142.5" fill-opacity="0.45"/><polygon points="718.4,51.8 719.7,53.2 721.9,55.4 718.9,56.3 717.2,57.1 716.2,55.5 715.2,53.9 716.8,53.0" fill-opacity="0.58"/><polygon points="998.0,178.9 997.2,181.4 1000.6,183.5 997.2,184.2 996.1,186.4 994.1,185.1 990.3,186.5 992.2,182.7 990.7,180.8 992.4,179.4 993.9,177.9 995.9,178.6" fill-opacity="0.34"/><polygon points="735.8,6.5 738.9,4.2 741.1,0.4 743.0,4.5 747.0,6.3 743.0,8.2 741.2,10.5 739.1,8.5" fill-opacity="0.48"/><polygon points="1020.9,192.4 1024.4,193.9 1027.7,193.6 1026.4,196.7 1028.2,201.7 1023.8,199.0 1018.2,201.1 1021.7,196.2" fill-opacity="0.56"/><polygon points="760.4,216.5 761.6,217.0 763.1,216.8 763.0,218.4 764.4,219.6 762.8,220.2 762.6,222.6 760.9,221.1 759.7,220.9 760.0,219.5 758.8,218.6 759.7,217.6" fill-opacity="0.51"/><polygon points="889.1,111.1 891.9,110.5 895.1,108.6 895.5,112.5 897.4,114.5 895.9,116.7 894.0,118.5 891.5,117.9 889.1,116.7 889.2,114.0" fill-opacity="0.44"/><polygon points="955.7,136.4 950.5,136.3 948.4,140.6 947.2,135.6 942.7,135.2 945.6,132.3 945.1,127.7 949.0,130.7 952.3,129.5 951.5,133.0" fill-opacity="0.57"/><polygon points="806.1,198.6 809.1,201.0 812.5,200.7 812.8,203.9 814.7,208.1 809.9,208.1 806.9,209.9 806.0,206.1 800.5,204.8 804.4,201.8" fill-opacity="0.34"/><polygon points="1023.3,241.6 1019.6,241.4 1017.8,243.6 1016.1,241.3 1011.4,242.0 1015.2,238.3 1012.3,235.1 1016.2,235.5 1017.9,232.4 1019.2,236.1 1022.5,235.7 1021.3,238.4" fill-opacity="0.54"/><polygon points="943.9,72.8 944.1,68.6 941.1,67.2 944.0,65.5 942.5,60.5 946.5,63.4 949.7,60.6 949.7,64.8 954.2,66.2 950.8,68.7 950.0,71.5 947.1,71.4" fill-opacity="0.45"/><polygon points="977.8,111.8 978.6,109.2 977.6,107.6 979.4,107.1 981.9,105.7 981.2,108.7 982.6,110.9 980.0,110.3" fill-opacity="0.53"/><polygon points="961.4,290.6 962.0,288.9 961.0,286.8 963.1,287.4 965.3,286.7 964.7,288.9 965.7,291.6 963.1,290.5" fill-opacity="0.49"/><polygon points="1003.7,209.5 1000.8,211.6 1000.4,214.7 998.5,212.1 994.2,212.2 997.2,209.6 998.3,207.2 1000.0,209.5" fill-opacity="0.38"/><polygon points="974.0,11.9 971.5,13.2 969.3,17.4 967.5,12.9 964.5,11.7 966.5,9.2 965.8,4.8 969.6,7.8 972.8,6.1 972.1,9.6" fill-opacity="0.34"/><polygon points="840.7,48.1 843.1,46.0 844.4,44.3 846.2,45.4 847.7,46.7 846.7,48.4 845.6,50.5 843.8,49.0" fill-opacity="0.53"/><polygon points="794.0,68.8 790.8,68.7 790.0,70.7 788.5,69.4 786.4,69.6 787.4,67.4 785.9,65.8 788.2,65.7 788.5,62.0 790.1,65.3 792.3,64.7 791.4,66.8" fill-opacity="0.40"/><polygon points="747.2,142.6 748.9,140.8 748.0,138.6 750.2,139.5 752.3,137.8 751.7,140.5 755.0,142.1 751.9,142.8 750.8,144.4 749.5,142.8" fill-opacity="0.43"/><polygon points="856.6,156.8 853.3,155.5 850.2,154.8 850.5,151.6 849.9,148.7 853.0,148.5 855.8,144.5 857.2,148.6 859.4,150.8 856.7,152.7" fill-opacity="0.33"/><polygon points="887.3,144.3 889.1,144.9 890.3,143.9 891.1,145.1 893.2,145.7 891.7,147.3 892.7,150.0 890.0,148.6 888.5,150.0 888.2,147.9 885.5,147.6 887.1,145.9" fill-opacity="0.33"/><polygon points="822.4,223.3 821.7,226.9 825.1,227.9 822.2,229.3 822.0,231.6 819.9,230.5 817.1,232.7 817.6,229.3 815.2,228.0 817.4,226.6 816.5,222.3 819.8,224.9" fill-opacity="0.40"/><polygon points="922.2,112.0 923.7,111.0 923.7,109.1 925.4,110.5 927.3,108.4 926.8,111.1 928.1,111.9 926.7,112.6 926.9,114.4 925.5,114.1 924.2,114.1 924.2,112.7" fill-opacity="0.51"/><polygon points="740.2,3.1 742.7,1.0 741.4,-1.5 744.0,-0.9 745.7,-3.8 746.6,-0.8 750.4,-0.7 746.9,1.7 748.1,4.1 745.9,4.4 743.8,6.7 743.3,3.2" fill-opacity="0.37"/><polygon points="905.6,140.7 907.4,137.0 904.1,134.1 908.9,134.5 909.1,128.3 911.6,133.5 915.4,132.4 912.9,136.0 916.4,138.6 912.3,138.5 912.0,144.8 909.5,139.4" fill-opacity="0.57"/><polygon points="961.8,258.6 959.9,256.3 957.3,255.2 958.9,252.8 959.4,250.5 961.8,250.8 964.7,249.6 963.9,253.0 965.7,254.9 964.0,256.7" fill-opacity="0.53"/><polygon points="1009.0,183.3 1009.0,188.2 1009.6,193.1 1004.7,192.5 999.4,194.1 1001.5,188.7 1000.5,185.0 1004.2,185.4" fill-opacity="0.30"/><polygon points="754.9,5.0 759.0,6.1 761.5,4.8 761.2,7.6 763.0,10.5 759.6,9.5 757.3,10.9 757.8,8.3" fill-opacity="0.39"/><polygon points="816.1,81.4 818.3,81.9 819.8,81.0 820.4,82.6 822.1,83.9 820.1,84.8 819.7,87.1 818.2,85.2 816.2,85.3 817.3,83.6" fill-opacity="0.37"/><polygon points="854.6,115.0 854.7,112.9 852.6,110.9 855.5,111.3 856.9,110.4 856.9,112.1 858.7,113.9 856.3,113.9" fill-opacity="0.40"/><polygon points="793.9,231.7 797.5,227.1 797.5,222.8 801.5,224.1 805.8,224.8 804.6,229.0 803.2,232.7 799.3,232.1" fill-opacity="0.58"/><polygon points="894.8,208.1 896.8,208.1 897.8,206.3 898.6,208.5 901.2,208.0 899.7,209.9 900.8,211.7 898.5,211.2 897.7,213.2 896.9,211.2 894.4,211.7 896.3,209.8" fill-opacity="0.42"/><polygon points="866.8,116.7 867.3,113.3 864.7,109.5 869.4,109.8 872.0,107.2 873.1,110.8 878.0,112.0 873.7,114.4 874.1,119.8 870.2,116.5" fill-opacity="0.37"/><polygon points="1012.1,-2.9 1013.4,0.8 1017.2,1.3 1014.1,4.2 1016.7,8.2 1012.1,6.4 1010.2,9.8 1009.1,6.3 1005.4,6.0 1007.4,3.2 1005.5,-0.7 1009.9,0.9" fill-opacity="0.33"/><polygon points="802.4,118.3 804.8,116.2 805.0,111.8 808.2,115.1 811.6,114.4 811.1,117.6 811.3,120.2 808.6,120.4 806.0,124.3 804.9,120.2" fill-opacity="0.45"/><polygon points="820.5,45.6 821.3,42.9 821.7,40.1 824.4,41.0 828.4,40.7 826.5,44.2 826.7,48.3 823.4,45.4" fill-opacity="0.30"/><polygon points="812.3,24.4 814.7,24.6 815.3,22.8 816.1,24.9 817.8,24.4 817.1,25.8 818.0,27.0 816.5,27.1 816.0,29.1 815.2,26.9 813.7,27.4 814.0,26.1" fill-opacity="0.45"/><polygon points="837.4,132.5 837.8,128.5 835.5,127.2 837.7,125.7 837.6,123.2 839.9,123.3 842.7,121.7 842.4,125.4 845.6,126.5 842.7,128.2 842.6,130.5 840.4,130.5" fill-opacity="0.47"/><polygon points="1014.6,126.8 1014.2,128.9 1017.0,130.3 1013.5,130.6 1014.0,133.5 1012.1,131.6 1009.9,132.8 1010.5,130.4 1008.9,129.2 1011.1,128.7 1010.7,125.5 1012.6,128.3" fill-opacity="0.39"/><polygon points="758.9,50.9 759.6,48.8 758.0,46.2 761.0,46.8 762.8,44.9 763.9,47.1 765.3,48.6 763.9,50.3 763.0,52.4 761.1,50.7" fill-opacity="0.44"/><polygon points="796.4,126.0 797.8,127.1 800.5,127.4 798.3,129.1 797.9,131.3 796.1,130.2 793.6,129.4 795.8,127.7" fill-opacity="0.41"/><polygon points="751.4,130.8 755.2,131.5 757.5,127.6 757.8,132.2 762.9,133.1 757.9,134.7 758.3,139.0 755.4,136.2 752.1,137.0 753.1,133.9" fill-opacity="0.42"/><polygon points="907.3,164.7 907.9,167.6 912.0,169.5 907.5,169.8 905.7,174.0 904.8,169.9 901.6,167.7 905.7,167.3" fill-opacity="0.52"/><polygon points="708.1,78.3 709.1,81.9 711.0,83.1 709.0,84.6 708.9,86.9 706.9,86.1 703.8,87.2 705.3,84.0 703.4,81.7 706.2,81.6" fill-opacity="0.51"/><polygon points="893.8,45.5 896.8,47.4 900.2,45.9 900.3,49.4 902.1,51.6 900.0,53.5 899.6,57.4 896.3,55.1 892.1,58.0 893.2,52.9 890.9,50.8 893.6,49.2" fill-opacity="0.46"/><polygon points="999.3,204.8 998.2,202.2 993.7,201.8 998.3,199.2 996.2,195.7 999.8,197.5 1002.2,192.2 1002.2,197.9 1008.3,197.4 1003.6,200.4 1004.4,203.4 1001.4,202.7" fill-opacity="0.42"/><polygon points="935.3,249.0 936.2,247.4 935.8,245.1 938.0,245.6 940.1,245.0 940.0,247.2 941.7,248.9 939.2,249.3 938.3,251.6 936.9,249.9" fill-opacity="0.53"/><polygon points="962.2,165.1 964.5,164.6 966.2,162.7 967.0,165.0 968.3,166.8 966.2,167.6 964.5,168.9 963.4,167.1" fill-opacity="0.50"/><polygon points="758.5,65.8 760.7,66.5 763.8,66.5 762.2,69.5 763.9,72.4 760.5,71.6 758.4,73.9 757.0,71.5 754.6,69.5 757.9,68.1" fill-opacity="0.59"/><polygon points="971.5,123.8 969.6,121.4 966.3,122.2 967.8,119.4 965.9,116.0 969.8,117.7 972.1,114.5 972.2,118.2 975.7,119.7 971.8,120.7" fill-opacity="0.32"/><polygon points="871.9,33.0 872.4,30.0 869.6,29.4 871.8,28.1 870.8,24.7 873.6,26.8 876.0,24.5 875.1,28.2 879.1,28.7 875.2,29.8 876.3,32.8 873.9,30.8" fill-opacity="0.41"/><polygon points="781.2,187.7 782.7,183.6 780.3,179.1 785.0,181.2 788.0,180.3 787.8,183.4 789.5,187.5 785.2,186.6" fill-opacity="0.51"/><polygon points="852.0,48.2 850.5,46.1 847.4,47.0 848.6,44.3 845.5,41.5 850.0,42.1 850.7,39.3 852.1,42.0 854.5,41.4 853.7,43.5 857.1,46.2 852.7,45.6" fill-opacity="0.34"/><polygon points="991.4,20.3 988.3,18.0 984.8,21.2 985.9,16.5 982.4,15.1 986.2,13.9 985.0,9.7 988.2,12.2 992.3,7.7 991.3,13.2 996.3,15.0 991.4,16.9" fill-opacity="0.59"/><polygon points="888.4,240.4 892.0,240.2 894.0,236.5 895.1,240.8 900.0,241.1 896.2,243.8 896.6,247.8 893.1,246.1 890.2,246.3 890.2,243.3" fill-opacity="0.51"/><polygon points="722.0,169.5 727.0,169.6 730.2,166.8 731.5,170.6 734.3,174.8 728.9,174.4 724.8,179.4 725.3,173.1" fill-opacity="0.33"/><polygon points="716.9,149.4 717.5,151.3 719.2,153.0 716.9,153.7 714.8,155.9 714.5,152.8 712.2,150.7 715.3,150.6" fill-opacity="0.44"/><polygon points="743.9,144.6 742.7,142.0 739.2,142.2 741.6,140.0 740.9,137.4 743.4,137.8 745.8,136.7 746.2,139.3 748.2,141.5 745.4,142.5" fill-opacity="0.47"/><polygon points="994.7,254.4 997.8,258.5 1000.8,256.1 1000.5,259.4 1004.9,261.4 1000.2,262.5 999.6,264.9 997.4,263.7 994.9,264.6 995.0,261.9 990.8,260.1 995.8,259.4" fill-opacity="0.58"/><polygon points="907.7,75.4 910.2,73.0 909.9,71.1 911.9,71.2 913.4,69.5 914.9,70.8 918.1,71.3 915.7,73.8 917.2,76.9 913.9,76.0 912.2,77.5 910.7,76.1" fill-opacity="0.53"/><polygon points="776.2,125.3 773.2,130.6 775.8,133.6 772.4,134.6 769.5,138.5 768.3,133.4 763.8,132.2 768.0,129.7 766.7,123.8 771.0,127.8" fill-opacity="0.56"/><polygon points="888.0,16.7 889.6,16.6 891.4,14.9 891.7,17.6 894.0,18.1 892.9,19.8 892.8,21.5 890.8,21.1 889.3,22.8 888.9,20.4 887.0,20.0 887.7,18.4" fill-opacity="0.48"/><polygon points="894.4,220.7 895.4,217.5 893.8,215.7 896.2,215.3 897.5,211.5 898.7,215.2 900.8,216.0 898.8,217.6 899.7,220.6 897.2,218.9" fill-opacity="0.33"/><polygon points="951.3,243.7 951.0,238.4 947.8,235.0 952.4,234.5 955.6,231.7 956.1,235.9 959.2,239.0 954.6,238.9" fill-opacity="0.40"/><polygon points="808.7,66.9 806.8,70.2 807.7,73.2 804.9,72.1 801.0,73.4 803.1,69.8 802.7,67.2 805.2,67.9" fill-opacity="0.38"/><polygon points="876.0,91.0 879.0,88.3 877.2,85.8 879.7,85.4 881.5,84.2 882.7,86.4 884.6,86.9 883.6,88.7 884.8,90.9 882.6,91.4 880.9,92.7 879.7,90.8" fill-opacity="0.36"/><polygon points="885.1,256.9 887.2,256.3 890.2,255.1 889.4,258.4 890.0,260.5 887.8,260.4 885.2,261.8 885.1,259.0" fill-opacity="0.49"/><polygon points="994.2,56.1 998.8,57.9 1002.1,53.9 1002.6,58.6 1004.3,60.8 1002.1,62.7 1001.2,67.1 998.1,64.2 994.7,63.6 995.6,60.3" fill-opacity="0.56"/><polygon points="684.9,88.5 686.1,90.8 688.2,90.1 687.2,92.1 690.0,94.0 686.5,93.6 686.3,97.2 684.8,94.2 682.2,95.1 683.4,92.7 681.4,90.8 684.1,90.6" fill-opacity="0.48"/><polygon points="789.9,227.5 789.2,223.8 786.7,222.1 789.6,220.2 788.6,216.7 791.7,217.4 794.0,216.8 794.2,219.8 798.0,220.4 795.5,222.6 796.4,226.5 792.7,224.3" fill-opacity="0.60"/><polygon points="753.8,225.3 755.6,224.7 757.1,223.4 757.6,225.3 759.7,226.9 757.1,227.4 755.4,229.6 755.0,226.8" fill-opacity="0.53"/><polygon points="825.2,258.9 826.7,255.7 828.2,252.9 831.3,253.1 834.4,253.4 835.1,256.4 836.9,259.7 833.5,261.2 830.7,262.6 828.5,260.5" fill-opacity="0.42"/><polygon points="752.8,76.6 753.1,73.2 749.9,70.0 754.3,70.6 757.6,67.4 757.2,71.9 759.1,74.7 755.7,75.0" fill-opacity="0.53"/><polygon points="1012.4,40.6 1010.2,38.9 1007.7,39.2 1009.1,37.2 1008.4,34.1 1010.8,36.4 1013.9,35.4 1011.7,37.8" fill-opacity="0.53"/><polygon points="1026.8,88.8 1024.6,88.5 1022.3,88.6 1022.4,86.3 1022.4,84.0 1024.8,84.5 1027.1,84.3 1026.9,86.6" fill-opacity="0.50"/><polygon points="881.7,60.2 880.9,58.2 879.5,58.6 879.7,57.4 878.8,56.1 880.4,56.0 881.1,54.8 881.9,56.0 883.4,55.7 882.6,57.1 883.7,58.2 882.2,58.4" fill-opacity="0.34"/><polygon points="932.7,151.3 932.2,148.7 930.6,145.1 934.5,145.8 937.2,145.0 936.7,147.9 938.0,150.5 935.2,149.9" fill-opacity="0.31"/><polygon points="858.8,121.2 855.7,121.2 855.6,124.0 854.1,121.7 850.6,124.0 852.6,120.6 850.8,119.1 853.3,118.9 853.4,115.7 855.0,118.4 857.2,117.5 856.5,119.5" fill-opacity="0.56"/><polygon points="971.2,199.5 966.8,199.2 966.7,203.4 964.7,199.9 961.8,201.0 962.8,198.3 961.5,196.4 963.8,195.8 964.1,191.4 966.1,195.5 969.7,193.8 968.2,197.1" fill-opacity="0.37"/><polygon points="896.2,228.2 894.9,224.6 892.6,223.8 893.6,221.6 891.7,218.3 895.4,218.9 897.5,215.4 898.3,220.0 903.1,219.2 900.1,222.3 901.2,225.1 898.0,224.6" fill-opacity="0.47"/><polygon points="1027.8,12.4 1027.8,15.4 1031.1,18.0 1027.0,17.8 1024.4,20.4 1024.2,16.9 1021.4,14.0 1025.4,13.9" fill-opacity="0.31"/><polygon points="716.3,42.3 718.6,42.0 718.3,39.8 719.8,40.8 721.9,39.8 721.0,42.2 722.9,43.2 721.0,43.9 721.0,46.3 719.4,44.1 717.3,45.7 718.2,43.3" fill-opacity="0.46"/><polygon points="763.7,108.7 761.0,110.1 759.6,112.8 758.3,110.0 754.2,108.7 758.5,107.6 759.7,104.7 760.9,107.5" fill-opacity="0.46"/><polygon points="855.8,19.4 852.1,23.4 853.0,26.6 849.8,26.5 845.6,30.6 846.5,24.5 842.0,22.1 847.2,21.1 848.1,17.2 850.8,19.7" fill-opacity="0.34"/><polygon points="874.8,19.7 876.9,15.6 872.8,11.6 878.3,12.5 880.5,10.4 881.6,13.3 885.8,14.4 881.9,16.5 882.8,22.1 879.1,17.8" fill-opacity="0.44"/><polygon points="988.6,134.0 987.0,132.4 983.2,133.3 985.6,130.0 983.9,127.9 986.5,127.5 987.6,124.8 989.0,127.6 992.9,126.2 991.1,129.4 991.6,131.2 989.8,132.0" fill-opacity="0.55"/><polygon points="747.9,132.8 751.0,132.2 752.9,131.1 753.5,133.3 754.8,135.0 752.8,135.8 750.9,137.4 750.6,134.8" fill-opacity="0.59"/><polygon points="743.8,157.2 743.2,159.3 744.8,160.3 742.6,160.6 742.7,162.6 741.3,161.7 739.2,162.8 739.9,160.5 738.7,159.4 740.6,159.0 740.7,157.4 741.9,158.2" fill-opacity="0.41"/><polygon points="834.2,146.0 836.6,143.3 837.6,139.9 839.9,143.0 842.3,143.7 841.7,146.2 840.4,149.6 838.0,146.3" fill-opacity="0.37"/><polygon points="836.3,54.3 834.4,57.9 833.7,61.0 830.5,60.4 826.4,63.3 827.6,58.1 822.2,55.2 828.3,54.8 829.5,49.8 831.7,54.4" fill-opacity="0.58"/><polygon points="874.7,233.9 874.9,238.0 879.4,239.5 875.6,241.4 874.6,244.9 871.9,242.2 868.9,242.2 870.4,239.4 869.3,236.8 872.1,236.9" fill-opacity="0.55"/><polygon points="931.0,132.5 925.4,133.4 922.2,135.9 920.3,132.5 918.0,129.0 921.7,127.1 925.1,125.3 927.6,128.2" fill-opacity="0.40"/><polygon points="968.3,47.2 968.1,43.0 964.4,38.7 969.9,38.7 973.7,37.0 973.6,41.4 976.1,44.9 971.8,45.1" fill-opacity="0.42"/><polygon points="686.7,102.4 688.6,101.8 688.6,98.9 690.4,100.9 693.1,99.3 691.6,102.4 693.8,103.6 691.9,104.5 691.5,106.7 689.7,105.0 688.1,105.3 688.5,103.5" fill-opacity="0.38"/><polygon points="993.1,256.0 990.0,255.1 988.5,258.5 987.6,255.0 983.9,255.3 986.6,252.7 983.7,249.1 988.1,250.7 989.8,246.8 990.4,251.2 996.2,249.9 992.2,253.3" fill-opacity="0.52"/><polygon points="839.3,223.8 836.5,224.2 834.9,226.9 834.5,223.8 832.0,222.3 834.9,221.7 836.5,219.7 837.3,222.1" fill-opacity="0.35"/><polygon points="734.0,287.5 733.5,283.9 730.4,282.1 733.5,280.4 734.3,276.8 737.1,278.7 740.7,278.9 739.1,282.3 741.1,286.2 736.7,284.9" fill-opacity="0.38"/><polygon points="860.3,67.2 863.0,67.9 863.4,65.0 864.2,67.8 866.2,67.1 864.8,68.8 866.6,70.2 864.5,70.0 863.9,71.9 863.0,70.4 861.4,70.4 862.2,69.0" fill-opacity="0.37"/><polygon points="699.1,65.0 699.8,68.7 703.3,68.7 701.4,71.2 703.9,75.2 699.1,72.9 697.3,76.9 696.1,73.4 690.9,73.6 696.1,70.4 692.0,65.8 697.4,68.5" fill-opacity="0.45"/><polygon points="925.9,8.6 926.5,14.1 931.1,14.0 926.7,16.7 929.8,20.8 925.5,19.3 923.1,23.7 923.1,17.9 917.7,18.7 922.1,15.9 920.4,12.8 923.4,13.2" fill-opacity="0.50"/><polygon points="966.1,245.4 965.8,241.7 962.2,241.1 965.8,239.2 963.9,235.5 967.2,236.9 969.1,235.9 970.2,237.7 971.9,239.0 970.0,240.5 971.0,243.3 968.4,242.1" fill-opacity="0.45"/><polygon points="992.1,199.3 994.6,201.4 996.9,200.8 996.2,203.5 999.2,204.8 996.8,206.1 996.1,208.2 994.1,207.0 991.2,208.7 991.7,205.5 990.9,204.0 992.3,202.9" fill-opacity="0.30"/><polygon points="711.1,241.8 713.7,241.0 715.1,237.6 716.4,241.3 719.9,241.3 718.4,243.9 718.0,246.6 715.3,246.1 712.3,247.2 712.7,243.9" fill-opacity="0.37"/><polygon points="758.1,185.0 754.8,187.6 756.5,193.2 752.1,190.0 747.3,192.8 749.3,187.4 746.1,184.3 750.1,183.4 752.5,180.1 754.7,183.6" fill-opacity="0.36"/><polygon points="963.9,46.3 966.2,44.8 966.4,42.6 967.7,44.4 970.2,44.4 968.6,46.1 968.1,48.2 966.6,46.4" fill-opacity="0.58"/><polygon points="985.5,203.1 986.5,199.2 984.6,196.6 987.9,196.2 989.8,192.6 991.4,196.1 994.7,197.3 991.6,199.5 992.9,204.3 989.2,200.6" fill-opacity="0.55"/><polygon points="911.1,161.8 914.2,161.5 916.6,159.6 917.4,163.4 922.5,162.8 918.8,165.9 919.7,168.6 917.3,169.4 914.8,171.4 913.0,168.8 911.1,167.3 912.1,164.9" fill-opacity="0.59"/><polygon points="682.5,165.5 683.4,163.1 682.0,161.6 684.3,161.4 684.9,160.0 686.1,160.7 688.4,160.0 687.7,162.1 688.5,163.6 686.6,163.8 686.3,165.9 684.8,164.9" fill-opacity="0.35"/><polygon points="935.4,44.9 936.1,46.8 937.7,47.5 936.5,48.7 936.3,50.7 934.7,49.4 932.1,50.6 933.5,48.1 931.8,46.3 934.3,46.7" fill-opacity="0.40"/><polygon points="957.9,133.5 957.7,137.7 960.2,139.8 956.6,141.2 957.8,146.3 954.1,143.1 950.6,145.5 950.8,141.5 946.6,139.5 951.5,138.0 951.2,134.2 954.2,135.4" fill-opacity="0.46"/><polygon points="772.3,185.3 775.6,185.1 776.9,182.2 778.3,185.6 781.3,184.8 780.0,187.3 783.7,190.4 779.0,189.8 778.0,193.4 776.3,190.2 773.5,190.5 775.2,187.8" fill-opacity="0.49"/><polygon points="1018.1,183.8 1017.6,187.3 1020.7,188.9 1018.0,190.5 1018.2,194.7 1015.0,191.1 1011.4,194.5 1012.6,190.0 1007.7,188.4 1012.8,187.3 1012.6,184.1 1015.2,185.5" fill-opacity="0.58"/><polygon points="760.6,120.8 760.8,125.5 765.1,125.7 762.5,128.4 763.2,131.6 760.0,131.3 757.2,134.4 756.4,130.2 752.3,129.4 755.5,126.6 753.9,122.6 758.2,124.9" fill-opacity="0.51"/><polygon points="922.4,184.9 921.9,183.3 920.4,183.1 921.0,181.9 919.6,179.6 922.1,180.3 923.3,179.1 924.0,180.7 925.2,181.2 924.8,182.4 925.2,184.0 923.3,183.3" fill-opacity="0.49"/><polygon points="730.5,81.0 726.1,81.3 724.1,83.6 722.8,80.9 720.8,78.5 723.9,77.7 726.3,74.8 726.9,78.5" fill-opacity="0.54"/><polygon points="688.6,150.8 687.2,150.9 686.3,153.4 685.6,150.8 683.3,151.1 684.4,149.3 684.3,148.1 685.7,148.0 686.6,146.1 687.4,147.9 689.0,148.1 688.3,149.5" fill-opacity="0.47"/><polygon points="896.4,55.9 893.0,55.1 890.9,57.5 891.1,54.5 889.3,52.2 892.2,52.4 894.0,51.4 894.3,53.5" fill-opacity="0.55"/><polygon points="784.9,236.9 781.1,237.2 777.5,241.5 777.0,236.3 774.3,232.6 779.1,232.4 782.3,229.9 782.6,234.0" fill-opacity="0.49"/><polygon points="1024.7,85.5 1024.8,88.3 1026.3,89.9 1024.1,90.2 1022.1,92.9 1022.0,89.7 1019.2,87.4 1022.6,87.0" fill-opacity="0.54"/><polygon points="840.7,247.9 841.3,246.2 839.3,244.4 842.2,244.7 842.7,242.9 843.9,243.9 845.8,243.6 845.2,245.5 846.8,247.2 844.1,247.0 843.9,249.9 842.6,247.5" fill-opacity="0.34"/></g></g></g>
<g font-size="20.5"><text x="11.1" y="27.9" fill="#000">(a)</text><text x="347.2" y="30.8" fill="#fff">(b)</text><text x="690.7" y="26.7" fill="#fff">(c)</text></g>
<rect x="4.5" y="292.4" width="334.5" height="18.3" fill="#000"/>
<path d="M38.3,293.2V309.9M74.7,293.2V309.9M94.4,293.2V309.9M120.4,293.2V309.9M154.4,293.2V309.9M154.4,301.7H338.2" stroke="#8a8a8a" stroke-width="0.9" fill="none"/>
<rect x="28.7" y="294.6" width="5.7" height="4.6" fill="none" stroke="#d0d0d0" stroke-width="0.9"/>
<path d="M164.3,296.7H233.75 M259.25,296.7H329 M164.8,295.2V298.2 M328.5,295.2V298.2" stroke="#d8d8d8" stroke-width="1.2"/>
<g font-size="8.3" fill="#e0e0e0"><text x="15.4" y="299.6" font-size="7.8" text-anchor="middle">mag</text><text x="21.4" y="309.2" text-anchor="middle">2 500 x</text><text x="56.5" y="299.6" font-size="7.8" text-anchor="middle">HV</text><text x="56.5" y="309.2" text-anchor="middle">25.00 kV</text><text x="84.55" y="299.6" font-size="7.8" text-anchor="middle">det</text><text x="84.55" y="309.2" text-anchor="middle">ETD</text><text x="107.4" y="299.6" font-size="7.8" text-anchor="middle">mode</text><text x="107.4" y="309.2" text-anchor="middle">SE</text><text x="137.4" y="299.6" font-size="7.8" text-anchor="middle">WD</text><text x="137.4" y="309.2" text-anchor="middle">5.0 mm</text><text x="246.5" y="299.8" font-size="8.3" text-anchor="middle">50 µm</text></g>
<rect x="344.6" y="292.4" width="334.4" height="18.3" fill="#000"/>
<path d="M379.8,293.2V309.9M416.7,293.2V309.9M437.9,293.2V309.9M462.8,293.2V309.9M496.4,293.2V309.9M496.4,301.7H678.2" stroke="#8a8a8a" stroke-width="0.9" fill="none"/>
<rect x="370" y="294.6" width="6.4" height="4.6" fill="none" stroke="#d0d0d0" stroke-width="0.9"/>
<path d="M509.3,296.7H577.4 M598.6,296.7H667 M509.8,295.2V298.2 M666.5,295.2V298.2" stroke="#d8d8d8" stroke-width="1.2"/>
<g font-size="8.3" fill="#e0e0e0"><text x="356.6" y="299.6" font-size="7.8" text-anchor="middle">mag</text><text x="362.2" y="309.2" text-anchor="middle">40 000 x</text><text x="398.25" y="299.6" font-size="7.8" text-anchor="middle">HV</text><text x="398.25" y="309.2" text-anchor="middle">25.00 kV</text><text x="427.3" y="299.6" font-size="7.8" text-anchor="middle">det</text><text x="427.3" y="309.2" text-anchor="middle">ETD</text><text x="450.35" y="299.6" font-size="7.8" text-anchor="middle">mode</text><text x="450.35" y="309.2" text-anchor="middle">SE</text><text x="479.6" y="299.6" font-size="7.8" text-anchor="middle">WD</text><text x="479.6" y="309.2" text-anchor="middle">5.0 mm</text><text x="588" y="299.8" font-size="8.3" text-anchor="middle">3 µm</text></g>
<rect x="684.6" y="292.4" width="334.2" height="18.3" fill="#000"/>
<path d="M725.7,293.2V309.9M762.5,293.2V309.9M782.9,293.2V309.9M808.7,293.2V309.9M842.2,293.2V309.9M842.2,301.7H1018" stroke="#8a8a8a" stroke-width="0.9" fill="none"/>
<rect x="714.5" y="294.6" width="5.7" height="4.6" fill="none" stroke="#d0d0d0" stroke-width="0.9"/>
<path d="M864.3,296.7H916.3 M946.1,296.7H997.2 M864.8,295.2V298.2 M996.7,295.2V298.2" stroke="#d8d8d8" stroke-width="1.2"/>
<g font-size="8.3" fill="#e0e0e0"><text x="699.5" y="299.6" font-size="7.8" text-anchor="middle">mag</text><text x="705.15" y="309.2" text-anchor="middle">200 000 x</text><text x="744.1" y="299.6" font-size="7.8" text-anchor="middle">HV</text><text x="744.1" y="309.2" text-anchor="middle">25.00 kV</text><text x="772.7" y="299.6" font-size="7.8" text-anchor="middle">det</text><text x="772.7" y="309.2" text-anchor="middle">ETD</text><text x="795.8" y="299.6" font-size="7.8" text-anchor="middle">mode</text><text x="795.8" y="309.2" text-anchor="middle">SE</text><text x="825.45" y="299.6" font-size="7.8" text-anchor="middle">WD</text><text x="825.45" y="309.2" text-anchor="middle">5.0 mm</text><text x="931.2" y="299.8" font-size="8.3" text-anchor="middle">500 nm</text><text x="879.5" y="309.2">CEMUP</text><text x="921.2" y="309.2">1,5PDT-AuNS45</text></g>
<path d="M132.06,504.4V501.2M132.06,327.8V331M188.71,504.4V501.2M188.71,327.8V331M245.35,504.4V501.2M245.35,327.8V331M301.99,504.4V501.2M301.99,327.8V331M358.64,504.4V501.2M358.64,327.8V331M126.4,504.4H129.6M364.3,504.4H361.1M126.4,482.32H129.6M364.3,482.32H361.1M126.4,460.25H129.6M364.3,460.25H361.1M126.4,438.17H129.6M364.3,438.17H361.1M126.4,416.1H129.6M364.3,416.1H361.1M126.4,394.02H129.6M364.3,394.02H361.1M126.4,371.95H129.6M364.3,371.95H361.1M126.4,349.88H129.6M364.3,349.88H361.1M126.4,327.8H129.6M364.3,327.8H361.1" stroke="#222" stroke-width="1.3" fill="none"/>
<path d="M160.39,504.4V502.6M160.39,327.8V329.6M217.03,504.4V502.6M217.03,327.8V329.6M273.67,504.4V502.6M273.67,327.8V329.6M330.31,504.4V502.6M330.31,327.8V329.6M126.4,493.36H128.2M364.3,493.36H362.5M126.4,471.29H128.2M364.3,471.29H362.5M126.4,449.21H128.2M364.3,449.21H362.5M126.4,427.14H128.2M364.3,427.14H362.5M126.4,405.06H128.2M364.3,405.06H362.5M126.4,382.99H128.2M364.3,382.99H362.5M126.4,360.91H128.2M364.3,360.91H362.5M126.4,338.84H128.2M364.3,338.84H362.5" stroke="#222" stroke-width="1.1" fill="none"/>
<rect x="126.4" y="327.8" width="237.9" height="176.6" fill="none" stroke="#222" stroke-width="1.2"/>
<g font-size="14" fill="#1a1a1a"><text x="132.06" y="519.4" text-anchor="middle">-0.2</text><text x="188.71" y="519.4" text-anchor="middle">0.0</text><text x="245.35" y="519.4" text-anchor="middle">0.2</text><text x="301.99" y="519.4" text-anchor="middle">0.4</text><text x="358.64" y="519.4" text-anchor="middle">0.6</text><text x="122.8" y="508.7" text-anchor="end">-20</text><text x="122.8" y="486.62" text-anchor="end">-15</text><text x="122.8" y="464.55" text-anchor="end">-10</text><text x="122.8" y="442.47" text-anchor="end">-5</text><text x="122.8" y="420.4" text-anchor="end">0</text><text x="122.8" y="398.32" text-anchor="end">5</text><text x="122.8" y="376.25" text-anchor="end">10</text><text x="122.8" y="354.18" text-anchor="end">15</text><text x="122.8" y="332.1" text-anchor="end">20</text></g>
<path d="M131.8,445.2 L132.9,444.7 L134.0,444.3 L135.2,443.8 L136.3,443.3 L137.4,442.8 L138.6,442.3 L139.7,441.8 L140.8,441.4 L142.0,440.9 L143.1,440.4 L144.2,439.9 L145.4,439.5 L146.5,439.0 L147.6,438.6 L148.8,438.1 L149.9,437.7 L151.0,437.3 L152.2,436.8 L153.3,436.4 L154.4,436.0 L155.6,435.6 L156.7,435.2 L157.8,434.9 L159.0,434.5 L160.1,434.2 L161.2,433.8 L162.4,433.5 L163.5,433.2 L164.6,432.9 L165.8,432.6 L166.9,432.3 L168.0,432.1 L169.2,431.8 L170.3,431.6 L171.4,431.3 L172.6,431.1 L173.7,430.9 L174.8,430.6 L176.0,430.4 L177.1,430.2 L178.2,430.0 L179.4,429.8 L180.5,429.6 L181.6,429.4 L182.8,429.3 L183.9,429.1 L185.0,428.9 L186.2,428.7 L187.3,428.6 L188.4,428.4 L189.6,428.2 L190.7,428.0 L191.8,427.9 L193.0,427.7 L194.1,427.5 L195.2,427.4 L196.4,427.2 L197.5,427.0 L198.6,426.8 L199.8,426.6 L200.9,426.4 L202.0,426.2 L203.2,426.0 L204.3,425.8 L205.4,425.6 L206.5,425.4 L207.7,425.2 L208.8,424.9 L209.9,424.7 L211.1,424.4 L212.2,424.2 L213.3,423.9 L214.5,423.6 L215.6,423.3 L216.7,423.0 L217.9,422.7 L219.0,422.4 L220.1,422.0 L221.3,421.6 L222.4,421.1 L223.5,420.4 L224.7,419.6 L225.8,418.7 L226.9,417.6 L228.1,416.3 L229.2,414.9 L230.3,413.4 L231.5,411.9 L232.6,410.2 L233.7,408.5 L234.9,406.8 L236.0,405.0 L237.1,403.3 L238.3,401.6 L239.4,399.9 L240.5,398.3 L241.7,396.6 L242.8,395.0 L243.9,393.5 L245.1,391.9 L246.2,390.5 L247.3,389.1 L248.5,387.7 L249.6,386.4 L250.7,385.1 L251.9,383.9 L253.0,382.8 L254.1,381.8 L255.3,380.8 L256.4,379.9 L257.5,379.0 L258.7,378.3 L259.8,377.6 L260.9,377.0 L262.1,376.5 L263.2,376.1 L264.3,375.7 L265.5,375.3 L266.6,375.0 L267.7,374.8 L268.9,374.5 L270.0,374.2 L271.1,374.0 L272.3,373.7 L273.4,373.5 L274.5,373.2 L275.7,372.9 L276.8,372.6 L277.9,372.3 L279.1,372.0 L280.2,371.7 L281.3,371.3 L282.5,371.0 L283.6,370.7 L284.7,370.4 L285.8,370.1 L287.0,369.8 L288.1,369.5 L289.2,369.2 L290.4,368.9 L291.5,368.7 L292.6,368.5 L293.8,368.2 L294.9,368.1 L296.0,367.9 L297.2,367.8 L298.3,367.6 L299.4,367.6 L300.6,367.5 L301.7,367.5 L302.8,367.5 L304.0,367.6 L305.1,367.7 L306.2,367.8 L307.4,367.9 L308.5,368.1 L309.6,368.2 L310.8,368.4 L311.9,368.6 L313.0,368.8 L314.2,369.0 L315.3,369.2 L316.4,369.3 L317.6,369.5 L318.7,369.7 L319.8,369.9 L321.0,370.1 L322.1,370.3 L323.2,370.4 L324.4,370.6 L325.5,370.8 L326.6,370.9 L327.8,371.1 L328.9,371.3 L330.0,371.4 L331.2,371.6 L332.3,371.7 L333.4,371.9 L334.6,372.0 L335.7,372.2 L336.8,372.3 L338.0,372.5 L339.1,372.6 L340.2,372.8 L341.4,372.9 L342.5,373.0 L343.6,373.2 L344.8,373.3 L345.9,373.5 L347.0,373.6 L348.2,373.8 L349.3,373.9 L350.4,374.0 L351.6,374.2 L352.7,374.3 L353.8,374.5 L355.0,374.6 L356.1,374.7 L357.2,374.9 L358.4,375.0 L358.6,375.0 L358.6,375.0 L358.4,375.9 L357.2,379.0 L356.1,381.9 L355.0,384.3 L353.8,386.3 L352.7,388.0 L351.6,389.4 L350.4,390.5 L349.3,391.4 L348.2,392.1 L347.0,392.7 L345.9,393.1 L344.8,393.4 L343.6,393.7 L342.5,393.9 L341.4,394.1 L340.2,394.4 L339.1,394.7 L338.0,394.9 L336.8,395.2 L335.7,395.5 L334.6,395.8 L333.4,396.1 L332.3,396.4 L331.2,396.7 L330.0,397.1 L328.9,397.4 L327.8,397.7 L326.6,398.0 L325.5,398.3 L324.4,398.6 L323.2,398.9 L322.1,399.2 L321.0,399.5 L319.8,399.8 L318.7,400.0 L317.6,400.3 L316.4,400.6 L315.3,400.8 L314.2,401.1 L313.0,401.3 L311.9,401.6 L310.8,401.9 L309.6,402.1 L308.5,402.3 L307.4,402.6 L306.2,402.8 L305.1,403.1 L304.0,403.3 L302.8,403.6 L301.7,403.8 L300.6,404.1 L299.4,404.3 L298.3,404.6 L297.2,404.8 L296.0,405.1 L294.9,405.4 L293.8,405.6 L292.6,405.9 L291.5,406.2 L290.4,406.4 L289.2,406.7 L288.1,407.0 L287.0,407.4 L285.8,407.7 L284.7,408.1 L283.6,408.5 L282.5,408.9 L281.3,409.3 L280.2,409.8 L279.1,410.3 L277.9,410.9 L276.8,411.5 L275.7,412.1 L274.5,412.8 L273.4,413.5 L272.3,414.3 L271.1,415.1 L270.0,416.0 L268.9,416.9 L267.7,418.0 L266.6,419.0 L265.5,420.2 L264.3,421.5 L263.2,422.8 L262.1,424.2 L260.9,425.7 L259.8,427.2 L258.7,428.7 L257.5,430.3 L256.4,432.0 L255.3,433.6 L254.1,435.3 L253.0,436.9 L251.9,438.5 L250.7,440.1 L249.6,441.6 L248.5,443.1 L247.3,444.5 L246.2,445.9 L245.1,447.1 L243.9,448.3 L242.8,449.4 L241.7,450.4 L240.5,451.4 L239.4,452.2 L238.3,453.0 L237.1,453.7 L236.0,454.4 L234.9,454.9 L233.7,455.4 L232.6,455.9 L231.5,456.3 L230.3,456.6 L229.2,457.0 L228.1,457.3 L226.9,457.5 L225.8,457.8 L224.7,458.0 L223.5,458.3 L222.4,458.6 L221.3,458.8 L220.1,459.1 L219.0,459.4 L217.9,459.7 L216.7,460.0 L215.6,460.2 L214.5,460.5 L213.3,460.8 L212.2,461.0 L211.1,461.3 L209.9,461.5 L208.8,461.7 L207.7,461.9 L206.5,462.1 L205.4,462.3 L204.3,462.4 L203.2,462.5 L202.0,462.6 L200.9,462.7 L199.8,462.7 L198.6,462.7 L197.5,462.7 L196.4,462.7 L195.2,462.6 L194.1,462.5 L193.0,462.3 L191.8,462.2 L190.7,462.0 L189.6,461.8 L188.4,461.6 L187.3,461.3 L186.2,461.0 L185.0,460.7 L183.9,460.4 L182.8,460.1 L181.6,459.7 L180.5,459.3 L179.4,459.0 L178.2,458.6 L177.1,458.2 L176.0,457.7 L174.8,457.3 L173.7,456.9 L172.6,456.5 L171.4,456.1 L170.3,455.7 L169.2,455.3 L168.0,454.9 L166.9,454.5 L165.8,454.2 L164.6,453.8 L163.5,453.5 L162.4,453.2 L161.2,453.0 L160.1,452.8 L159.0,452.6 L157.8,452.4 L156.7,452.3 L155.6,452.1 L154.4,452.0 L153.3,451.9 L152.2,451.8 L151.0,451.7 L149.9,451.6 L148.8,451.5 L147.6,451.3 L146.5,451.2 L145.4,451.0 L144.2,450.7 L143.1,450.5 L142.0,450.1 L140.8,449.8 L139.7,449.3 L138.6,448.8 L137.4,448.3 L136.3,447.7 L135.2,447.1 L134.0,446.5 L132.9,445.9 L131.8,445.2Z" stroke="#800000" stroke-width="1.6" fill="none" stroke-linejoin="round" stroke-linecap="round" />
<path d="M131.8,444.8 L132.9,444.2 L134.0,443.6 L135.2,443.0 L136.3,442.4 L137.4,441.7 L138.6,441.1 L139.7,440.5 L140.8,439.9 L142.0,439.3 L143.1,438.8 L144.2,438.2 L145.4,437.6 L146.5,437.0 L147.6,436.5 L148.8,435.9 L149.9,435.4 L151.0,434.8 L152.2,434.3 L153.3,433.8 L154.4,433.3 L155.6,432.8 L156.7,432.3 L157.8,431.8 L159.0,431.4 L160.1,430.9 L161.2,430.5 L162.4,430.1 L163.5,429.7 L164.6,429.3 L165.8,428.9 L166.9,428.6 L168.0,428.3 L169.2,427.9 L170.3,427.7 L171.4,427.4 L172.6,427.1 L173.7,426.9 L174.8,426.7 L176.0,426.5 L177.1,426.3 L178.2,426.1 L179.4,425.9 L180.5,425.8 L181.6,425.6 L182.8,425.5 L183.9,425.3 L185.0,425.2 L186.2,425.1 L187.3,425.0 L188.4,424.9 L189.6,424.8 L190.7,424.7 L191.8,424.6 L193.0,424.5 L194.1,424.4 L195.2,424.3 L196.4,424.2 L197.5,424.1 L198.6,424.0 L199.8,423.9 L200.9,423.8 L202.0,423.7 L203.2,423.5 L204.3,423.4 L205.4,423.2 L206.5,423.0 L207.7,422.8 L208.8,422.6 L209.9,422.4 L211.1,422.1 L212.2,421.9 L213.3,421.6 L214.5,421.2 L215.6,420.9 L216.7,420.5 L217.9,420.1 L219.0,419.6 L220.1,419.1 L221.3,418.6 L222.4,418.1 L223.5,417.5 L224.7,416.9 L225.8,416.2 L226.9,415.5 L228.1,414.7 L229.2,413.9 L230.3,413.1 L231.5,412.2 L232.6,411.2 L233.7,410.2 L234.9,409.1 L236.0,408.0 L237.1,406.8 L238.3,405.5 L239.4,404.1 L240.5,402.6 L241.7,401.0 L242.8,399.3 L243.9,397.4 L245.1,395.4 L246.2,393.3 L247.3,391.1 L248.5,388.8 L249.6,386.5 L250.7,384.2 L251.9,381.9 L253.0,379.6 L254.1,377.5 L255.3,375.4 L256.4,373.5 L257.5,371.7 L258.7,370.0 L259.8,368.4 L260.9,366.9 L262.1,365.4 L263.2,363.9 L264.3,362.5 L265.5,361.2 L266.6,360.0 L267.7,358.9 L268.9,357.8 L270.0,356.9 L271.1,356.1 L272.3,355.4 L273.4,354.7 L274.5,354.2 L275.7,353.7 L276.8,353.3 L277.9,352.9 L279.1,352.6 L280.2,352.4 L281.3,352.2 L282.5,352.1 L283.6,352.0 L284.7,352.1 L285.8,352.2 L287.0,352.4 L288.1,352.8 L289.2,353.3 L290.4,353.9 L291.5,354.6 L292.6,355.3 L293.8,356.0 L294.9,356.8 L296.0,357.5 L297.2,358.3 L298.3,359.0 L299.4,359.7 L300.6,360.4 L301.7,361.1 L302.8,361.8 L304.0,362.4 L305.1,363.0 L306.2,363.6 L307.4,364.1 L308.5,364.5 L309.6,364.9 L310.8,365.3 L311.9,365.7 L313.0,366.0 L314.2,366.3 L315.3,366.5 L316.4,366.8 L317.6,367.0 L318.7,367.2 L319.8,367.4 L321.0,367.7 L322.1,367.9 L323.2,368.1 L324.4,368.3 L325.5,368.5 L326.6,368.8 L327.8,369.0 L328.9,369.3 L330.0,369.5 L331.2,369.8 L332.3,370.1 L333.4,370.3 L334.6,370.6 L335.7,370.9 L336.8,371.1 L338.0,371.4 L339.1,371.6 L340.2,371.8 L341.4,372.1 L342.5,372.3 L343.6,372.4 L344.8,372.6 L345.9,372.8 L347.0,372.9 L348.2,373.1 L349.3,373.2 L350.4,373.4 L351.6,373.5 L352.7,373.6 L353.8,373.7 L355.0,373.8 L356.1,373.9 L357.2,374.0 L358.4,374.1 L358.6,374.2 L358.6,375.0 L358.4,376.0 L357.2,379.6 L356.1,382.9 L355.0,385.6 L353.8,387.8 L352.7,389.7 L351.6,391.2 L350.4,392.5 L349.3,393.5 L348.2,394.4 L347.0,395.1 L345.9,395.7 L344.8,396.1 L343.6,396.5 L342.5,396.9 L341.4,397.3 L340.2,397.7 L339.1,398.1 L338.0,398.6 L336.8,399.0 L335.7,399.4 L334.6,399.9 L333.4,400.4 L332.3,400.9 L331.2,401.3 L330.0,401.8 L328.9,402.3 L327.8,402.8 L326.6,403.3 L325.5,403.7 L324.4,404.2 L323.2,404.7 L322.1,405.1 L321.0,405.6 L319.8,406.0 L318.7,406.4 L317.6,406.8 L316.4,407.2 L315.3,407.5 L314.2,407.9 L313.0,408.2 L311.9,408.5 L310.8,408.8 L309.6,409.1 L308.5,409.3 L307.4,409.6 L306.2,409.8 L305.1,410.1 L304.0,410.3 L302.8,410.5 L301.7,410.7 L300.6,410.9 L299.4,411.1 L298.3,411.3 L297.2,411.5 L296.0,411.7 L294.9,411.9 L293.8,412.1 L292.6,412.3 L291.5,412.6 L290.4,412.8 L289.2,413.0 L288.1,413.3 L287.0,413.5 L285.8,413.8 L284.7,414.1 L283.6,414.4 L282.5,414.7 L281.3,415.1 L280.2,415.5 L279.1,415.9 L277.9,416.3 L276.8,416.8 L275.7,417.3 L274.5,417.9 L273.4,418.5 L272.3,419.1 L271.1,419.8 L270.0,420.7 L268.9,421.7 L267.7,423.0 L266.6,424.5 L265.5,426.2 L264.3,428.4 L263.2,430.8 L262.1,433.4 L260.9,436.1 L259.8,438.9 L258.7,441.7 L257.5,444.5 L256.4,447.1 L255.3,449.6 L254.1,452.1 L253.0,454.4 L251.9,456.6 L250.7,458.7 L249.6,460.7 L248.5,462.6 L247.3,464.3 L246.2,466.0 L245.1,467.5 L243.9,468.9 L242.8,470.2 L241.7,471.4 L240.5,472.5 L239.4,473.6 L238.3,474.5 L237.1,475.4 L236.0,476.2 L234.9,476.9 L233.7,477.6 L232.6,478.2 L231.5,478.7 L230.3,479.1 L229.2,479.5 L228.1,479.8 L226.9,480.0 L225.8,480.1 L224.7,480.1 L223.5,480.0 L222.4,479.8 L221.3,479.5 L220.1,479.2 L219.0,478.7 L217.9,478.2 L216.7,477.7 L215.6,477.0 L214.5,476.3 L213.3,475.6 L212.2,474.8 L211.1,474.0 L209.9,473.1 L208.8,472.2 L207.7,471.3 L206.5,470.5 L205.4,469.6 L204.3,468.7 L203.2,467.9 L202.0,467.0 L200.9,466.3 L199.8,465.5 L198.6,464.8 L197.5,464.2 L196.4,463.6 L195.2,463.0 L194.1,462.5 L193.0,462.0 L191.8,461.5 L190.7,461.0 L189.6,460.6 L188.4,460.2 L187.3,459.8 L186.2,459.4 L185.0,459.0 L183.9,458.7 L182.8,458.3 L181.6,458.0 L180.5,457.6 L179.4,457.2 L178.2,456.9 L177.1,456.5 L176.0,456.2 L174.8,455.8 L173.7,455.5 L172.6,455.1 L171.4,454.8 L170.3,454.5 L169.2,454.2 L168.0,453.9 L166.9,453.6 L165.8,453.4 L164.6,453.1 L163.5,452.9 L162.4,452.7 L161.2,452.5 L160.1,452.3 L159.0,452.2 L157.8,452.0 L156.7,451.9 L155.6,451.8 L154.4,451.7 L153.3,451.6 L152.2,451.5 L151.0,451.4 L149.9,451.3 L148.8,451.2 L147.6,451.0 L146.5,450.8 L145.4,450.6 L144.2,450.3 L143.1,450.0 L142.0,449.7 L140.8,449.3 L139.7,448.9 L138.6,448.4 L137.4,447.9 L136.3,447.3 L135.2,446.7 L134.0,446.1 L132.9,445.4 L131.8,444.8Z" stroke="#ff00ff" stroke-width="1.6" fill="none" stroke-linejoin="round" stroke-linecap="round" />
<path d="M131.8,444.5 L132.9,443.8 L134.0,443.0 L135.2,442.2 L136.3,441.4 L137.4,440.7 L138.6,439.9 L139.7,439.2 L140.8,438.4 L142.0,437.7 L143.1,437.0 L144.2,436.3 L145.4,435.6 L146.5,434.9 L147.6,434.2 L148.8,433.5 L149.9,432.9 L151.0,432.2 L152.2,431.6 L153.3,431.0 L154.4,430.4 L155.6,429.8 L156.7,429.3 L157.8,428.8 L159.0,428.3 L160.1,427.8 L161.2,427.4 L162.4,426.9 L163.5,426.5 L164.6,426.2 L165.8,425.8 L166.9,425.5 L168.0,425.2 L169.2,424.9 L170.3,424.7 L171.4,424.5 L172.6,424.3 L173.7,424.2 L174.8,424.0 L176.0,423.9 L177.1,423.8 L178.2,423.7 L179.4,423.6 L180.5,423.5 L181.6,423.5 L182.8,423.4 L183.9,423.3 L185.0,423.2 L186.2,423.2 L187.3,423.1 L188.4,423.0 L189.6,422.8 L190.7,422.7 L191.8,422.6 L193.0,422.4 L194.1,422.2 L195.2,422.0 L196.4,421.8 L197.5,421.7 L198.6,421.5 L199.8,421.3 L200.9,421.1 L202.0,420.9 L203.2,420.7 L204.3,420.5 L205.4,420.3 L206.5,420.1 L207.7,419.9 L208.8,419.7 L209.9,419.4 L211.1,419.2 L212.2,419.0 L213.3,418.7 L214.5,418.4 L215.6,418.1 L216.7,417.8 L217.9,417.4 L219.0,417.0 L220.1,416.5 L221.3,416.0 L222.4,415.5 L223.5,415.0 L224.7,414.4 L225.8,413.9 L226.9,413.3 L228.1,412.7 L229.2,412.0 L230.3,411.1 L231.5,410.1 L232.6,408.9 L233.7,407.7 L234.9,406.5 L236.0,405.4 L237.1,404.2 L238.3,403.0 L239.4,401.6 L240.5,400.0 L241.7,398.1 L242.8,395.8 L243.9,393.2 L245.1,390.6 L246.2,387.9 L247.3,385.0 L248.5,381.9 L249.6,378.5 L250.7,375.1 L251.9,371.8 L253.0,368.6 L254.1,365.9 L255.3,363.5 L256.4,361.1 L257.5,358.7 L258.7,356.6 L259.8,354.7 L260.9,353.3 L262.1,351.9 L263.2,350.6 L264.3,349.3 L265.5,348.2 L266.6,347.4 L267.7,346.8 L268.9,346.4 L270.0,346.1 L271.1,346.0 L272.3,346.2 L273.4,346.5 L274.5,347.0 L275.7,347.6 L276.8,348.3 L277.9,349.0 L279.1,349.7 L280.2,350.4 L281.3,351.1 L282.5,351.8 L283.6,352.5 L284.7,353.3 L285.8,354.2 L287.0,355.1 L288.1,356.2 L289.2,357.2 L290.4,358.1 L291.5,358.9 L292.6,359.5 L293.8,360.1 L294.9,360.9 L296.0,361.6 L297.2,362.4 L298.3,363.1 L299.4,363.9 L300.6,364.5 L301.7,365.1 L302.8,365.5 L304.0,366.0 L305.1,366.4 L306.2,366.7 L307.4,367.1 L308.5,367.4 L309.6,367.8 L310.8,368.1 L311.9,368.4 L313.0,368.8 L314.2,369.1 L315.3,369.4 L316.4,369.7 L317.6,370.0 L318.7,370.3 L319.8,370.5 L321.0,370.8 L322.1,371.1 L323.2,371.3 L324.4,371.6 L325.5,371.8 L326.6,372.0 L327.8,372.2 L328.9,372.5 L330.0,372.7 L331.2,372.8 L332.3,373.0 L333.4,373.2 L334.6,373.4 L335.7,373.5 L336.8,373.7 L338.0,373.8 L339.1,373.9 L340.2,374.1 L341.4,374.2 L342.5,374.3 L343.6,374.4 L344.8,374.5 L345.9,374.6 L347.0,374.7 L348.2,374.8 L349.3,374.9 L350.4,375.0 L351.6,375.1 L352.7,375.1 L353.8,375.2 L355.0,375.3 L356.1,375.4 L357.2,375.4 L358.4,375.5 L358.6,375.5 L358.6,375.9 L358.4,376.7 L357.2,379.8 L356.1,382.7 L355.0,385.2 L353.8,387.5 L352.7,389.4 L351.6,391.0 L350.4,392.3 L349.3,393.3 L348.2,394.2 L347.0,394.8 L345.9,395.3 L344.8,395.8 L343.6,396.1 L342.5,396.4 L341.4,396.7 L340.2,397.1 L339.1,397.4 L338.0,397.8 L336.8,398.2 L335.7,398.6 L334.6,399.1 L333.4,399.5 L332.3,399.9 L331.2,400.4 L330.0,400.8 L328.9,401.2 L327.8,401.7 L326.6,402.1 L325.5,402.5 L324.4,402.9 L323.2,403.2 L322.1,403.6 L321.0,404.0 L319.8,404.3 L318.7,404.6 L317.6,404.9 L316.4,405.2 L315.3,405.5 L314.2,405.7 L313.0,406.0 L311.9,406.2 L310.8,406.5 L309.6,406.7 L308.5,407.0 L307.4,407.2 L306.2,407.5 L305.1,407.7 L304.0,408.0 L302.8,408.2 L301.7,408.5 L300.6,408.8 L299.4,409.1 L298.3,409.4 L297.2,409.7 L296.0,410.0 L294.9,410.3 L293.8,410.7 L292.6,411.0 L291.5,411.4 L290.4,411.7 L289.2,412.1 L288.1,412.5 L287.0,412.8 L285.8,413.2 L284.7,413.6 L283.6,414.0 L282.5,414.4 L281.3,414.8 L280.2,415.3 L279.1,415.7 L277.9,416.3 L276.8,416.8 L275.7,417.4 L274.5,418.1 L273.4,418.9 L272.3,419.7 L271.1,420.6 L270.0,421.6 L268.9,422.7 L267.7,424.0 L266.6,425.6 L265.5,427.5 L264.3,429.8 L263.2,432.5 L262.1,435.4 L260.9,438.6 L259.8,441.8 L258.7,445.2 L257.5,448.5 L256.4,451.8 L255.3,455.0 L254.1,458.1 L253.0,461.1 L251.9,464.1 L250.7,466.8 L249.6,469.5 L248.5,472.0 L247.3,474.4 L246.2,476.8 L245.1,479.0 L243.9,481.1 L242.8,482.9 L241.7,484.3 L240.5,485.4 L239.4,486.2 L238.3,486.8 L237.1,487.3 L236.0,487.7 L234.9,488.2 L233.7,488.5 L232.6,488.5 L231.5,488.5 L230.3,488.3 L229.2,488.0 L228.1,487.6 L226.9,487.1 L225.8,486.7 L224.7,486.2 L223.5,485.7 L222.4,485.1 L221.3,484.4 L220.1,483.6 L219.0,482.8 L217.9,481.9 L216.7,481.0 L215.6,480.2 L214.5,479.3 L213.3,478.5 L212.2,477.6 L211.1,476.6 L209.9,475.6 L208.8,474.6 L207.7,473.6 L206.5,472.5 L205.4,471.5 L204.3,470.5 L203.2,469.5 L202.0,468.6 L200.9,467.7 L199.8,466.8 L198.6,466.0 L197.5,465.3 L196.4,464.6 L195.2,464.0 L194.1,463.4 L193.0,462.9 L191.8,462.4 L190.7,461.9 L189.6,461.5 L188.4,461.0 L187.3,460.6 L186.2,460.2 L185.0,459.9 L183.9,459.5 L182.8,459.1 L181.6,458.8 L180.5,458.4 L179.4,458.0 L178.2,457.7 L177.1,457.3 L176.0,456.9 L174.8,456.6 L173.7,456.2 L172.6,455.9 L171.4,455.5 L170.3,455.2 L169.2,454.9 L168.0,454.6 L166.9,454.3 L165.8,454.0 L164.6,453.8 L163.5,453.6 L162.4,453.3 L161.2,453.2 L160.1,453.0 L159.0,452.9 L157.8,452.8 L156.7,452.7 L155.6,452.6 L154.4,452.5 L153.3,452.4 L152.2,452.3 L151.0,452.2 L149.9,452.1 L148.8,452.0 L147.6,451.8 L146.5,451.6 L145.4,451.3 L144.2,451.1 L143.1,450.7 L142.0,450.3 L140.8,449.9 L139.7,449.4 L138.6,448.8 L137.4,448.2 L136.3,447.5 L135.2,446.8 L134.0,446.0 L132.9,445.3 L131.8,444.5Z" stroke="#00ff00" stroke-width="1.6" fill="none" stroke-linejoin="round" stroke-linecap="round" />
<path d="M131.8,444.4 L132.9,443.6 L134.0,442.8 L135.2,442.0 L136.3,441.1 L137.4,440.3 L138.6,439.5 L139.7,438.7 L140.8,437.9 L142.0,437.1 L143.1,436.3 L144.2,435.5 L145.4,434.8 L146.5,434.0 L147.6,433.3 L148.8,432.5 L149.9,431.8 L151.0,431.1 L152.2,430.4 L153.3,429.7 L154.4,429.1 L155.6,428.5 L156.7,427.9 L157.8,427.4 L159.0,426.9 L160.1,426.4 L161.2,425.9 L162.4,425.6 L163.5,425.2 L164.6,424.9 L165.8,424.6 L166.9,424.3 L168.0,424.1 L169.2,423.8 L170.3,423.7 L171.4,423.5 L172.6,423.4 L173.7,423.2 L174.8,423.1 L176.0,423.0 L177.1,422.9 L178.2,422.9 L179.4,422.8 L180.5,422.7 L181.6,422.7 L182.8,422.6 L183.9,422.5 L185.0,422.5 L186.2,422.4 L187.3,422.3 L188.4,422.2 L189.6,422.1 L190.7,421.9 L191.8,421.8 L193.0,421.6 L194.1,421.4 L195.2,421.2 L196.4,421.0 L197.5,420.9 L198.6,420.7 L199.8,420.5 L200.9,420.4 L202.0,420.2 L203.2,420.0 L204.3,419.8 L205.4,419.6 L206.5,419.4 L207.7,419.2 L208.8,419.0 L209.9,418.7 L211.1,418.4 L212.2,418.2 L213.3,417.8 L214.5,417.5 L215.6,417.2 L216.7,416.8 L217.9,416.4 L219.0,416.0 L220.1,415.6 L221.3,415.2 L222.4,414.8 L223.5,414.4 L224.7,413.9 L225.8,413.5 L226.9,413.0 L228.1,412.4 L229.2,411.7 L230.3,410.7 L231.5,409.5 L232.6,408.2 L233.7,406.8 L234.9,405.5 L236.0,404.5 L237.1,403.4 L238.3,402.3 L239.4,400.9 L240.5,399.3 L241.7,397.3 L242.8,394.7 L243.9,391.7 L245.1,388.7 L246.2,385.8 L247.3,382.8 L248.5,379.4 L249.6,375.7 L250.7,371.8 L251.9,368.0 L253.0,364.5 L254.1,361.6 L255.3,359.1 L256.4,356.5 L257.5,353.9 L258.7,351.5 L259.8,349.6 L260.9,348.2 L262.1,347.0 L263.2,345.6 L264.3,344.2 L265.5,343.2 L266.6,342.7 L267.7,342.4 L268.9,342.1 L270.0,342.0 L271.1,342.2 L272.3,342.6 L273.4,343.4 L274.5,344.3 L275.7,345.4 L276.8,346.4 L277.9,347.5 L279.1,348.6 L280.2,349.6 L281.3,350.7 L282.5,351.7 L283.6,352.7 L284.7,353.8 L285.8,354.9 L287.0,356.1 L288.1,357.4 L289.2,358.6 L290.4,359.6 L291.5,360.4 L292.6,361.0 L293.8,361.7 L294.9,362.4 L296.0,363.2 L297.2,364.0 L298.3,364.8 L299.4,365.5 L300.6,366.1 L301.7,366.6 L302.8,367.0 L304.0,367.3 L305.1,367.6 L306.2,367.9 L307.4,368.2 L308.5,368.5 L309.6,368.8 L310.8,369.1 L311.9,369.4 L313.0,369.7 L314.2,370.1 L315.3,370.4 L316.4,370.7 L317.6,371.0 L318.7,371.4 L319.8,371.7 L321.0,372.0 L322.1,372.3 L323.2,372.5 L324.4,372.8 L325.5,373.0 L326.6,373.3 L327.8,373.5 L328.9,373.6 L330.0,373.8 L331.2,374.0 L332.3,374.1 L333.4,374.3 L334.6,374.4 L335.7,374.5 L336.8,374.6 L338.0,374.7 L339.1,374.8 L340.2,374.9 L341.4,375.0 L342.5,375.1 L343.6,375.2 L344.8,375.2 L345.9,375.3 L347.0,375.4 L348.2,375.5 L349.3,375.5 L350.4,375.6 L351.6,375.7 L352.7,375.7 L353.8,375.8 L355.0,375.8 L356.1,375.9 L357.2,376.0 L358.4,376.0 L358.6,376.0 L358.6,376.1 L358.4,376.9 L357.2,379.8 L356.1,382.6 L355.0,385.1 L353.8,387.4 L352.7,389.3 L351.6,390.9 L350.4,392.2 L349.3,393.3 L348.2,394.1 L347.0,394.8 L345.9,395.3 L344.8,395.6 L343.6,396.0 L342.5,396.3 L341.4,396.6 L340.2,396.9 L339.1,397.2 L338.0,397.6 L336.8,398.0 L335.7,398.4 L334.6,398.8 L333.4,399.3 L332.3,399.7 L331.2,400.1 L330.0,400.6 L328.9,401.0 L327.8,401.4 L326.6,401.8 L325.5,402.2 L324.4,402.5 L323.2,402.9 L322.1,403.2 L321.0,403.5 L319.8,403.8 L318.7,404.1 L317.6,404.4 L316.4,404.6 L315.3,404.9 L314.2,405.1 L313.0,405.4 L311.9,405.6 L310.8,405.8 L309.6,406.1 L308.5,406.3 L307.4,406.6 L306.2,406.8 L305.1,407.1 L304.0,407.3 L302.8,407.6 L301.7,407.9 L300.6,408.2 L299.4,408.6 L298.3,408.9 L297.2,409.2 L296.0,409.6 L294.9,410.0 L293.8,410.3 L292.6,410.7 L291.5,411.0 L290.4,411.4 L289.2,411.7 L288.1,412.1 L287.0,412.4 L285.8,412.8 L284.7,413.2 L283.6,413.6 L282.5,414.1 L281.3,414.6 L280.2,415.1 L279.1,415.7 L277.9,416.3 L276.8,416.9 L275.7,417.6 L274.5,418.3 L273.4,419.0 L272.3,419.7 L271.1,420.5 L270.0,421.5 L268.9,422.7 L267.7,424.1 L266.6,425.8 L265.5,427.9 L264.3,430.3 L263.2,433.0 L262.1,436.0 L260.9,439.3 L259.8,442.7 L258.7,446.2 L257.5,449.7 L256.4,453.2 L255.3,456.7 L254.1,460.1 L253.0,463.4 L251.9,466.6 L250.7,469.5 L249.6,472.2 L248.5,474.8 L247.3,477.3 L246.2,479.9 L245.1,482.5 L243.9,484.9 L242.8,486.9 L241.7,488.4 L240.5,489.4 L239.4,490.0 L238.3,490.3 L237.1,490.7 L236.0,491.1 L234.9,491.6 L233.7,491.9 L232.6,491.9 L231.5,491.7 L230.3,491.4 L229.2,490.9 L228.1,490.3 L226.9,489.6 L225.8,488.9 L224.7,488.1 L223.5,487.4 L222.4,486.6 L221.3,485.8 L220.1,484.9 L219.0,484.0 L217.9,483.0 L216.7,482.1 L215.6,481.1 L214.5,480.2 L213.3,479.2 L212.2,478.3 L211.1,477.2 L209.9,476.2 L208.8,475.1 L207.7,474.1 L206.5,473.0 L205.4,471.9 L204.3,470.9 L203.2,469.9 L202.0,469.0 L200.9,468.1 L199.8,467.2 L198.6,466.4 L197.5,465.7 L196.4,465.0 L195.2,464.4 L194.1,463.8 L193.0,463.2 L191.8,462.7 L190.7,462.2 L189.6,461.8 L188.4,461.3 L187.3,460.9 L186.2,460.5 L185.0,460.1 L183.9,459.8 L182.8,459.4 L181.6,459.0 L180.5,458.6 L179.4,458.3 L178.2,457.9 L177.1,457.5 L176.0,457.1 L174.8,456.8 L173.7,456.4 L172.6,456.1 L171.4,455.7 L170.3,455.4 L169.2,455.1 L168.0,454.8 L166.9,454.5 L165.8,454.2 L164.6,454.0 L163.5,453.7 L162.4,453.5 L161.2,453.4 L160.1,453.2 L159.0,453.1 L157.8,453.0 L156.7,452.9 L155.6,452.8 L154.4,452.7 L153.3,452.6 L152.2,452.5 L151.0,452.4 L149.9,452.3 L148.8,452.2 L147.6,452.0 L146.5,451.8 L145.4,451.6 L144.2,451.3 L143.1,450.9 L142.0,450.5 L140.8,450.0 L139.7,449.5 L138.6,448.9 L137.4,448.2 L136.3,447.5 L135.2,446.8 L134.0,446.0 L132.9,445.2 L131.8,444.4Z" stroke="#00ffff" stroke-width="1.6" fill="none" stroke-linejoin="round" stroke-linecap="round" />
<path d="M131.8,444.4 L132.9,443.5 L134.0,442.7 L135.2,441.9 L136.3,441.0 L137.4,440.2 L138.6,439.4 L139.7,438.6 L140.8,437.7 L142.0,436.9 L143.1,436.1 L144.2,435.3 L145.4,434.5 L146.5,433.7 L147.6,432.9 L148.8,432.2 L149.9,431.4 L151.0,430.7 L152.2,430.0 L153.3,429.3 L154.4,428.6 L155.6,428.0 L156.7,427.4 L157.8,426.9 L159.0,426.4 L160.1,425.9 L161.2,425.5 L162.4,425.1 L163.5,424.7 L164.6,424.4 L165.8,424.1 L166.9,423.9 L168.0,423.7 L169.2,423.5 L170.3,423.3 L171.4,423.1 L172.6,423.0 L173.7,422.9 L174.8,422.8 L176.0,422.7 L177.1,422.6 L178.2,422.6 L179.4,422.5 L180.5,422.5 L181.6,422.4 L182.8,422.3 L183.9,422.3 L185.0,422.2 L186.2,422.1 L187.3,422.0 L188.4,421.9 L189.6,421.8 L190.7,421.7 L191.8,421.5 L193.0,421.3 L194.1,421.1 L195.2,420.9 L196.4,420.8 L197.5,420.6 L198.6,420.4 L199.8,420.3 L200.9,420.1 L202.0,419.9 L203.2,419.8 L204.3,419.6 L205.4,419.4 L206.5,419.2 L207.7,419.0 L208.8,418.7 L209.9,418.5 L211.1,418.2 L212.2,417.9 L213.3,417.5 L214.5,417.2 L215.6,416.8 L216.7,416.5 L217.9,416.1 L219.0,415.7 L220.1,415.3 L221.3,414.9 L222.4,414.5 L223.5,414.1 L224.7,413.7 L225.8,413.3 L226.9,412.9 L228.1,412.3 L229.2,411.6 L230.3,410.6 L231.5,409.4 L232.6,407.9 L233.7,406.5 L234.9,405.2 L236.0,404.1 L237.1,403.1 L238.3,402.0 L239.4,400.7 L240.5,399.1 L241.7,397.0 L242.8,394.3 L243.9,391.2 L245.1,388.1 L246.2,385.1 L247.3,382.0 L248.5,378.5 L249.6,374.7 L250.7,370.6 L251.9,366.7 L253.0,363.1 L254.1,360.1 L255.3,357.6 L256.4,354.9 L257.5,352.2 L258.7,349.7 L259.8,347.8 L260.9,346.5 L262.1,345.2 L263.2,343.8 L264.3,342.5 L265.5,341.5 L266.6,341.0 L267.7,340.8 L268.9,340.5 L270.0,340.5 L271.1,340.8 L272.3,341.4 L273.4,342.3 L274.5,343.4 L275.7,344.6 L276.8,345.8 L277.9,347.0 L279.1,348.2 L280.2,349.4 L281.3,350.5 L282.5,351.7 L283.6,352.8 L284.7,354.0 L285.8,355.2 L287.0,356.5 L288.1,357.8 L289.2,359.0 L290.4,360.1 L291.5,360.9 L292.6,361.6 L293.8,362.2 L294.9,363.0 L296.0,363.8 L297.2,364.6 L298.3,365.4 L299.4,366.1 L300.6,366.7 L301.7,367.2 L302.8,367.5 L304.0,367.8 L305.1,368.1 L306.2,368.3 L307.4,368.6 L308.5,368.8 L309.6,369.1 L310.8,369.4 L311.9,369.8 L313.0,370.1 L314.2,370.4 L315.3,370.7 L316.4,371.1 L317.6,371.4 L318.7,371.7 L319.8,372.1 L321.0,372.4 L322.1,372.7 L323.2,372.9 L324.4,373.2 L325.5,373.5 L326.6,373.7 L327.8,373.9 L328.9,374.1 L330.0,374.2 L331.2,374.4 L332.3,374.5 L333.4,374.6 L334.6,374.8 L335.7,374.9 L336.8,375.0 L338.0,375.0 L339.1,375.1 L340.2,375.2 L341.4,375.3 L342.5,375.3 L343.6,375.4 L344.8,375.5 L345.9,375.5 L347.0,375.6 L348.2,375.7 L349.3,375.7 L350.4,375.8 L351.6,375.9 L352.7,375.9 L353.8,376.0 L355.0,376.0 L356.1,376.1 L357.2,376.1 L358.4,376.2 L358.6,376.2 L358.6,376.2 L358.4,376.9 L357.2,379.8 L356.1,382.6 L355.0,385.1 L353.8,387.3 L352.7,389.3 L351.6,390.9 L350.4,392.2 L349.3,393.3 L348.2,394.1 L347.0,394.7 L345.9,395.2 L344.8,395.6 L343.6,395.9 L342.5,396.2 L341.4,396.5 L340.2,396.8 L339.1,397.2 L338.0,397.5 L336.8,397.9 L335.7,398.3 L334.6,398.7 L333.4,399.2 L332.3,399.6 L331.2,400.0 L330.0,400.4 L328.9,400.9 L327.8,401.3 L326.6,401.7 L325.5,402.0 L324.4,402.4 L323.2,402.7 L322.1,403.0 L321.0,403.3 L319.8,403.6 L318.7,403.9 L317.6,404.1 L316.4,404.4 L315.3,404.6 L314.2,404.8 L313.0,405.1 L311.9,405.3 L310.8,405.5 L309.6,405.8 L308.5,406.0 L307.4,406.3 L306.2,406.5 L305.1,406.8 L304.0,407.1 L302.8,407.4 L301.7,407.7 L300.6,408.0 L299.4,408.3 L298.3,408.7 L297.2,409.0 L296.0,409.4 L294.9,409.8 L293.8,410.2 L292.6,410.5 L291.5,410.9 L290.4,411.2 L289.2,411.6 L288.1,411.9 L287.0,412.3 L285.8,412.6 L284.7,413.0 L283.6,413.5 L282.5,414.0 L281.3,414.5 L280.2,415.1 L279.1,415.7 L277.9,416.3 L276.8,417.0 L275.7,417.7 L274.5,418.3 L273.4,419.0 L272.3,419.7 L271.1,420.5 L270.0,421.5 L268.9,422.7 L267.7,424.2 L266.6,426.0 L265.5,428.0 L264.3,430.5 L263.2,433.3 L262.1,436.3 L260.9,439.6 L259.8,443.0 L258.7,446.6 L257.5,450.2 L256.4,453.9 L255.3,457.5 L254.1,461.0 L253.0,464.4 L251.9,467.7 L250.7,470.7 L249.6,473.5 L248.5,476.0 L247.3,478.6 L246.2,481.3 L245.1,484.0 L243.9,486.6 L242.8,488.7 L241.7,490.2 L240.5,491.1 L239.4,491.6 L238.3,491.9 L237.1,492.2 L236.0,492.7 L234.9,493.1 L233.7,493.4 L232.6,493.4 L231.5,493.2 L230.3,492.8 L229.2,492.2 L228.1,491.4 L226.9,490.6 L225.8,489.8 L224.7,489.0 L223.5,488.1 L222.4,487.3 L221.3,486.4 L220.1,485.4 L219.0,484.5 L217.9,483.5 L216.7,482.5 L215.6,481.6 L214.5,480.6 L213.3,479.6 L212.2,478.6 L211.1,477.5 L209.9,476.4 L208.8,475.4 L207.7,474.3 L206.5,473.2 L205.4,472.1 L204.3,471.1 L203.2,470.1 L202.0,469.1 L200.9,468.2 L199.8,467.4 L198.6,466.6 L197.5,465.9 L196.4,465.2 L195.2,464.5 L194.1,463.9 L193.0,463.4 L191.8,462.9 L190.7,462.4 L189.6,461.9 L188.4,461.5 L187.3,461.0 L186.2,460.6 L185.0,460.3 L183.9,459.9 L182.8,459.5 L181.6,459.1 L180.5,458.7 L179.4,458.4 L178.2,458.0 L177.1,457.6 L176.0,457.2 L174.8,456.9 L173.7,456.5 L172.6,456.1 L171.4,455.8 L170.3,455.5 L169.2,455.2 L168.0,454.9 L166.9,454.6 L165.8,454.3 L164.6,454.1 L163.5,453.8 L162.4,453.6 L161.2,453.4 L160.1,453.3 L159.0,453.2 L157.8,453.1 L156.7,453.0 L155.6,452.9 L154.4,452.8 L153.3,452.7 L152.2,452.6 L151.0,452.5 L149.9,452.4 L148.8,452.3 L147.6,452.1 L146.5,451.9 L145.4,451.7 L144.2,451.4 L143.1,451.0 L142.0,450.6 L140.8,450.1 L139.7,449.6 L138.6,449.0 L137.4,448.3 L136.3,447.6 L135.2,446.8 L134.0,446.0 L132.9,445.2 L131.8,444.4Z" stroke="#0000ff" stroke-width="1.6" fill="none" stroke-linejoin="round" stroke-linecap="round" />
<path d="M131.8,444.4 L132.9,443.5 L134.0,442.7 L135.2,441.8 L136.3,441.0 L137.4,440.1 L138.6,439.3 L139.7,438.4 L140.8,437.6 L142.0,436.7 L143.1,435.9 L144.2,435.1 L145.4,434.3 L146.5,433.4 L147.6,432.6 L148.8,431.9 L149.9,431.1 L151.0,430.3 L152.2,429.6 L153.3,428.9 L154.4,428.2 L155.6,427.6 L156.7,427.0 L157.8,426.4 L159.0,425.9 L160.1,425.5 L161.2,425.0 L162.4,424.7 L163.5,424.3 L164.6,424.0 L165.8,423.8 L166.9,423.5 L168.0,423.3 L169.2,423.1 L170.3,422.9 L171.4,422.8 L172.6,422.7 L173.7,422.5 L174.8,422.4 L176.0,422.3 L177.1,422.2 L178.2,422.1 L179.4,422.0 L180.5,422.0 L181.6,421.9 L182.8,421.8 L183.9,421.8 L185.0,421.7 L186.2,421.6 L187.3,421.6 L188.4,421.5 L189.6,421.4 L190.7,421.3 L191.8,421.2 L193.0,421.1 L194.1,421.0 L195.2,420.8 L196.4,420.7 L197.5,420.5 L198.6,420.3 L199.8,420.2 L200.9,420.0 L202.0,419.8 L203.2,419.6 L204.3,419.4 L205.4,419.1 L206.5,418.9 L207.7,418.7 L208.8,418.4 L209.9,418.2 L211.1,417.9 L212.2,417.7 L213.3,417.4 L214.5,417.1 L215.6,416.8 L216.7,416.5 L217.9,416.2 L219.0,415.9 L220.1,415.5 L221.3,415.1 L222.4,414.6 L223.5,414.2 L224.7,413.6 L225.8,413.1 L226.9,412.5 L228.1,411.8 L229.2,411.1 L230.3,410.3 L231.5,409.5 L232.6,408.6 L233.7,407.7 L234.9,406.6 L236.0,405.4 L237.1,404.0 L238.3,402.5 L239.4,400.8 L240.5,398.8 L241.7,396.6 L242.8,394.1 L243.9,391.3 L245.1,388.3 L246.2,385.0 L247.3,381.5 L248.5,377.8 L249.6,373.8 L250.7,369.9 L251.9,365.9 L253.0,362.2 L254.1,358.7 L255.3,355.6 L256.4,352.8 L257.5,350.3 L258.7,348.1 L259.8,346.2 L260.9,344.5 L262.1,343.0 L263.2,341.7 L264.3,340.7 L265.5,340.0 L266.6,339.5 L267.7,339.3 L268.9,339.3 L270.0,339.5 L271.1,340.0 L272.3,340.6 L273.4,341.4 L274.5,342.4 L275.7,343.5 L276.8,344.8 L277.9,346.2 L279.1,347.6 L280.2,349.0 L281.3,350.5 L282.5,351.9 L283.6,353.3 L284.7,354.6 L285.8,355.9 L287.0,357.2 L288.1,358.4 L289.2,359.5 L290.4,360.5 L291.5,361.5 L292.6,362.4 L293.8,363.2 L294.9,364.0 L296.0,364.7 L297.2,365.4 L298.3,366.0 L299.4,366.6 L300.6,367.2 L301.7,367.7 L302.8,368.2 L304.0,368.7 L305.1,369.1 L306.2,369.5 L307.4,369.9 L308.5,370.3 L309.6,370.6 L310.8,370.9 L311.9,371.2 L313.0,371.5 L314.2,371.8 L315.3,372.0 L316.4,372.3 L317.6,372.5 L318.7,372.7 L319.8,372.9 L321.0,373.1 L322.1,373.3 L323.2,373.5 L324.4,373.6 L325.5,373.8 L326.6,373.9 L327.8,374.1 L328.9,374.2 L330.0,374.4 L331.2,374.5 L332.3,374.7 L333.4,374.8 L334.6,374.9 L335.7,375.0 L336.8,375.1 L338.0,375.2 L339.1,375.3 L340.2,375.4 L341.4,375.5 L342.5,375.6 L343.6,375.7 L344.8,375.8 L345.9,375.8 L347.0,375.9 L348.2,375.9 L349.3,376.0 L350.4,376.0 L351.6,376.1 L352.7,376.1 L353.8,376.2 L355.0,376.2 L356.1,376.3 L357.2,376.3 L358.4,376.4 L358.6,376.4 L358.6,376.4 L358.4,377.1 L357.2,379.9 L356.1,382.5 L355.0,385.0 L353.8,387.2 L352.7,389.2 L351.6,390.8 L350.4,392.2 L349.3,393.2 L348.2,394.0 L347.0,394.7 L345.9,395.2 L344.8,395.5 L343.6,395.8 L342.5,396.1 L341.4,396.4 L340.2,396.7 L339.1,397.0 L338.0,397.4 L336.8,397.8 L335.7,398.1 L334.6,398.5 L333.4,399.0 L332.3,399.4 L331.2,399.8 L330.0,400.2 L328.9,400.6 L327.8,401.0 L326.6,401.4 L325.5,401.8 L324.4,402.2 L323.2,402.5 L322.1,402.8 L321.0,403.1 L319.8,403.4 L318.7,403.7 L317.6,404.0 L316.4,404.2 L315.3,404.5 L314.2,404.7 L313.0,405.0 L311.9,405.2 L310.8,405.4 L309.6,405.7 L308.5,405.9 L307.4,406.1 L306.2,406.4 L305.1,406.6 L304.0,406.8 L302.8,407.1 L301.7,407.4 L300.6,407.6 L299.4,407.9 L298.3,408.2 L297.2,408.5 L296.0,408.9 L294.9,409.2 L293.8,409.6 L292.6,409.9 L291.5,410.3 L290.4,410.7 L289.2,411.1 L288.1,411.5 L287.0,411.9 L285.8,412.4 L284.7,412.8 L283.6,413.3 L282.5,413.7 L281.3,414.2 L280.2,414.7 L279.1,415.3 L277.9,415.9 L276.8,416.5 L275.7,417.2 L274.5,417.9 L273.4,418.7 L272.3,419.6 L271.1,420.6 L270.0,421.7 L268.9,422.9 L267.7,424.4 L266.6,426.2 L265.5,428.3 L264.3,430.8 L263.2,433.6 L262.1,436.8 L260.9,440.2 L259.8,443.7 L258.7,447.3 L257.5,450.9 L256.4,454.5 L255.3,458.1 L254.1,461.7 L253.0,465.2 L251.9,468.7 L250.7,472.1 L249.6,475.4 L248.5,478.6 L247.3,481.7 L246.2,484.5 L245.1,487.1 L243.9,489.4 L242.8,491.4 L241.7,493.0 L240.5,494.1 L239.4,495.0 L238.3,495.5 L237.1,495.7 L236.0,495.8 L234.9,495.6 L233.7,495.4 L232.6,495.0 L231.5,494.6 L230.3,494.1 L229.2,493.5 L228.1,492.8 L226.9,492.0 L225.8,491.2 L224.7,490.4 L223.5,489.5 L222.4,488.6 L221.3,487.6 L220.1,486.6 L219.0,485.5 L217.9,484.5 L216.7,483.4 L215.6,482.3 L214.5,481.2 L213.3,480.0 L212.2,478.9 L211.1,477.8 L209.9,476.6 L208.8,475.5 L207.7,474.4 L206.5,473.4 L205.4,472.3 L204.3,471.3 L203.2,470.3 L202.0,469.4 L200.9,468.5 L199.8,467.7 L198.6,466.9 L197.5,466.2 L196.4,465.5 L195.2,464.8 L194.1,464.2 L193.0,463.7 L191.8,463.1 L190.7,462.6 L189.6,462.2 L188.4,461.7 L187.3,461.3 L186.2,460.9 L185.0,460.5 L183.9,460.1 L182.8,459.7 L181.6,459.3 L180.5,458.9 L179.4,458.5 L178.2,458.1 L177.1,457.7 L176.0,457.3 L174.8,457.0 L173.7,456.6 L172.6,456.3 L171.4,455.9 L170.3,455.6 L169.2,455.3 L168.0,455.0 L166.9,454.7 L165.8,454.4 L164.6,454.2 L163.5,453.9 L162.4,453.7 L161.2,453.6 L160.1,453.4 L159.0,453.3 L157.8,453.2 L156.7,453.1 L155.6,453.0 L154.4,453.0 L153.3,452.9 L152.2,452.8 L151.0,452.7 L149.9,452.6 L148.8,452.5 L147.6,452.3 L146.5,452.1 L145.4,451.8 L144.2,451.5 L143.1,451.1 L142.0,450.7 L140.8,450.2 L139.7,449.7 L138.6,449.0 L137.4,448.3 L136.3,447.6 L135.2,446.8 L134.0,446.0 L132.9,445.2 L131.8,444.4Z" stroke="#ff0000" stroke-width="1.6" fill="none" stroke-linejoin="round" stroke-linecap="round" />
<path d="M280.6,372.4L271.4,347.62" stroke="#ff0000" stroke-width="3.2"/><path d="M268.2,339L276.83,348.6L271.75,348.56L267.92,351.9Z" fill="#ff0000"/>
<path d="M222.8,459.1L231.3,486.8" stroke="#ff0000" stroke-width="3.2"/><path d="M234,495.6L225.94,485.52L231.01,485.85L235.02,482.73Z" fill="#ff0000"/>
<text x="136.9" y="348.5" font-size="17">(d)</text>
<path d="M418.16,506V502.8M418.16,329.5V332.7M474.81,506V502.8M474.81,329.5V332.7M531.45,506V502.8M531.45,329.5V332.7M588.09,506V502.8M588.09,329.5V332.7M644.74,506V502.8M644.74,329.5V332.7M412.5,506H415.7M650.4,506H647.2M412.5,480.79H415.7M650.4,480.79H647.2M412.5,455.57H415.7M650.4,455.57H647.2M412.5,430.36H415.7M650.4,430.36H647.2M412.5,405.14H415.7M650.4,405.14H647.2M412.5,379.93H415.7M650.4,379.93H647.2M412.5,354.71H415.7M650.4,354.71H647.2M412.5,329.5H415.7M650.4,329.5H647.2" stroke="#222" stroke-width="1.3" fill="none"/>
<path d="M446.49,506V504.2M446.49,329.5V331.3M503.13,506V504.2M503.13,329.5V331.3M559.77,506V504.2M559.77,329.5V331.3M616.41,506V504.2M616.41,329.5V331.3M412.5,493.39H414.3M650.4,493.39H648.6M412.5,468.18H414.3M650.4,468.18H648.6M412.5,442.96H414.3M650.4,442.96H648.6M412.5,417.75H414.3M650.4,417.75H648.6M412.5,392.54H414.3M650.4,392.54H648.6M412.5,367.32H414.3M650.4,367.32H648.6M412.5,342.11H414.3M650.4,342.11H648.6" stroke="#222" stroke-width="1.1" fill="none"/>
<rect x="412.5" y="329.5" width="237.9" height="176.5" fill="none" stroke="#222" stroke-width="1.2"/>
<g font-size="14" fill="#1a1a1a"><text x="418.16" y="521" text-anchor="middle">-0.2</text><text x="474.81" y="521" text-anchor="middle">0.0</text><text x="531.45" y="521" text-anchor="middle">0.2</text><text x="588.09" y="521" text-anchor="middle">0.4</text><text x="644.74" y="521" text-anchor="middle">0.6</text><text x="408.9" y="510.3" text-anchor="end">0</text><text x="408.9" y="485.09" text-anchor="end">15</text><text x="408.9" y="459.87" text-anchor="end">30</text><text x="408.9" y="434.66" text-anchor="end">45</text><text x="408.9" y="409.44" text-anchor="end">60</text><text x="408.9" y="384.23" text-anchor="end">75</text><text x="408.9" y="359.01" text-anchor="end">90</text><text x="408.9" y="333.8" text-anchor="end">105</text></g>
<path d="M418.2,479.3 L419.3,479.4 L420.4,479.6 L421.6,479.7 L422.7,479.8 L423.8,479.9 L425.0,480.1 L426.1,480.2 L427.2,480.3 L428.4,480.3 L429.5,480.4 L430.6,480.5 L431.8,480.5 L432.9,480.6 L434.0,480.6 L435.2,480.6 L436.3,480.7 L437.4,480.7 L438.6,480.8 L439.7,480.8 L440.8,480.8 L442.0,480.9 L443.1,480.9 L444.2,481.0 L445.4,481.0 L446.5,481.1 L447.6,481.1 L448.8,481.2 L449.9,481.2 L451.0,481.2 L452.2,481.3 L453.3,481.3 L454.4,481.3 L455.5,481.3 L456.7,481.4 L457.8,481.4 L458.9,481.4 L460.1,481.4 L461.2,481.4 L462.3,481.4 L463.5,481.3 L464.6,481.3 L465.7,481.3 L466.9,481.3 L468.0,481.2 L469.1,481.2 L470.3,481.2 L471.4,481.1 L472.5,481.0 L473.7,481.0 L474.8,480.9 L475.9,480.8 L477.1,480.7 L478.2,480.6 L479.3,480.5 L480.5,480.4 L481.6,480.3 L482.7,480.2 L483.9,480.0 L485.0,479.8 L486.1,479.6 L487.3,479.3 L488.4,479.1 L489.5,478.7 L490.7,478.4 L491.8,477.9 L492.9,477.4 L494.1,476.9 L495.2,476.3 L496.3,475.6 L497.5,474.9 L498.6,474.0 L499.7,473.1 L500.9,472.1 L502.0,470.9 L503.1,469.7 L504.3,468.3 L505.4,466.9 L506.5,465.3 L507.7,463.6 L508.8,461.8 L509.9,459.9 L511.1,457.8 L512.2,455.7 L513.3,453.4 L514.5,451.0 L515.6,448.5 L516.7,445.8 L517.9,443.0 L519.0,440.0 L520.1,436.8 L521.3,433.5 L522.4,430.1 L523.5,426.6 L524.7,423.2 L525.8,419.8 L526.9,416.6 L528.1,413.6 L529.2,410.8 L530.3,408.2 L531.5,405.8 L532.6,403.7 L533.7,401.9 L534.8,400.3 L536.0,399.1 L537.1,398.2 L538.2,397.7 L539.4,397.6 L540.5,397.8 L541.6,398.4 L542.8,399.4 L543.9,400.7 L545.0,402.3 L546.2,404.1 L547.3,406.3 L548.4,408.6 L549.6,411.1 L550.7,413.8 L551.8,416.7 L553.0,419.7 L554.1,422.7 L555.2,425.8 L556.4,428.8 L557.5,431.6 L558.6,434.3 L559.8,436.7 L560.9,438.8 L562.0,440.6 L563.2,442.2 L564.3,443.6 L565.4,444.8 L566.6,445.8 L567.7,446.6 L568.8,447.3 L570.0,447.9 L571.1,448.3 L572.2,448.7 L573.4,449.1 L574.5,449.4 L575.6,449.7 L576.8,450.0 L577.9,450.3 L579.0,450.6 L580.2,450.8 L581.3,451.0 L582.4,451.2 L583.6,451.4 L584.7,451.6 L585.8,451.8 L587.0,451.9 L588.1,452.1 L589.2,452.3 L590.4,452.5 L591.5,452.7 L592.6,453.0 L593.8,453.3 L594.9,453.6 L596.0,453.9 L597.2,454.2 L598.3,454.5 L599.4,454.8 L600.6,455.1 L601.7,455.3 L602.8,455.6 L604.0,455.8 L605.1,456.0 L606.2,456.2 L607.4,456.4 L608.5,456.5 L609.6,456.7 L610.8,456.8 L611.9,456.9 L613.0,457.0 L614.1,457.0 L615.3,457.1 L616.4,457.1 L617.5,457.1 L618.7,457.1 L619.8,457.0 L620.9,457.0 L622.1,456.9 L623.2,456.8 L624.3,456.8 L625.5,456.7 L626.6,456.6 L627.7,456.5 L628.9,456.4 L630.0,456.3 L631.1,456.2 L632.3,456.1 L633.4,456.0 L634.5,455.9 L635.7,455.7 L636.8,455.6 L637.9,455.5 L639.1,455.4 L640.2,455.3 L641.3,455.2 L642.5,455.0 L643.6,454.9 L644.7,454.8 L645.9,454.7 L647.0,454.6 L648.1,454.5 L649.3,454.3 L650.4,454.2" stroke="#800000" stroke-width="1.6" fill="none" stroke-linejoin="round" stroke-linecap="round" />
<path d="M418.2,476.6 L419.3,476.6 L420.4,476.5 L421.6,476.5 L422.7,476.5 L423.8,476.5 L425.0,476.4 L426.1,476.4 L427.2,476.3 L428.4,476.3 L429.5,476.2 L430.6,476.1 L431.8,476.0 L432.9,476.0 L434.0,475.9 L435.2,475.8 L436.3,475.7 L437.4,475.6 L438.6,475.5 L439.7,475.4 L440.8,475.2 L442.0,475.1 L443.1,475.0 L444.2,474.9 L445.4,474.8 L446.5,474.7 L447.6,474.6 L448.8,474.5 L449.9,474.3 L451.0,474.2 L452.2,474.1 L453.3,474.0 L454.4,473.9 L455.5,473.8 L456.7,473.7 L457.8,473.6 L458.9,473.4 L460.1,473.3 L461.2,473.2 L462.3,473.1 L463.5,473.0 L464.6,472.9 L465.7,472.8 L466.9,472.7 L468.0,472.6 L469.1,472.4 L470.3,472.3 L471.4,472.2 L472.5,472.1 L473.7,472.0 L474.8,471.8 L475.9,471.7 L477.1,471.5 L478.2,471.4 L479.3,471.2 L480.5,471.0 L481.6,470.8 L482.7,470.6 L483.9,470.3 L485.0,470.1 L486.1,469.8 L487.3,469.5 L488.4,469.2 L489.5,468.8 L490.7,468.4 L491.8,468.0 L492.9,467.6 L494.1,467.1 L495.2,466.5 L496.3,465.9 L497.5,465.3 L498.6,464.5 L499.7,463.7 L500.9,462.7 L502.0,461.6 L503.1,460.4 L504.3,459.1 L505.4,457.6 L506.5,455.9 L507.7,454.0 L508.8,451.9 L509.9,449.5 L511.1,446.8 L512.2,443.8 L513.3,440.7 L514.5,437.4 L515.6,434.0 L516.7,430.7 L517.9,427.4 L519.0,424.1 L520.1,420.8 L521.3,417.3 L522.4,413.6 L523.5,409.7 L524.7,405.4 L525.8,401.2 L526.9,397.0 L528.1,393.2 L529.2,389.8 L530.3,386.8 L531.5,384.2 L532.6,382.0 L533.7,380.0 L534.8,378.4 L536.0,377.0 L537.1,376.1 L538.2,375.5 L539.4,375.4 L540.5,375.8 L541.6,376.6 L542.8,377.8 L543.9,379.3 L545.0,381.2 L546.2,383.4 L547.3,385.8 L548.4,388.5 L549.6,391.4 L550.7,394.6 L551.8,398.0 L553.0,401.7 L554.1,405.5 L555.2,409.3 L556.4,412.9 L557.5,416.2 L558.6,419.1 L559.8,421.4 L560.9,423.3 L562.0,424.9 L563.2,426.1 L564.3,427.1 L565.4,428.1 L566.6,428.9 L567.7,429.7 L568.8,430.4 L570.0,431.0 L571.1,431.5 L572.2,431.9 L573.4,432.2 L574.5,432.3 L575.6,432.3 L576.8,432.2 L577.9,432.0 L579.0,431.9 L580.2,431.7 L581.3,431.7 L582.4,431.7 L583.6,431.9 L584.7,432.2 L585.8,432.6 L587.0,433.1 L588.1,433.7 L589.2,434.3 L590.4,435.0 L591.5,435.8 L592.6,436.6 L593.8,437.4 L594.9,438.2 L596.0,439.1 L597.2,439.9 L598.3,440.8 L599.4,441.7 L600.6,442.5 L601.7,443.4 L602.8,444.2 L604.0,445.1 L605.1,445.8 L606.2,446.6 L607.4,447.3 L608.5,448.0 L609.6,448.6 L610.8,449.2 L611.9,449.8 L613.0,450.2 L614.1,450.6 L615.3,451.0 L616.4,451.3 L617.5,451.5 L618.7,451.6 L619.8,451.7 L620.9,451.8 L622.1,451.8 L623.2,451.8 L624.3,451.7 L625.5,451.7 L626.6,451.6 L627.7,451.5 L628.9,451.4 L630.0,451.3 L631.1,451.2 L632.3,451.1 L633.4,451.0 L634.5,450.8 L635.7,450.7 L636.8,450.6 L637.9,450.5 L639.1,450.3 L640.2,450.2 L641.3,450.1 L642.5,450.0 L643.6,449.9 L644.7,449.8 L645.9,449.6 L647.0,449.5 L648.1,449.4 L649.3,449.3 L650.4,449.2" stroke="#ff00ff" stroke-width="1.6" fill="none" stroke-linejoin="round" stroke-linecap="round" />
<path d="M418.2,475.9 L419.3,475.5 L420.4,475.1 L421.6,474.8 L422.7,474.4 L423.8,474.0 L425.0,473.6 L426.1,473.2 L427.2,472.8 L428.4,472.4 L429.5,472.0 L430.6,471.6 L431.8,471.1 L432.9,470.7 L434.0,470.2 L435.2,469.8 L436.3,469.3 L437.4,468.8 L438.6,468.3 L439.7,467.7 L440.8,467.2 L442.0,466.6 L443.1,466.0 L444.2,465.4 L445.4,464.9 L446.5,464.3 L447.6,463.7 L448.8,463.1 L449.9,462.6 L451.0,462.0 L452.2,461.5 L453.3,461.1 L454.4,460.6 L455.5,460.2 L456.7,459.8 L457.8,459.4 L458.9,459.1 L460.1,458.7 L461.2,458.4 L462.3,458.1 L463.5,457.9 L464.6,457.6 L465.7,457.4 L466.9,457.1 L468.0,456.9 L469.1,456.7 L470.3,456.5 L471.4,456.3 L472.5,456.1 L473.7,455.8 L474.8,455.6 L475.9,455.4 L477.1,455.2 L478.2,455.0 L479.3,454.7 L480.5,454.5 L481.6,454.2 L482.7,454.0 L483.9,453.7 L485.0,453.4 L486.1,453.1 L487.3,452.7 L488.4,452.3 L489.5,451.9 L490.7,451.5 L491.8,451.0 L492.9,450.5 L494.1,450.0 L495.2,449.4 L496.3,448.7 L497.5,448.0 L498.6,447.2 L499.7,446.3 L500.9,445.3 L502.0,444.2 L503.1,443.0 L504.3,441.6 L505.4,440.1 L506.5,438.5 L507.7,436.8 L508.8,435.0 L509.9,433.0 L511.1,431.0 L512.2,428.8 L513.3,426.3 L514.5,423.5 L515.6,420.4 L516.7,416.7 L517.9,412.6 L519.0,408.1 L520.1,403.4 L521.3,398.6 L522.4,393.9 L523.5,389.2 L524.7,384.8 L525.8,380.5 L526.9,376.6 L528.1,373.1 L529.2,370.0 L530.3,367.4 L531.5,365.3 L532.6,363.7 L533.7,362.6 L534.8,361.8 L536.0,361.4 L537.1,361.3 L538.2,361.5 L539.4,361.9 L540.5,362.6 L541.6,363.7 L542.8,365.1 L543.9,366.9 L545.0,369.2 L546.2,372.0 L547.3,375.1 L548.4,378.5 L549.6,382.2 L550.7,386.0 L551.8,389.9 L553.0,393.8 L554.1,397.6 L555.2,401.5 L556.4,405.3 L557.5,408.9 L558.6,412.4 L559.8,415.6 L560.9,418.5 L562.0,420.9 L563.2,422.9 L564.3,424.3 L565.4,425.3 L566.6,426.0 L567.7,426.5 L568.8,426.8 L570.0,427.1 L571.1,427.2 L572.2,427.4 L573.4,427.5 L574.5,427.6 L575.6,427.7 L576.8,427.8 L577.9,428.0 L579.0,428.3 L580.2,428.6 L581.3,428.9 L582.4,429.3 L583.6,429.7 L584.7,430.1 L585.8,430.6 L587.0,431.1 L588.1,431.6 L589.2,432.2 L590.4,432.9 L591.5,433.6 L592.6,434.4 L593.8,435.2 L594.9,436.0 L596.0,436.9 L597.2,437.8 L598.3,438.7 L599.4,439.7 L600.6,440.6 L601.7,441.4 L602.8,442.3 L604.0,443.1 L605.1,443.9 L606.2,444.5 L607.4,445.2 L608.5,445.7 L609.6,446.2 L610.8,446.6 L611.9,446.9 L613.0,447.1 L614.1,447.3 L615.3,447.4 L616.4,447.5 L617.5,447.5 L618.7,447.5 L619.8,447.4 L620.9,447.3 L622.1,447.2 L623.2,447.0 L624.3,446.9 L625.5,446.7 L626.6,446.5 L627.7,446.3 L628.9,446.1 L630.0,445.9 L631.1,445.7 L632.3,445.5 L633.4,445.2 L634.5,445.0 L635.7,444.8 L636.8,444.6 L637.9,444.4 L639.1,444.2 L640.2,443.9 L641.3,443.7 L642.5,443.5 L643.6,443.3 L644.7,443.1 L645.9,442.9 L647.0,442.7 L648.1,442.5 L649.3,442.3 L650.4,442.1" stroke="#00ff00" stroke-width="1.6" fill="none" stroke-linejoin="round" stroke-linecap="round" />
<path d="M418.2,475.7 L419.3,475.2 L420.4,474.6 L421.6,474.0 L422.7,473.4 L423.8,472.8 L425.0,472.2 L426.1,471.6 L427.2,470.9 L428.4,470.2 L429.5,469.5 L430.6,468.8 L431.8,468.0 L432.9,467.3 L434.0,466.5 L435.2,465.7 L436.3,464.8 L437.4,464.0 L438.6,463.1 L439.7,462.2 L440.8,461.2 L442.0,460.3 L443.1,459.3 L444.2,458.4 L445.4,457.4 L446.5,456.5 L447.6,455.5 L448.8,454.6 L449.9,453.7 L451.0,452.9 L452.2,452.1 L453.3,451.3 L454.4,450.6 L455.5,450.0 L456.7,449.4 L457.8,448.8 L458.9,448.3 L460.1,447.8 L461.2,447.3 L462.3,446.9 L463.5,446.5 L464.6,446.1 L465.7,445.8 L466.9,445.5 L468.0,445.2 L469.1,445.0 L470.3,444.7 L471.4,444.5 L472.5,444.2 L473.7,444.0 L474.8,443.8 L475.9,443.6 L477.1,443.3 L478.2,443.1 L479.3,442.8 L480.5,442.6 L481.6,442.3 L482.7,442.0 L483.9,441.6 L485.0,441.3 L486.1,440.9 L487.3,440.4 L488.4,440.0 L489.5,439.5 L490.7,439.0 L491.8,438.4 L492.9,437.8 L494.1,437.2 L495.2,436.5 L496.3,435.7 L497.5,434.8 L498.6,433.9 L499.7,432.8 L500.9,431.7 L502.0,430.4 L503.1,429.0 L504.3,427.5 L505.4,425.9 L506.5,424.2 L507.7,422.4 L508.8,420.7 L509.9,419.0 L511.1,417.4 L512.2,415.7 L513.3,413.8 L514.5,411.5 L515.6,408.7 L516.7,405.1 L517.9,400.9 L519.0,396.2 L520.1,391.2 L521.3,386.2 L522.4,381.2 L523.5,376.6 L524.7,372.4 L525.8,368.7 L526.9,365.5 L528.1,362.8 L529.2,360.4 L530.3,358.5 L531.5,356.9 L532.6,355.7 L533.7,354.9 L534.8,354.4 L536.0,354.3 L537.1,354.5 L538.2,355.1 L539.4,356.0 L540.5,357.3 L541.6,358.9 L542.8,360.9 L543.9,363.2 L545.0,365.9 L546.2,368.8 L547.3,372.1 L548.4,375.7 L549.6,379.6 L550.7,383.7 L551.8,388.0 L553.0,392.4 L554.1,396.8 L555.2,401.1 L556.4,405.1 L557.5,408.9 L558.6,412.3 L559.8,415.4 L560.9,418.0 L562.0,420.2 L563.2,422.0 L564.3,423.5 L565.4,424.8 L566.6,425.9 L567.7,426.8 L568.8,427.6 L570.0,428.2 L571.1,428.8 L572.2,429.2 L573.4,429.5 L574.5,429.6 L575.6,429.8 L576.8,429.8 L577.9,429.9 L579.0,429.9 L580.2,430.0 L581.3,430.2 L582.4,430.4 L583.6,430.8 L584.7,431.3 L585.8,431.9 L587.0,432.5 L588.1,433.1 L589.2,433.8 L590.4,434.6 L591.5,435.3 L592.6,435.9 L593.8,436.6 L594.9,437.3 L596.0,438.0 L597.2,438.8 L598.3,439.5 L599.4,440.3 L600.6,441.1 L601.7,442.0 L602.8,442.8 L604.0,443.6 L605.1,444.3 L606.2,445.0 L607.4,445.7 L608.5,446.2 L609.6,446.7 L610.8,447.0 L611.9,447.3 L613.0,447.5 L614.1,447.7 L615.3,447.8 L616.4,447.9 L617.5,447.9 L618.7,447.9 L619.8,447.9 L620.9,447.8 L622.1,447.7 L623.2,447.6 L624.3,447.5 L625.5,447.4 L626.6,447.3 L627.7,447.1 L628.9,447.0 L630.0,446.8 L631.1,446.6 L632.3,446.5 L633.4,446.3 L634.5,446.1 L635.7,445.9 L636.8,445.7 L637.9,445.6 L639.1,445.4 L640.2,445.2 L641.3,445.0 L642.5,444.9 L643.6,444.7 L644.7,444.5 L645.9,444.3 L647.0,444.2 L648.1,444.0 L649.3,443.8 L650.4,443.6" stroke="#0000ff" stroke-width="1.6" fill="none" stroke-linejoin="round" stroke-linecap="round" />
<path d="M418.2,475.4 L419.3,474.6 L420.4,473.8 L421.6,473.0 L422.7,472.2 L423.8,471.4 L425.0,470.5 L426.1,469.6 L427.2,468.6 L428.4,467.6 L429.5,466.5 L430.6,465.5 L431.8,464.3 L432.9,463.1 L434.0,461.9 L435.2,460.7 L436.3,459.4 L437.4,458.0 L438.6,456.6 L439.7,455.2 L440.8,453.7 L442.0,452.2 L443.1,450.7 L444.2,449.2 L445.4,447.7 L446.5,446.2 L447.6,444.7 L448.8,443.3 L449.9,442.0 L451.0,440.7 L452.2,439.5 L453.3,438.4 L454.4,437.4 L455.5,436.4 L456.7,435.6 L457.8,434.8 L458.9,434.0 L460.1,433.4 L461.2,432.7 L462.3,432.1 L463.5,431.5 L464.6,431.0 L465.7,430.5 L466.9,429.9 L468.0,429.4 L469.1,428.8 L470.3,428.3 L471.4,427.8 L472.5,427.3 L473.7,426.7 L474.8,426.2 L475.9,425.7 L477.1,425.2 L478.2,424.7 L479.3,424.2 L480.5,423.7 L481.6,423.2 L482.7,422.7 L483.9,422.2 L485.0,421.7 L486.1,421.2 L487.3,420.7 L488.4,420.1 L489.5,419.5 L490.7,418.9 L491.8,418.3 L492.9,417.5 L494.1,416.8 L495.2,416.0 L496.3,415.2 L497.5,414.3 L498.6,413.4 L499.7,412.4 L500.9,411.4 L502.0,410.4 L503.1,409.3 L504.3,408.2 L505.4,407.1 L506.5,405.7 L507.7,404.3 L508.8,402.6 L509.9,400.6 L511.1,398.4 L512.2,395.9 L513.3,393.1 L514.5,390.0 L515.6,386.8 L516.7,383.4 L517.9,379.9 L519.0,376.3 L520.1,372.7 L521.3,369.0 L522.4,365.5 L523.5,362.0 L524.7,358.7 L525.8,355.7 L526.9,352.8 L528.1,350.3 L529.2,348.2 L530.3,346.4 L531.5,345.0 L532.6,344.1 L533.7,343.5 L534.8,343.4 L536.0,343.7 L537.1,344.4 L538.2,345.6 L539.4,347.1 L540.5,349.0 L541.6,351.2 L542.8,353.7 L543.9,356.6 L545.0,359.9 L546.2,363.5 L547.3,367.4 L548.4,371.6 L549.6,376.2 L550.7,380.9 L551.8,385.7 L553.0,390.6 L554.1,395.3 L555.2,399.8 L556.4,404.0 L557.5,407.8 L558.6,411.3 L559.8,414.4 L560.9,417.0 L562.0,419.2 L563.2,421.1 L564.3,422.6 L565.4,423.9 L566.6,425.1 L567.7,426.0 L568.8,426.8 L570.0,427.4 L571.1,427.9 L572.2,428.3 L573.4,428.6 L574.5,428.8 L575.6,429.0 L576.8,429.1 L577.9,429.2 L579.0,429.4 L580.2,429.5 L581.3,429.8 L582.4,430.1 L583.6,430.6 L584.7,431.1 L585.8,431.7 L587.0,432.4 L588.1,433.1 L589.2,433.8 L590.4,434.5 L591.5,435.3 L592.6,436.0 L593.8,436.7 L594.9,437.3 L596.0,438.0 L597.2,438.8 L598.3,439.5 L599.4,440.3 L600.6,441.1 L601.7,442.0 L602.8,442.8 L604.0,443.6 L605.1,444.4 L606.2,445.1 L607.4,445.7 L608.5,446.2 L609.6,446.6 L610.8,446.9 L611.9,447.2 L613.0,447.3 L614.1,447.4 L615.3,447.5 L616.4,447.5 L617.5,447.5 L618.7,447.5 L619.8,447.4 L620.9,447.3 L622.1,447.2 L623.2,447.0 L624.3,446.9 L625.5,446.7 L626.6,446.5 L627.7,446.3 L628.9,446.0 L630.0,445.8 L631.1,445.5 L632.3,445.3 L633.4,445.0 L634.5,444.8 L635.7,444.5 L636.8,444.3 L637.9,444.0 L639.1,443.8 L640.2,443.6 L641.3,443.3 L642.5,443.1 L643.6,442.9 L644.7,442.7 L645.9,442.5 L647.0,442.3 L648.1,442.2 L649.3,442.0 L650.4,441.8" stroke="#00ffff" stroke-width="1.6" fill="none" stroke-linejoin="round" stroke-linecap="round" />
<path d="M418.2,474.9 L419.3,474.0 L420.4,473.1 L421.6,472.1 L422.7,471.0 L423.8,469.9 L425.0,468.7 L426.1,467.3 L427.2,465.8 L428.4,464.2 L429.5,462.5 L430.6,460.7 L431.8,458.9 L432.9,457.0 L434.0,455.0 L435.2,453.1 L436.3,451.1 L437.4,449.2 L438.6,447.3 L439.7,445.4 L440.8,443.6 L442.0,441.8 L443.1,440.1 L444.2,438.4 L445.4,436.8 L446.5,435.3 L447.6,433.7 L448.8,432.3 L449.9,430.9 L451.0,429.5 L452.2,428.1 L453.3,426.9 L454.4,425.6 L455.5,424.4 L456.7,423.3 L457.8,422.1 L458.9,421.0 L460.1,420.0 L461.2,418.9 L462.3,417.9 L463.5,416.9 L464.6,416.0 L465.7,415.0 L466.9,414.1 L468.0,413.2 L469.1,412.3 L470.3,411.4 L471.4,410.5 L472.5,409.6 L473.7,408.7 L474.8,407.8 L475.9,406.9 L477.1,406.0 L478.2,405.1 L479.3,404.2 L480.5,403.3 L481.6,402.4 L482.7,401.5 L483.9,400.6 L485.0,399.7 L486.1,398.8 L487.3,397.9 L488.4,397.0 L489.5,396.2 L490.7,395.3 L491.8,394.5 L492.9,393.6 L494.1,392.8 L495.2,392.0 L496.3,391.1 L497.5,390.3 L498.6,389.4 L499.7,388.6 L500.9,387.7 L502.0,386.8 L503.1,385.9 L504.3,385.0 L505.4,384.0 L506.5,382.9 L507.7,381.7 L508.8,380.3 L509.9,378.8 L511.1,377.1 L512.2,375.2 L513.3,373.1 L514.5,370.7 L515.6,368.2 L516.7,365.6 L517.9,362.8 L519.0,360.0 L520.1,357.2 L521.3,354.3 L522.4,351.4 L523.5,348.5 L524.7,345.5 L525.8,342.6 L526.9,339.8 L528.1,337.2 L529.2,335.1 L530.3,333.5 L531.5,332.6 L532.6,332.2 L533.7,332.2 L534.8,332.5 L536.0,333.3 L537.1,334.5 L538.2,336.2 L539.4,338.6 L540.5,341.5 L541.6,344.9 L542.8,348.8 L543.9,353.1 L545.0,357.6 L546.2,362.3 L547.3,367.0 L548.4,371.7 L549.6,376.1 L550.7,380.4 L551.8,384.6 L553.0,388.8 L554.1,393.0 L555.2,397.2 L556.4,401.4 L557.5,405.4 L558.6,409.2 L559.8,412.5 L560.9,415.2 L562.0,417.2 L563.2,418.5 L564.3,419.6 L565.4,420.5 L566.6,421.5 L567.7,422.5 L568.8,423.5 L570.0,424.4 L571.1,425.3 L572.2,426.0 L573.4,426.5 L574.5,426.9 L575.6,427.2 L576.8,427.5 L577.9,427.7 L579.0,427.9 L580.2,428.1 L581.3,428.4 L582.4,428.8 L583.6,429.3 L584.7,429.8 L585.8,430.5 L587.0,431.2 L588.1,432.0 L589.2,432.8 L590.4,433.7 L591.5,434.5 L592.6,435.4 L593.8,436.3 L594.9,437.2 L596.0,438.1 L597.2,439.0 L598.3,439.9 L599.4,440.8 L600.6,441.7 L601.7,442.6 L602.8,443.4 L604.0,444.3 L605.1,445.0 L606.2,445.7 L607.4,446.3 L608.5,446.9 L609.6,447.4 L610.8,447.8 L611.9,448.1 L613.0,448.4 L614.1,448.5 L615.3,448.6 L616.4,448.7 L617.5,448.7 L618.7,448.6 L619.8,448.4 L620.9,448.3 L622.1,448.1 L623.2,447.8 L624.3,447.6 L625.5,447.3 L626.6,447.0 L627.7,446.8 L628.9,446.5 L630.0,446.2 L631.1,446.0 L632.3,445.7 L633.4,445.4 L634.5,445.1 L635.7,444.9 L636.8,444.6 L637.9,444.3 L639.1,444.1 L640.2,443.9 L641.3,443.6 L642.5,443.4 L643.6,443.1 L644.7,442.9 L645.9,442.7 L647.0,442.5 L648.1,442.2 L649.3,442.0 L650.4,441.8" stroke="#ff0000" stroke-width="1.6" fill="none" stroke-linejoin="round" stroke-linecap="round" />
<text x="422.3" y="350.7" font-size="17">(e)</text>
<path d="M707.8,508.1V504.9M707.8,332V335.2M736.8,508.1V504.9M736.8,332V335.2M765.8,508.1V504.9M765.8,332V335.2M794.8,508.1V504.9M794.8,332V335.2M823.8,508.1V504.9M823.8,332V335.2M852.8,508.1V504.9M852.8,332V335.2M881.8,508.1V504.9M881.8,332V335.2M910.8,508.1V504.9M910.8,332V335.2M939.8,508.1V504.9M939.8,332V335.2M702,502.84H705.2M939.8,502.84H936.6M702,476.56H705.2M939.8,476.56H936.6M702,450.28H705.2M939.8,450.28H936.6M702,423.99H705.2M939.8,423.99H936.6M702,397.71H705.2M939.8,397.71H936.6M702,371.43H705.2M939.8,371.43H936.6M702,345.14H705.2M939.8,345.14H936.6" stroke="#222" stroke-width="1.3" fill="none"/>
<path d="M722.3,508.1V506.3M722.3,332V333.8M751.3,508.1V506.3M751.3,332V333.8M780.3,508.1V506.3M780.3,332V333.8M809.3,508.1V506.3M809.3,332V333.8M838.3,508.1V506.3M838.3,332V333.8M867.3,508.1V506.3M867.3,332V333.8M896.3,508.1V506.3M896.3,332V333.8M925.3,508.1V506.3M925.3,332V333.8M702,489.7H703.8M939.8,489.7H938M702,463.42H703.8M939.8,463.42H938M702,437.13H703.8M939.8,437.13H938M702,410.85H703.8M939.8,410.85H938M702,384.57H703.8M939.8,384.57H938M702,358.28H703.8M939.8,358.28H938M702,332H703.8M939.8,332H938" stroke="#222" stroke-width="1.1" fill="none"/>
<rect x="702" y="332" width="237.8" height="176.1" fill="none" stroke="#222" stroke-width="1.2"/>
<g font-size="13.5" fill="#1a1a1a"><text x="707.8" y="523.1" text-anchor="middle">0.0</text><text x="736.8" y="523.1" text-anchor="middle">0.5</text><text x="765.8" y="523.1" text-anchor="middle">1.0</text><text x="794.8" y="523.1" text-anchor="middle">1.5</text><text x="823.8" y="523.1" text-anchor="middle">2.0</text><text x="852.8" y="523.1" text-anchor="middle">2.5</text><text x="881.8" y="523.1" text-anchor="middle">3.0</text><text x="910.8" y="523.1" text-anchor="middle">3.5</text><text x="939.8" y="523.1" text-anchor="middle">4.0</text><text x="698.2" y="507.04" text-anchor="end">0.0</text><text x="698.2" y="480.76" text-anchor="end">0.5</text><text x="698.2" y="454.48" text-anchor="end">1.0</text><text x="698.2" y="428.19" text-anchor="end">1.5</text><text x="698.2" y="401.91" text-anchor="end">2.0</text><text x="698.2" y="375.63" text-anchor="end">2.5</text><text x="698.2" y="349.34" text-anchor="end">3.0</text></g>
<path d="M714.53,503.42 C715.23,502.33 717.26,498.89 718.75,496.86 C720.23,494.83 721.68,493.19 723.44,491.24 C725.19,489.28 727.34,487.02 729.29,485.14 C731.25,483.27 732.22,482.21 735.15,479.99 C738.08,477.76 742.57,474.72 746.87,471.79 C751.17,468.86 758.59,463.97 760.93,462.41 L910.92,346.87" stroke="#800000" stroke-width="1.4" fill="none" stroke-linejoin="round" stroke-linecap="round" />
<g fill="none" stroke="#800000" stroke-width="1.0"><circle cx="916.08" cy="352.73" r="2.9"/><circle cx="891" cy="370.31" r="2.9"/><circle cx="869.21" cy="386.25" r="2.9"/><circle cx="850.69" cy="400.54" r="2.9"/><circle cx="834.05" cy="413.2" r="2.9"/><circle cx="819.52" cy="423.74" r="2.9"/><circle cx="806.63" cy="432.65" r="2.9"/><circle cx="795.62" cy="440.15" r="2.9"/><circle cx="783.67" cy="446.24" r="2.9"/><circle cx="774.53" cy="452.8" r="2.9"/><circle cx="765.62" cy="458.43" r="2.9"/><circle cx="757.42" cy="463.58" r="2.9"/><circle cx="750.39" cy="468.27" r="2.9"/><circle cx="744.53" cy="472.96" r="2.9"/><circle cx="738.67" cy="477.64" r="2.9"/><circle cx="732.81" cy="482.33" r="2.9"/><circle cx="728.12" cy="486.55" r="2.9"/><circle cx="723.44" cy="491.24" r="2.9"/><circle cx="719.92" cy="495.22" r="2.9"/><circle cx="716.87" cy="499.21" r="2.9"/><circle cx="715" cy="502.25" r="2.9"/></g>
<path d="M714.53,503.42 C715.23,502.33 717.26,498.81 718.75,496.86 C720.23,494.91 721.68,493.58 723.44,491.71 C725.19,489.83 727.34,487.57 729.29,485.61 C731.25,483.66 732.22,482.49 735.15,479.99 C738.08,477.49 742.97,473.43 746.87,470.61 C750.78,467.8 756.64,464.36 758.59,463.11 L896.39,351.56" stroke="#ff00ff" stroke-width="1.4" fill="none" stroke-linejoin="round" stroke-linecap="round" />
<g fill="none" stroke="#ff00ff" stroke-width="1.0"><circle cx="895.69" cy="357.65" r="2.9"/><circle cx="872.25" cy="376.17" r="2.9"/><circle cx="852.33" cy="392.1" r="2.9"/><circle cx="834.05" cy="405.7" r="2.9"/><circle cx="819.05" cy="417.88" r="2.9"/><circle cx="805.46" cy="428.9" r="2.9"/><circle cx="793.74" cy="437.8" r="2.9"/><circle cx="783.2" cy="445.54" r="2.9"/><circle cx="774.53" cy="451.4" r="2.9"/><circle cx="766.79" cy="457.72" r="2.9"/><circle cx="757.42" cy="463.11" r="2.9"/><circle cx="750.39" cy="467.8" r="2.9"/><circle cx="744.06" cy="472.49" r="2.9"/><circle cx="737.5" cy="478.11" r="2.9"/><circle cx="731.64" cy="483.5" r="2.9"/><circle cx="726.25" cy="488.19" r="2.9"/><circle cx="721.56" cy="493.35" r="2.9"/><circle cx="717.81" cy="498.27" r="2.9"/><circle cx="715.23" cy="502.25" r="2.9"/></g>
<path d="M714.53,503.42 C715.23,502.25 717.26,498.5 718.75,496.39 C720.23,494.28 721.48,492.92 723.44,490.77 C725.39,488.62 727.34,486.67 730.47,483.5 C733.59,480.34 740.23,473.74 742.18,471.79 L885.14,354.61" stroke="#00ff00" stroke-width="1.4" fill="none" stroke-linejoin="round" stroke-linecap="round" />
<g fill="none" stroke="#00ff00" stroke-width="1.0"><circle cx="884.44" cy="360.47" r="2.9"/><circle cx="861.71" cy="379.45" r="2.9"/><circle cx="841.55" cy="394.92" r="2.9"/><circle cx="824.21" cy="408.51" r="2.9"/><circle cx="807.8" cy="420.93" r="2.9"/><circle cx="793.74" cy="431.95" r="2.9"/><circle cx="782.02" cy="442.02" r="2.9"/><circle cx="770.31" cy="451.4" r="2.9"/><circle cx="761.4" cy="458.43" r="2.9"/><circle cx="753.43" cy="464.52" r="2.9"/><circle cx="746.4" cy="470.15" r="2.9"/><circle cx="739.84" cy="475.77" r="2.9"/><circle cx="733.98" cy="481.16" r="2.9"/><circle cx="728.12" cy="486.55" r="2.9"/><circle cx="722.97" cy="491.71" r="2.9"/><circle cx="718.75" cy="496.86" r="2.9"/><circle cx="715.47" cy="501.78" r="2.9"/></g>
<path d="M714.53,503.42 C715.16,502.25 716.99,498.54 718.28,496.39 C719.57,494.24 720.23,493.07 722.26,490.53 C724.29,488 727.15,484.48 730.47,481.16 C733.79,477.84 740.23,472.37 742.18,470.61 L875.77,353.44" stroke="#00ffff" stroke-width="1.4" fill="none" stroke-linejoin="round" stroke-linecap="round" />
<g fill="none" stroke="#00ffff" stroke-width="1.0"><circle cx="874.6" cy="352.73" r="2.9"/><circle cx="862.17" cy="365.62" r="2.9"/><circle cx="840.15" cy="383.43" r="2.9"/><circle cx="821.4" cy="399.37" r="2.9"/><circle cx="804.76" cy="412.73" r="2.9"/><circle cx="790.7" cy="425.38" r="2.9"/><circle cx="778.74" cy="436.63" r="2.9"/><circle cx="767.96" cy="445.3" r="2.9"/><circle cx="759.76" cy="453.74" r="2.9"/><circle cx="752.73" cy="460.07" r="2.9"/><circle cx="746.87" cy="465.93" r="2.9"/><circle cx="741.01" cy="471.32" r="2.9"/><circle cx="735.15" cy="477.18" r="2.9"/><circle cx="729.29" cy="482.8" r="2.9"/><circle cx="724.61" cy="488.19" r="2.9"/><circle cx="720.62" cy="493.35" r="2.9"/><circle cx="716.87" cy="498.74" r="2.9"/></g>
<path d="M714.53,503.42 C715.16,502.25 716.99,498.5 718.28,496.39 C719.57,494.28 720.23,493.19 722.26,490.77 C724.29,488.35 727.15,485.14 730.47,481.86 C733.79,478.58 740.23,472.88 742.18,471.08 L878.11,355.31" stroke="#0000ff" stroke-width="1.4" fill="none" stroke-linejoin="round" stroke-linecap="round" />
<g fill="none" stroke="#0000ff" stroke-width="1.0"><circle cx="879.28" cy="354.14" r="2.9"/><circle cx="855.85" cy="375" r="2.9"/><circle cx="836.63" cy="392.1" r="2.9"/><circle cx="819.99" cy="406.87" r="2.9"/><circle cx="807.8" cy="419.76" r="2.9"/><circle cx="794.91" cy="430.77" r="2.9"/><circle cx="783.2" cy="440.62" r="2.9"/><circle cx="772.65" cy="449.05" r="2.9"/><circle cx="763.28" cy="456.55" r="2.9"/><circle cx="755.07" cy="463.11" r="2.9"/><circle cx="748.04" cy="468.74" r="2.9"/><circle cx="741.72" cy="474.13" r="2.9"/><circle cx="735.62" cy="479.52" r="2.9"/><circle cx="730" cy="484.68" r="2.9"/><circle cx="724.84" cy="489.83" r="2.9"/><circle cx="720.62" cy="494.75" r="2.9"/><circle cx="716.87" cy="499.67" r="2.9"/></g>
<path d="M714.06,503.42 C714.37,502.56 715.16,500.03 715.94,498.27 C716.72,496.51 717.58,494.75 718.75,492.88 C719.92,491 721.33,489.17 722.97,487.02 C724.61,484.87 726.17,482.92 728.59,479.99 C731.01,477.06 736.01,471.2 737.5,469.44 L848.82,357.65" stroke="#ff0000" stroke-width="1.4" fill="none" stroke-linejoin="round" stroke-linecap="round" />
<g fill="none" stroke="#ff0000" stroke-width="1.0"><circle cx="853.5" cy="358.59" r="2.9"/><circle cx="830.07" cy="378.51" r="2.9"/><circle cx="810.15" cy="395.62" r="2.9"/><circle cx="793.04" cy="410.85" r="2.9"/><circle cx="778.98" cy="424.21" r="2.9"/><circle cx="766.79" cy="436.63" r="2.9"/><circle cx="756.71" cy="446.71" r="2.9"/><circle cx="748.75" cy="456.08" r="2.9"/><circle cx="742.18" cy="463.58" r="2.9"/><circle cx="736.79" cy="470.15" r="2.9"/><circle cx="732.34" cy="475.3" r="2.9"/><circle cx="728.59" cy="479.99" r="2.9"/><circle cx="725.31" cy="484.68" r="2.9"/><circle cx="722.26" cy="489.36" r="2.9"/><circle cx="719.92" cy="494.05" r="2.9"/><circle cx="717.58" cy="498.74" r="2.9"/><circle cx="715.47" cy="502.25" r="2.9"/><circle cx="714.53" cy="503.89" r="2.9"/></g>
<path d="M918.8,342.4L865.05,342.4" stroke="#ff0000" stroke-width="2.6"/><path d="M856.3,342.4L869.3,338.15L866.05,342.4L869.3,346.65Z" fill="#ff0000"/>
<text x="709.5" y="353.8" font-size="17">(f)</text>
<path d="M134.26,735.3V732.1M134.26,558.8V562M190.88,735.3V732.1M190.88,558.8V562M247.5,735.3V732.1M247.5,558.8V562M304.12,735.3V732.1M304.12,558.8V562M360.74,735.3V732.1M360.74,558.8V562M128.6,735.3H131.8M366.4,735.3H363.2M128.6,713.24H131.8M366.4,713.24H363.2M128.6,691.17H131.8M366.4,691.17H363.2M128.6,669.11H131.8M366.4,669.11H363.2M128.6,647.05H131.8M366.4,647.05H363.2M128.6,624.99H131.8M366.4,624.99H363.2M128.6,602.92H131.8M366.4,602.92H363.2M128.6,580.86H131.8M366.4,580.86H363.2M128.6,558.8H131.8M366.4,558.8H363.2" stroke="#222" stroke-width="1.3" fill="none"/>
<path d="M162.57,735.3V733.5M162.57,558.8V560.6M219.19,735.3V733.5M219.19,558.8V560.6M275.81,735.3V733.5M275.81,558.8V560.6M332.43,735.3V733.5M332.43,558.8V560.6M128.6,724.27H130.4M366.4,724.27H364.6M128.6,702.21H130.4M366.4,702.21H364.6M128.6,680.14H130.4M366.4,680.14H364.6M128.6,658.08H130.4M366.4,658.08H364.6M128.6,636.02H130.4M366.4,636.02H364.6M128.6,613.96H130.4M366.4,613.96H364.6M128.6,591.89H130.4M366.4,591.89H364.6M128.6,569.83H130.4M366.4,569.83H364.6" stroke="#222" stroke-width="1.1" fill="none"/>
<rect x="128.6" y="558.8" width="237.8" height="176.5" fill="none" stroke="#222" stroke-width="1.2"/>
<g font-size="14" fill="#1a1a1a"><text x="134.26" y="750.3" text-anchor="middle">-0.2</text><text x="190.88" y="750.3" text-anchor="middle">0.0</text><text x="247.5" y="750.3" text-anchor="middle">0.2</text><text x="304.12" y="750.3" text-anchor="middle">0.4</text><text x="360.74" y="750.3" text-anchor="middle">0.6</text><text x="125" y="739.6" text-anchor="end">-20</text><text x="125" y="717.54" text-anchor="end">-15</text><text x="125" y="695.47" text-anchor="end">-10</text><text x="125" y="673.41" text-anchor="end">-5</text><text x="125" y="651.35" text-anchor="end">0</text><text x="125" y="629.29" text-anchor="end">5</text><text x="125" y="607.22" text-anchor="end">10</text><text x="125" y="585.16" text-anchor="end">15</text><text x="125" y="563.1" text-anchor="end">20</text></g>
<path d="M134.0,675.3 L135.1,674.4 L136.2,673.6 L137.4,672.7 L138.5,671.9 L139.6,671.0 L140.8,670.2 L141.9,669.4 L143.0,668.5 L144.2,667.7 L145.3,666.9 L146.4,666.0 L147.6,665.2 L148.7,664.4 L149.8,663.6 L151.0,662.8 L152.1,662.0 L153.2,661.3 L154.4,660.6 L155.5,659.9 L156.6,659.2 L157.8,658.5 L158.9,657.9 L160.0,657.4 L161.2,656.9 L162.3,656.4 L163.4,656.0 L164.6,655.6 L165.7,655.3 L166.8,655.0 L168.0,654.7 L169.1,654.5 L170.2,654.3 L171.3,654.1 L172.5,653.9 L173.6,653.7 L174.7,653.6 L175.9,653.5 L177.0,653.4 L178.1,653.3 L179.3,653.2 L180.4,653.1 L181.5,653.0 L182.7,652.9 L183.8,652.9 L184.9,652.8 L186.1,652.7 L187.2,652.6 L188.3,652.6 L189.5,652.5 L190.6,652.4 L191.7,652.3 L192.9,652.2 L194.0,652.1 L195.1,652.0 L196.3,651.9 L197.4,651.8 L198.5,651.6 L199.7,651.5 L200.8,651.3 L201.9,651.1 L203.1,650.9 L204.2,650.7 L205.3,650.5 L206.5,650.3 L207.6,650.1 L208.7,649.9 L209.8,649.6 L211.0,649.4 L212.1,649.1 L213.2,648.9 L214.4,648.6 L215.5,648.4 L216.6,648.1 L217.8,647.8 L218.9,647.5 L220.0,647.2 L221.2,646.8 L222.3,646.4 L223.4,646.0 L224.6,645.6 L225.7,645.1 L226.8,644.6 L228.0,644.0 L229.1,643.4 L230.2,642.7 L231.4,642.0 L232.5,641.3 L233.6,640.5 L234.8,639.6 L235.9,638.6 L237.0,637.6 L238.2,636.4 L239.3,635.0 L240.4,633.5 L241.6,631.7 L242.7,629.8 L243.8,627.5 L245.0,625.1 L246.1,622.3 L247.2,619.3 L248.3,616.0 L249.5,612.5 L250.6,608.7 L251.7,604.8 L252.9,600.8 L254.0,596.9 L255.1,593.1 L256.3,589.7 L257.4,586.5 L258.5,583.8 L259.7,581.3 L260.8,579.1 L261.9,577.2 L263.1,575.5 L264.2,574.0 L265.3,572.7 L266.5,571.7 L267.6,571.0 L268.7,570.5 L269.9,570.3 L271.0,570.3 L272.1,570.5 L273.3,570.9 L274.4,571.6 L275.5,572.4 L276.7,573.4 L277.8,574.5 L278.9,575.8 L280.1,577.2 L281.2,578.6 L282.3,580.0 L283.5,581.5 L284.6,582.9 L285.7,584.3 L286.9,585.6 L288.0,586.9 L289.1,588.2 L290.2,589.4 L291.4,590.5 L292.5,591.5 L293.6,592.5 L294.8,593.4 L295.9,594.2 L297.0,595.0 L298.2,595.7 L299.3,596.4 L300.4,597.0 L301.6,597.6 L302.7,598.2 L303.8,598.7 L305.0,599.2 L306.1,599.6 L307.2,600.1 L308.4,600.5 L309.5,600.9 L310.6,601.2 L311.8,601.6 L312.9,601.9 L314.0,602.2 L315.2,602.5 L316.3,602.8 L317.4,603.0 L318.6,603.2 L319.7,603.5 L320.8,603.7 L322.0,603.9 L323.1,604.1 L324.2,604.3 L325.4,604.4 L326.5,604.6 L327.6,604.8 L328.7,604.9 L329.9,605.1 L331.0,605.2 L332.1,605.4 L333.3,605.5 L334.4,605.6 L335.5,605.8 L336.7,605.9 L337.8,606.0 L338.9,606.1 L340.1,606.2 L341.2,606.3 L342.3,606.4 L343.5,606.5 L344.6,606.6 L345.7,606.7 L346.9,606.7 L348.0,606.8 L349.1,606.9 L350.3,606.9 L351.4,607.0 L352.5,607.0 L353.7,607.1 L354.8,607.1 L355.9,607.2 L357.1,607.2 L358.2,607.2 L359.3,607.3 L360.5,607.3 L360.7,607.3 L360.7,607.3 L360.5,608.0 L359.3,610.8 L358.2,613.5 L357.1,616.0 L355.9,618.2 L354.8,620.2 L353.7,621.8 L352.5,623.1 L351.4,624.2 L350.3,625.0 L349.1,625.6 L348.0,626.1 L346.9,626.5 L345.7,626.8 L344.6,627.1 L343.5,627.3 L342.3,627.6 L341.2,628.0 L340.1,628.3 L338.9,628.7 L337.8,629.1 L336.7,629.5 L335.5,629.9 L334.4,630.3 L333.3,630.8 L332.1,631.2 L331.0,631.6 L329.9,632.0 L328.7,632.4 L327.6,632.8 L326.5,633.1 L325.4,633.5 L324.2,633.8 L323.1,634.1 L322.0,634.4 L320.8,634.7 L319.7,634.9 L318.6,635.2 L317.4,635.4 L316.3,635.7 L315.2,635.9 L314.0,636.2 L312.9,636.4 L311.8,636.6 L310.6,636.9 L309.5,637.1 L308.4,637.3 L307.2,637.6 L306.1,637.8 L305.0,638.1 L303.8,638.3 L302.7,638.6 L301.6,638.9 L300.4,639.2 L299.3,639.5 L298.2,639.8 L297.0,640.2 L295.9,640.5 L294.8,640.9 L293.6,641.2 L292.5,641.6 L291.4,642.0 L290.2,642.4 L289.1,642.9 L288.0,643.3 L286.9,643.8 L285.7,644.2 L284.6,644.7 L283.5,645.2 L282.3,645.7 L281.2,646.2 L280.1,646.8 L278.9,647.4 L277.8,648.1 L276.7,648.9 L275.5,649.7 L274.4,650.5 L273.3,651.5 L272.1,652.6 L271.0,653.9 L269.9,655.3 L268.7,657.1 L267.6,659.2 L266.5,661.7 L265.3,664.6 L264.2,667.7 L263.1,671.1 L261.9,674.6 L260.8,678.2 L259.7,681.8 L258.5,685.4 L257.4,689.0 L256.3,692.6 L255.1,696.1 L254.0,699.6 L252.9,703.0 L251.7,706.3 L250.6,709.5 L249.5,712.6 L248.3,715.4 L247.2,718.0 L246.1,720.3 L245.0,722.3 L243.8,723.9 L242.7,725.0 L241.6,725.9 L240.4,726.4 L239.3,726.6 L238.2,726.7 L237.0,726.5 L235.9,726.3 L234.8,725.9 L233.6,725.5 L232.5,725.0 L231.4,724.4 L230.2,723.7 L229.1,722.9 L228.0,722.1 L226.8,721.3 L225.7,720.4 L224.6,719.5 L223.4,718.5 L222.3,717.5 L221.2,716.4 L220.0,715.4 L218.9,714.3 L217.8,713.2 L216.6,712.1 L215.5,710.9 L214.4,709.8 L213.2,708.7 L212.1,707.6 L211.0,706.4 L209.8,705.3 L208.7,704.3 L207.6,703.2 L206.5,702.2 L205.3,701.2 L204.2,700.3 L203.1,699.4 L201.9,698.6 L200.8,697.8 L199.7,697.1 L198.5,696.4 L197.4,695.8 L196.3,695.2 L195.1,694.6 L194.0,694.1 L192.9,693.6 L191.7,693.1 L190.6,692.6 L189.5,692.2 L188.3,691.8 L187.2,691.4 L186.1,691.0 L184.9,690.6 L183.8,690.2 L182.7,689.8 L181.5,689.4 L180.4,689.0 L179.3,688.6 L178.1,688.3 L177.0,687.9 L175.9,687.5 L174.7,687.2 L173.6,686.8 L172.5,686.5 L171.3,686.2 L170.2,685.9 L169.1,685.6 L168.0,685.3 L166.8,685.1 L165.7,684.9 L164.6,684.7 L163.4,684.5 L162.3,684.3 L161.2,684.2 L160.0,684.1 L158.9,684.0 L157.8,684.0 L156.6,683.9 L155.5,683.8 L154.4,683.7 L153.2,683.6 L152.1,683.5 L151.0,683.4 L149.8,683.2 L148.7,683.0 L147.6,682.7 L146.4,682.4 L145.3,682.1 L144.2,681.7 L143.0,681.2 L141.9,680.6 L140.8,680.0 L139.6,679.3 L138.5,678.5 L137.4,677.8 L136.2,677.0 L135.1,676.1 L134.0,675.3Z" stroke="#ff0000" stroke-width="1.6" fill="none" stroke-linejoin="round" stroke-linecap="round" />
<path d="M134.83,652.65 C141.2,652.46 160.68,651.78 173.05,651.46 C185.41,651.15 199,651.49 209,650.76 C219,650.02 226.27,649.07 233.06,647.05 C239.86,645.03 245.38,641.02 249.76,638.67 C254.15,636.31 256.42,634.18 259.39,632.93 C262.36,631.68 264.01,630.98 267.6,631.16 C271.19,631.35 274.72,632.71 280.91,634.03 C287.09,635.36 294.73,637.75 304.69,639.11 C314.64,640.47 331.3,641.94 340.64,642.2 C349.98,642.45 357.39,640.91 360.74,640.65" stroke="#111" stroke-width="1.5" fill="none" stroke-linejoin="round" stroke-linecap="round" stroke-dasharray="4.5 2.6" stroke-linecap="butt"/>
<path d="M134.83,652.79 C139.22,652.86 150.78,652.97 161.16,653.23 C171.54,653.48 186.3,653.15 197.11,654.33 C207.91,655.51 218.62,658.82 225.98,660.29 C233.35,661.76 237.31,662.93 241.27,663.16 C245.24,663.38 246.75,662.88 249.76,661.61 C252.78,660.35 255.38,657.77 259.39,655.57 C263.4,653.36 269.06,650.16 273.83,648.37 C278.59,646.59 280.81,645.65 287.98,644.84 C295.15,644.03 304.73,644.03 316.86,643.52 C328.98,643.01 353.42,642.05 360.74,641.75" stroke="#111" stroke-width="1.5" fill="none" stroke-linejoin="round" stroke-linecap="round" stroke-dasharray="4.5 2.6" stroke-linecap="butt"/>
<text x="136.6" y="583.9" font-size="17">(g)</text>
<text x="176.4" y="576.5" font-size="10.4" fill="#222">Au-1,5PDT-AuNS</text>
<text x="195.6" y="624.4" font-size="10.4" fill="#222">Au Bare</text>
<path d="M231.5,628L247.14,634.66" stroke="#000" stroke-width="2.6"/><path d="M254.5,637.8L244.75,637.72L246.22,634.27L247.69,630.82Z" fill="#000"/>
<path d="M422.26,733.5V730.3M422.26,556.8V560M478.83,733.5V730.3M478.83,556.8V560M535.4,733.5V730.3M535.4,556.8V560M591.97,733.5V730.3M591.97,556.8V560M648.54,733.5V730.3M648.54,556.8V560M416.6,719.91H419.8M654.2,719.91H651M416.6,692.72H419.8M654.2,692.72H651M416.6,665.54H419.8M654.2,665.54H651M416.6,638.35H419.8M654.2,638.35H651M416.6,611.17H419.8M654.2,611.17H651M416.6,583.98H419.8M654.2,583.98H651M416.6,556.8H419.8M654.2,556.8H651" stroke="#222" stroke-width="1.3" fill="none"/>
<path d="M450.54,733.5V731.7M450.54,556.8V558.6M507.11,733.5V731.7M507.11,556.8V558.6M563.69,733.5V731.7M563.69,556.8V558.6M620.26,733.5V731.7M620.26,556.8V558.6M416.6,733.5H418.4M654.2,733.5H652.4M416.6,706.32H418.4M654.2,706.32H652.4M416.6,679.13H418.4M654.2,679.13H652.4M416.6,651.95H418.4M654.2,651.95H652.4M416.6,624.76H418.4M654.2,624.76H652.4M416.6,597.58H418.4M654.2,597.58H652.4M416.6,570.39H418.4M654.2,570.39H652.4" stroke="#222" stroke-width="1.1" fill="none"/>
<rect x="416.6" y="556.8" width="237.6" height="176.7" fill="none" stroke="#222" stroke-width="1.2"/>
<g font-size="14" fill="#1a1a1a"><text x="422.26" y="748.5" text-anchor="middle">-0.2</text><text x="478.83" y="748.5" text-anchor="middle">0.0</text><text x="535.4" y="748.5" text-anchor="middle">0.2</text><text x="591.97" y="748.5" text-anchor="middle">0.4</text><text x="648.54" y="748.5" text-anchor="middle">0.6</text><text x="413" y="724.21" text-anchor="end">0</text><text x="413" y="697.02" text-anchor="end">20</text><text x="413" y="669.84" text-anchor="end">40</text><text x="413" y="642.65" text-anchor="end">60</text><text x="413" y="615.47" text-anchor="end">80</text><text x="413" y="588.28" text-anchor="end">100</text><text x="413" y="561.1" text-anchor="end">120</text></g>
<path d="M422.3,694.8 L423.4,694.0 L424.5,693.3 L425.7,692.5 L426.8,691.6 L427.9,690.7 L429.0,689.7 L430.2,688.6 L431.3,687.4 L432.4,686.1 L433.6,684.7 L434.7,683.3 L435.8,681.8 L437.0,680.3 L438.1,678.7 L439.2,677.1 L440.4,675.5 L441.5,674.0 L442.6,672.4 L443.8,670.9 L444.9,669.4 L446.0,668.0 L447.1,666.6 L448.3,665.3 L449.4,664.0 L450.5,662.7 L451.7,661.5 L452.8,660.3 L453.9,659.1 L455.1,658.0 L456.2,657.0 L457.3,655.9 L458.5,654.9 L459.6,653.9 L460.7,653.0 L461.9,652.1 L463.0,651.2 L464.1,650.3 L465.3,649.5 L466.4,648.7 L467.5,647.9 L468.6,647.1 L469.8,646.3 L470.9,645.6 L472.0,644.8 L473.2,644.1 L474.3,643.4 L475.4,642.6 L476.6,641.9 L477.7,641.2 L478.8,640.5 L480.0,639.8 L481.1,639.1 L482.2,638.4 L483.4,637.6 L484.5,636.9 L485.6,636.2 L486.7,635.4 L487.9,634.7 L489.0,634.0 L490.1,633.2 L491.3,632.5 L492.4,631.8 L493.5,631.1 L494.7,630.4 L495.8,629.7 L496.9,629.0 L498.1,628.4 L499.2,627.7 L500.3,627.0 L501.5,626.3 L502.6,625.7 L503.7,625.0 L504.9,624.3 L506.0,623.5 L507.1,622.8 L508.2,622.0 L509.4,621.2 L510.5,620.3 L511.6,619.4 L512.8,618.3 L513.9,617.1 L515.0,615.7 L516.2,614.2 L517.3,612.4 L518.4,610.5 L519.6,608.5 L520.7,606.4 L521.8,604.1 L523.0,601.9 L524.1,599.6 L525.2,597.2 L526.3,594.9 L527.5,592.5 L528.6,590.2 L529.7,587.8 L530.9,585.5 L532.0,583.5 L533.1,581.7 L534.3,580.5 L535.4,579.7 L536.5,579.4 L537.7,579.4 L538.8,579.6 L539.9,580.2 L541.1,581.2 L542.2,582.6 L543.3,584.5 L544.5,586.9 L545.6,589.7 L546.7,592.8 L547.8,596.2 L549.0,599.9 L550.1,603.7 L551.2,607.5 L552.4,611.3 L553.5,614.9 L554.6,618.4 L555.8,621.8 L556.9,625.1 L558.0,628.5 L559.2,631.9 L560.3,635.3 L561.4,638.6 L562.6,641.6 L563.7,644.3 L564.8,646.5 L565.9,648.1 L567.1,649.2 L568.2,650.0 L569.3,650.8 L570.5,651.6 L571.6,652.4 L572.7,653.2 L573.9,654.0 L575.0,654.6 L576.1,655.2 L577.3,655.6 L578.4,656.0 L579.5,656.2 L580.7,656.4 L581.8,656.6 L582.9,656.8 L584.1,656.9 L585.2,657.2 L586.3,657.5 L587.4,657.9 L588.6,658.3 L589.7,658.8 L590.8,659.4 L592.0,660.1 L593.1,660.7 L594.2,661.4 L595.4,662.1 L596.5,662.8 L597.6,663.6 L598.8,664.3 L599.9,665.0 L601.0,665.8 L602.2,666.5 L603.3,667.2 L604.4,667.9 L605.5,668.6 L606.7,669.3 L607.8,670.0 L608.9,670.6 L610.1,671.2 L611.2,671.7 L612.3,672.1 L613.5,672.5 L614.6,672.8 L615.7,673.1 L616.9,673.3 L618.0,673.4 L619.1,673.5 L620.3,673.6 L621.4,673.5 L622.5,673.5 L623.7,673.4 L624.8,673.2 L625.9,673.0 L627.0,672.9 L628.2,672.7 L629.3,672.4 L630.4,672.2 L631.6,672.0 L632.7,671.8 L633.8,671.6 L635.0,671.4 L636.1,671.1 L637.2,670.9 L638.4,670.7 L639.5,670.5 L640.6,670.3 L641.8,670.1 L642.9,669.9 L644.0,669.7 L645.1,669.5 L646.3,669.3 L647.4,669.1 L648.5,668.9 L649.7,668.7 L650.8,668.5 L651.9,668.3 L653.1,668.2 L654.2,668.0" stroke="#ff0000" stroke-width="1.6" fill="none" stroke-linejoin="round" stroke-linecap="round" />
<path d="M422.26,719.91 C431.69,719.91 464.69,719.98 478.83,719.91 C492.97,719.84 500.04,720.07 507.11,719.5 C514.19,718.93 516.54,718.07 521.26,716.51 C525.97,714.95 531.3,711.73 535.4,710.12 C539.5,708.51 543.04,707.04 545.87,706.86 C548.69,706.68 549.87,707.77 552.37,709.03 C554.87,710.3 557.79,712.88 560.86,714.47 C563.92,716.06 567.46,717.69 570.76,718.55 C574.06,719.41 574.76,719.41 580.66,719.64 C586.55,719.86 593.86,719.86 606.11,719.91 C618.37,719.95 646.19,719.91 654.2,719.91" stroke="#111" stroke-width="1.5" fill="none" stroke-linejoin="round" stroke-linecap="round" stroke-dasharray="4.5 2.6" stroke-linecap="butt"/>
<text x="623.4" y="581.8" font-size="17">(h)</text>
<text x="441.5" y="588.7" font-size="10.5" fill="#222">Au-1,5PDT-AuNS</text>
<text x="573.8" y="715.8" font-size="10.5" fill="#222">Au Bare</text>
<text x="427.9" y="709.4" font-size="10.1" fill="#222">18.80μA</text>
<path d="M422.26,714.91V699.35" stroke="#ff8000" stroke-width="2"/>
<path d="M422.26,719.91l-3.5,-7h7Z M422.26,694.35l-3.5,7h7Z" fill="#ff8000"/>
<path d="M719.03,731.3V728.1M719.03,554.6V557.8M750.7,731.3V728.1M750.7,554.6V557.8M782.37,731.3V728.1M782.37,554.6V557.8M814.03,731.3V728.1M814.03,554.6V557.8M845.7,731.3V728.1M845.7,554.6V557.8M877.37,731.3V728.1M877.37,554.6V557.8M909.03,731.3V728.1M909.03,554.6V557.8M940.7,731.3V728.1M940.7,554.6V557.8M703.2,718.68H706.4M940.7,718.68H937.5M703.2,693.44H706.4M940.7,693.44H937.5M703.2,668.19H706.4M940.7,668.19H937.5M703.2,642.95H706.4M940.7,642.95H937.5M703.2,617.71H706.4M940.7,617.71H937.5M703.2,592.46H706.4M940.7,592.46H937.5M703.2,567.22H706.4M940.7,567.22H937.5" stroke="#222" stroke-width="1.3" fill="none"/>
<path d="M734.87,731.3V729.5M734.87,554.6V556.4M766.53,731.3V729.5M766.53,554.6V556.4M798.2,731.3V729.5M798.2,554.6V556.4M829.87,731.3V729.5M829.87,554.6V556.4M861.53,731.3V729.5M861.53,554.6V556.4M893.2,731.3V729.5M893.2,554.6V556.4M924.87,731.3V729.5M924.87,554.6V556.4M703.2,731.3H705M940.7,731.3H938.9M703.2,706.06H705M940.7,706.06H938.9M703.2,680.81H705M940.7,680.81H938.9M703.2,655.57H705M940.7,655.57H938.9M703.2,630.33H705M940.7,630.33H938.9M703.2,605.09H705M940.7,605.09H938.9M703.2,579.84H705M940.7,579.84H938.9M703.2,554.6H705M940.7,554.6H938.9" stroke="#222" stroke-width="1.1" fill="none"/>
<rect x="703.2" y="554.6" width="237.5" height="176.7" fill="none" stroke="#222" stroke-width="1.2"/>
<g font-size="13.5" fill="#1a1a1a"><text x="719.03" y="746.3" text-anchor="middle">0</text><text x="750.7" y="746.3" text-anchor="middle">2</text><text x="782.37" y="746.3" text-anchor="middle">4</text><text x="814.03" y="746.3" text-anchor="middle">6</text><text x="845.7" y="746.3" text-anchor="middle">8</text><text x="877.37" y="746.3" text-anchor="middle">10</text><text x="909.03" y="746.3" text-anchor="middle">12</text><text x="940.7" y="746.3" text-anchor="middle">14</text><text x="699.2" y="722.78" text-anchor="end">0</text><text x="699.2" y="697.54" text-anchor="end">2</text><text x="699.2" y="672.29" text-anchor="end">4</text><text x="699.2" y="647.05" text-anchor="end">6</text><text x="699.2" y="621.81" text-anchor="end">8</text><text x="699.2" y="596.56" text-anchor="end">10</text><text x="699.2" y="571.32" text-anchor="end">12</text></g>
<path d="M722.73,720.33 C723.33,719.86 724.92,718.42 726.32,717.46 C727.71,716.51 729.11,715.71 731.1,714.59 C733.09,713.48 735.49,712.36 738.28,710.77 C741.07,709.17 744.26,707.66 747.85,705.02 C751.44,702.39 757.81,696.65 759.81,694.98 L911.72,570.81" stroke="#000" stroke-width="1.4" fill="none" stroke-linejoin="round" stroke-linecap="round" />
<g fill="none" stroke="#111" stroke-width="1.0"><circle cx="913.4" cy="574.4" r="3.0"/><circle cx="888.04" cy="594.5" r="3.0"/><circle cx="865.79" cy="611.24" r="3.0"/><circle cx="847.61" cy="625.36" r="3.0"/><circle cx="830.14" cy="637.8" r="3.0"/><circle cx="816.27" cy="648.8" r="3.0"/><circle cx="803.59" cy="658.13" r="3.0"/><circle cx="793.3" cy="666.51" r="3.0"/><circle cx="783.73" cy="673.68" r="3.0"/><circle cx="775.84" cy="679.67" r="3.0"/><circle cx="769.38" cy="685.17" r="3.0"/><circle cx="763.4" cy="689.23" r="3.0"/><circle cx="758.61" cy="693.06" r="3.0"/><circle cx="753.83" cy="696.41" r="3.0"/><circle cx="749.76" cy="699.52" r="3.0"/><circle cx="745.93" cy="703.11" r="3.0"/><circle cx="741.87" cy="706.7" r="3.0"/><circle cx="737.08" cy="709.81" r="3.0"/><circle cx="732.3" cy="713.4" r="3.0"/><circle cx="727.51" cy="716.27" r="3.0"/><circle cx="723.92" cy="718.66" r="3.0"/></g>
<path d="M719.14,719.38 C719.54,718.66 720.53,716.67 721.53,715.07 C722.53,713.48 723.52,711.8 725.12,709.81 C726.71,707.81 728.91,705.26 731.1,703.11 C733.29,700.96 733.89,700 738.28,696.89 C742.66,693.78 754.23,686.52 757.42,684.45" stroke="#ff0000" stroke-width="1.4" fill="none" stroke-linejoin="round" stroke-linecap="round" />
<g fill="none" stroke="#ff0000" stroke-width="1.0"><circle cx="758.13" cy="683.97" r="3.0"/><circle cx="752.63" cy="688.04" r="3.0"/><circle cx="747.37" cy="691.63" r="3.0"/><circle cx="742.58" cy="694.74" r="3.0"/><circle cx="738.28" cy="698.8" r="3.0"/><circle cx="734.69" cy="702.63" r="3.0"/><circle cx="731.1" cy="705.98" r="3.0"/><circle cx="727.51" cy="709.81" r="3.0"/><circle cx="723.92" cy="713.16" r="3.0"/><circle cx="721.53" cy="716.27" r="3.0"/><circle cx="719.62" cy="718.66" r="3.0"/></g>
<path d="M746.7,646.9L746.7,681.5" stroke="#000" stroke-width="2.6"/><path d="M746.7,691.5L742.45,680.5L746.7,680.5L750.95,680.5Z" fill="#000"/>
<text x="714.6" y="580.9" font-size="17">(i)</text>
<text x="717.9" y="638.5" font-size="10.5" fill="#222">Au-1,5PDT-AuNS</text>
<text x="871.8" y="617" font-size="10.5" fill="#222">Au Bare</text>
<g font-size="18" fill="#111"><text x="246.1" y="537.8" font-size="18.3" text-anchor="middle">E(V) vs.Ag/AgCl</text>
<text x="529.5" y="540.5" font-size="18.3" text-anchor="middle">E(V) vs.Ag/AgCl</text>
<text x="812" y="542.9" font-size="17.5" text-anchor="middle">Z(kΩ)</text>
<text x="242" y="769.2" font-size="18.3" text-anchor="middle">E(V) vs.Ag/AgCl</text>
<text x="531.2" y="766.2" font-size="18.3" text-anchor="middle">E(V) vs.Ag/AgCl</text>
<text x="818.5" y="764.1" font-size="17.5" text-anchor="middle">Z(kΩ)</text>
<text transform="translate(101,412.2) rotate(-90)" text-anchor="middle">j(μA*cm<tspan font-size="11.5" dy="-8">-2</tspan><tspan dy="8" dx="1">)</tspan></text>
<text transform="translate(387.8,412.2) rotate(-90)" text-anchor="middle">j(μA*cm<tspan font-size="11.5" dy="-8">-2</tspan><tspan dy="8" dx="1">)</tspan></text>
<text transform="translate(671.8,424) rotate(-90)" text-anchor="middle"><tspan font-size="12" dy="-7">-</tspan><tspan dy="7">Z(kΩ)</tspan></text>
<text transform="translate(104.5,642.2) rotate(-90)" text-anchor="middle">j(μA*cm<tspan font-size="11.5" dy="-8">-2</tspan><tspan dy="8" dx="1">)</tspan></text>
<text transform="translate(389.8,638.5) rotate(-90)" text-anchor="middle">j(μA*cm<tspan font-size="11.5" dy="-8">-2</tspan><tspan dy="8" dx="1">)</tspan></text>
<text transform="translate(682.5,642) rotate(-90)" text-anchor="middle"><tspan font-size="12" dy="-7">-</tspan><tspan dy="7">Z(kΩ)</tspan></text></g>
</svg></body></html>
